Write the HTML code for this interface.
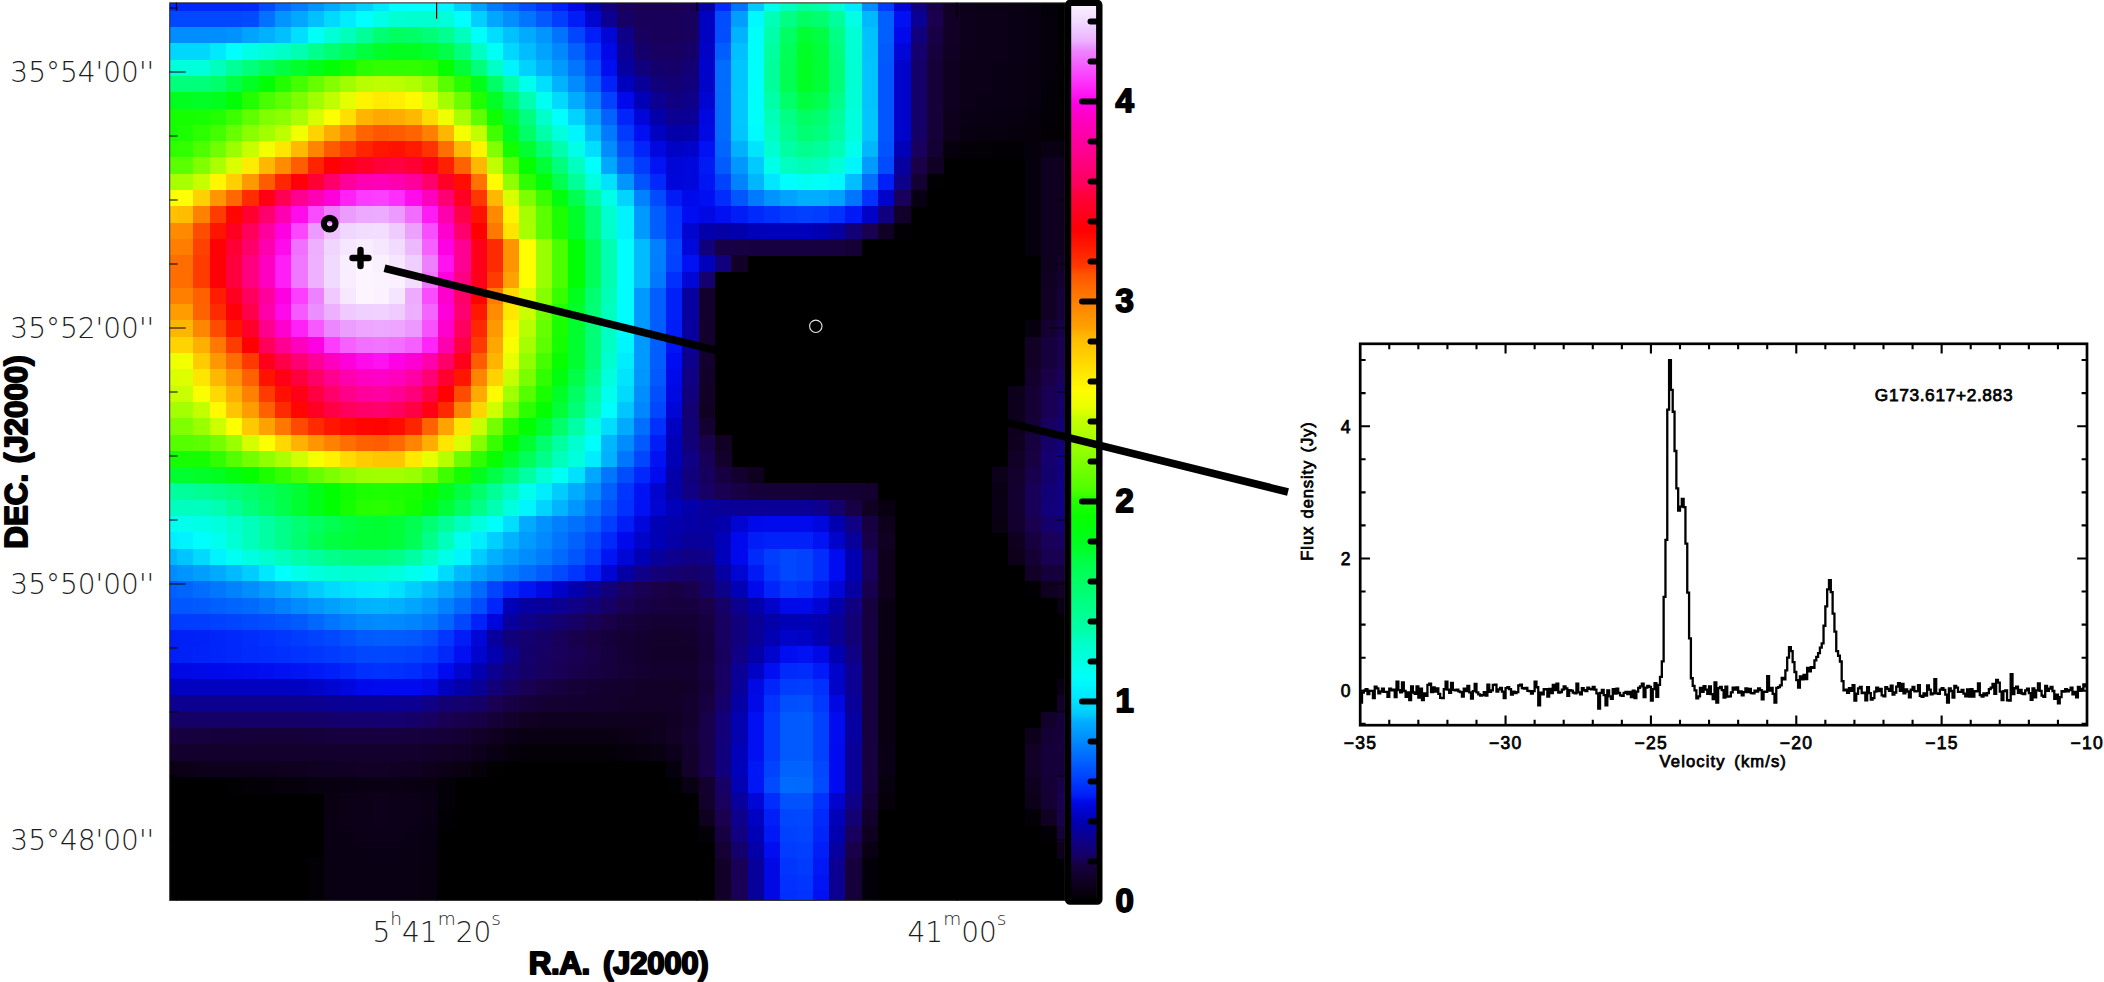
<!DOCTYPE html>
<html lang="en"><head><meta charset="utf-8"><title>G173.617+2.883</title>
<style>
html,body{margin:0;padding:0;background:#fff;}
svg{display:block}
.thin{font-family:"DejaVu Sans","Liberation Sans",sans-serif;font-weight:200;fill:#1c1c1c;}
.bold{font-family:"Liberation Sans","DejaVu Sans",sans-serif;font-weight:700;fill:#000;stroke:#000;stroke-linejoin:round;}
.pl{font-family:"Liberation Sans","DejaVu Sans",sans-serif;font-weight:400;fill:#000;stroke:#000;stroke-width:0.75;}
</style></head><body>
<svg width="2104" height="982" viewBox="0 0 2104 982">
<rect x="0" y="0" width="2104" height="982" fill="#fff"/>
<g shape-rendering="crispEdges">
<rect x="169.7" y="2.85" width="895.3" height="897.55" fill="#000"/>
<rect x="169.7" y="2.85" width="73" height="8.25" fill="#0027fb"/>
<rect x="242.3" y="2.85" width="16.7" height="8.25" fill="#0029fb"/>
<rect x="258.6" y="2.85" width="16.7" height="8.25" fill="#004bff"/>
<rect x="274.9" y="2.85" width="16.7" height="8.25" fill="#006aff"/>
<rect x="291.2" y="2.85" width="16.7" height="8.25" fill="#007eff"/>
<rect x="307.5" y="2.85" width="16.7" height="8.25" fill="#0094ff"/>
<rect x="323.8" y="2.85" width="16.7" height="8.25" fill="#00abff"/>
<rect x="340.1" y="2.85" width="16.7" height="8.25" fill="#00beff"/>
<rect x="356.4" y="2.85" width="16.7" height="8.25" fill="#00d1ff"/>
<rect x="372.7" y="2.85" width="16.7" height="8.25" fill="#00eaff"/>
<rect x="389" y="2.85" width="16.7" height="8.25" fill="#00fdff"/>
<rect x="405.3" y="2.85" width="33" height="8.25" fill="#00ffff"/>
<rect x="437.9" y="2.85" width="16.7" height="8.25" fill="#00f6ff"/>
<rect x="454.2" y="2.85" width="16.7" height="8.25" fill="#00d0ff"/>
<rect x="470.5" y="2.85" width="16.7" height="8.25" fill="#00a2ff"/>
<rect x="486.8" y="2.85" width="16.7" height="8.25" fill="#007cff"/>
<rect x="503.1" y="2.85" width="16.7" height="8.25" fill="#0064ff"/>
<rect x="519.4" y="2.85" width="16.7" height="8.25" fill="#004dff"/>
<rect x="535.7" y="2.85" width="16.7" height="8.25" fill="#0036ff"/>
<rect x="552" y="2.85" width="16.7" height="8.25" fill="#001ff8"/>
<rect x="568.3" y="2.85" width="16.7" height="8.25" fill="#0008e6"/>
<rect x="584.6" y="2.85" width="16.7" height="8.25" fill="#0100b1"/>
<rect x="600.9" y="2.85" width="16.7" height="8.25" fill="#11007d"/>
<rect x="617.2" y="2.85" width="16.7" height="8.25" fill="#18005b"/>
<rect x="633.5" y="2.85" width="49.3" height="8.25" fill="#1a0051"/>
<rect x="682.4" y="2.85" width="16.7" height="8.25" fill="#190054"/>
<rect x="698.7" y="2.85" width="16.7" height="8.25" fill="#0400a6"/>
<rect x="715" y="2.85" width="16.7" height="8.25" fill="#002bfc"/>
<rect x="731.3" y="2.85" width="16.7" height="8.25" fill="#0074ff"/>
<rect x="747.6" y="2.85" width="16.7" height="8.25" fill="#00c9ff"/>
<rect x="763.9" y="2.85" width="16.7" height="8.25" fill="#00ffea"/>
<rect x="780.2" y="2.85" width="16.7" height="8.25" fill="#00ffbc"/>
<rect x="796.5" y="2.85" width="16.7" height="8.25" fill="#00ff9f"/>
<rect x="812.8" y="2.85" width="16.7" height="8.25" fill="#00ffa9"/>
<rect x="829.1" y="2.85" width="16.7" height="8.25" fill="#00ffd1"/>
<rect x="845.4" y="2.85" width="16.7" height="8.25" fill="#00eaff"/>
<rect x="861.7" y="2.85" width="16.7" height="8.25" fill="#008dff"/>
<rect x="878" y="2.85" width="16.7" height="8.25" fill="#003aff"/>
<rect x="894.3" y="2.85" width="16.7" height="8.25" fill="#0005d4"/>
<rect x="910.6" y="2.85" width="16.7" height="8.25" fill="#100080"/>
<rect x="926.9" y="2.85" width="16.7" height="8.25" fill="#180044"/>
<rect x="943.2" y="2.85" width="16.7" height="8.25" fill="#100023"/>
<rect x="959.5" y="2.85" width="16.7" height="8.25" fill="#0c0019"/>
<rect x="975.8" y="2.85" width="16.7" height="8.25" fill="#0a0016"/>
<rect x="992.1" y="2.85" width="16.7" height="8.25" fill="#0a0014"/>
<rect x="1008.4" y="2.85" width="16.7" height="8.25" fill="#090012"/>
<rect x="1024.7" y="2.85" width="16.7" height="8.25" fill="#07000e"/>
<rect x="1041" y="2.85" width="16.7" height="8.25" fill="#040008"/>
<rect x="169.7" y="10.7" width="73" height="16.7" fill="#0048ff"/>
<rect x="242.3" y="10.7" width="16.7" height="16.7" fill="#004aff"/>
<rect x="258.6" y="10.7" width="16.7" height="16.7" fill="#0072ff"/>
<rect x="274.9" y="10.7" width="16.7" height="16.7" fill="#0095ff"/>
<rect x="291.2" y="10.7" width="16.7" height="16.7" fill="#00a9ff"/>
<rect x="307.5" y="10.7" width="16.7" height="16.7" fill="#00c0ff"/>
<rect x="323.8" y="10.7" width="16.7" height="16.7" fill="#00daff"/>
<rect x="340.1" y="10.7" width="16.7" height="16.7" fill="#00edff"/>
<rect x="356.4" y="10.7" width="16.7" height="16.7" fill="#00fffe"/>
<rect x="372.7" y="10.7" width="16.7" height="16.7" fill="#00ffe5"/>
<rect x="389" y="10.7" width="16.7" height="16.7" fill="#00ffd2"/>
<rect x="405.3" y="10.7" width="33" height="16.7" fill="#00ffd0"/>
<rect x="437.9" y="10.7" width="16.7" height="16.7" fill="#00ffd9"/>
<rect x="454.2" y="10.7" width="16.7" height="16.7" fill="#00ffff"/>
<rect x="470.5" y="10.7" width="16.7" height="16.7" fill="#00d0ff"/>
<rect x="486.8" y="10.7" width="16.7" height="16.7" fill="#00a7ff"/>
<rect x="503.1" y="10.7" width="16.7" height="16.7" fill="#008fff"/>
<rect x="519.4" y="10.7" width="16.7" height="16.7" fill="#0075ff"/>
<rect x="535.7" y="10.7" width="16.7" height="16.7" fill="#005aff"/>
<rect x="552" y="10.7" width="16.7" height="16.7" fill="#003eff"/>
<rect x="568.3" y="10.7" width="16.7" height="16.7" fill="#001df7"/>
<rect x="584.6" y="10.7" width="16.7" height="16.7" fill="#0005d1"/>
<rect x="600.9" y="10.7" width="16.7" height="16.7" fill="#0b0091"/>
<rect x="617.2" y="10.7" width="16.7" height="16.7" fill="#160066"/>
<rect x="633.5" y="10.7" width="49.3" height="16.7" fill="#18005a"/>
<rect x="682.4" y="10.7" width="16.7" height="16.7" fill="#17005e"/>
<rect x="698.7" y="10.7" width="16.7" height="16.7" fill="#0002c2"/>
<rect x="715" y="10.7" width="16.7" height="16.7" fill="#004dff"/>
<rect x="731.3" y="10.7" width="16.7" height="16.7" fill="#009fff"/>
<rect x="747.6" y="10.7" width="16.7" height="16.7" fill="#00f9ff"/>
<rect x="763.9" y="10.7" width="16.7" height="16.7" fill="#00ffb7"/>
<rect x="780.2" y="10.7" width="16.7" height="16.7" fill="#00ff83"/>
<rect x="796.5" y="10.7" width="16.7" height="16.7" fill="#00ff62"/>
<rect x="812.8" y="10.7" width="16.7" height="16.7" fill="#00ff6e"/>
<rect x="829.1" y="10.7" width="16.7" height="16.7" fill="#00ff9b"/>
<rect x="845.4" y="10.7" width="16.7" height="16.7" fill="#00ffe5"/>
<rect x="861.7" y="10.7" width="16.7" height="16.7" fill="#00b8ff"/>
<rect x="878" y="10.7" width="16.7" height="16.7" fill="#0060ff"/>
<rect x="894.3" y="10.7" width="16.7" height="16.7" fill="#0010f2"/>
<rect x="910.6" y="10.7" width="16.7" height="16.7" fill="#0a0094"/>
<rect x="926.9" y="10.7" width="16.7" height="16.7" fill="#1a004e"/>
<rect x="943.2" y="10.7" width="16.7" height="16.7" fill="#120027"/>
<rect x="959.5" y="10.7" width="16.7" height="16.7" fill="#0d001c"/>
<rect x="975.8" y="10.7" width="16.7" height="16.7" fill="#0c0019"/>
<rect x="992.1" y="10.7" width="16.7" height="16.7" fill="#0b0017"/>
<rect x="1008.4" y="10.7" width="16.7" height="16.7" fill="#0a0015"/>
<rect x="1024.7" y="10.7" width="16.7" height="16.7" fill="#080010"/>
<rect x="1041" y="10.7" width="16.7" height="16.7" fill="#040009"/>
<rect x="169.7" y="27" width="56.7" height="16.7" fill="#008dff"/>
<rect x="226" y="27" width="16.7" height="16.7" fill="#0093ff"/>
<rect x="242.3" y="27" width="16.7" height="16.7" fill="#00a4ff"/>
<rect x="258.6" y="27" width="16.7" height="16.7" fill="#00b1ff"/>
<rect x="274.9" y="27" width="16.7" height="16.7" fill="#00c0ff"/>
<rect x="291.2" y="27" width="16.7" height="16.7" fill="#00dfff"/>
<rect x="307.5" y="27" width="16.7" height="16.7" fill="#00fff6"/>
<rect x="323.8" y="27" width="16.7" height="16.7" fill="#00ffd7"/>
<rect x="340.1" y="27" width="16.7" height="16.7" fill="#00ffba"/>
<rect x="356.4" y="27" width="16.7" height="16.7" fill="#00ff99"/>
<rect x="372.7" y="27" width="16.7" height="16.7" fill="#00ff73"/>
<rect x="389" y="27" width="16.7" height="16.7" fill="#00ff5f"/>
<rect x="405.3" y="27" width="16.7" height="16.7" fill="#00ff66"/>
<rect x="421.6" y="27" width="16.7" height="16.7" fill="#00ff76"/>
<rect x="437.9" y="27" width="16.7" height="16.7" fill="#00ff90"/>
<rect x="454.2" y="27" width="16.7" height="16.7" fill="#00ffbe"/>
<rect x="470.5" y="27" width="16.7" height="16.7" fill="#00fffb"/>
<rect x="486.8" y="27" width="16.7" height="16.7" fill="#00deff"/>
<rect x="503.1" y="27" width="16.7" height="16.7" fill="#00c0ff"/>
<rect x="519.4" y="27" width="16.7" height="16.7" fill="#00aaff"/>
<rect x="535.7" y="27" width="16.7" height="16.7" fill="#0095ff"/>
<rect x="552" y="27" width="16.7" height="16.7" fill="#0073ff"/>
<rect x="568.3" y="27" width="16.7" height="16.7" fill="#0046ff"/>
<rect x="584.6" y="27" width="16.7" height="16.7" fill="#001ff8"/>
<rect x="600.9" y="27" width="16.7" height="16.7" fill="#0006d6"/>
<rect x="617.2" y="27" width="16.7" height="16.7" fill="#0e0088"/>
<rect x="633.5" y="27" width="16.7" height="16.7" fill="#170060"/>
<rect x="649.8" y="27" width="33" height="16.7" fill="#18005a"/>
<rect x="682.4" y="27" width="16.7" height="16.7" fill="#17005e"/>
<rect x="698.7" y="27" width="16.7" height="16.7" fill="#0002c2"/>
<rect x="715" y="27" width="16.7" height="16.7" fill="#004eff"/>
<rect x="731.3" y="27" width="16.7" height="16.7" fill="#00b3ff"/>
<rect x="747.6" y="27" width="16.7" height="16.7" fill="#00fffa"/>
<rect x="763.9" y="27" width="16.7" height="16.7" fill="#00ffa9"/>
<rect x="780.2" y="27" width="16.7" height="16.7" fill="#00ff63"/>
<rect x="796.5" y="27" width="16.7" height="16.7" fill="#00ff33"/>
<rect x="812.8" y="27" width="16.7" height="16.7" fill="#00ff44"/>
<rect x="829.1" y="27" width="16.7" height="16.7" fill="#00ff85"/>
<rect x="845.4" y="27" width="16.7" height="16.7" fill="#00ffd5"/>
<rect x="861.7" y="27" width="16.7" height="16.7" fill="#00c1ff"/>
<rect x="878" y="27" width="16.7" height="16.7" fill="#0060ff"/>
<rect x="894.3" y="27" width="16.7" height="16.7" fill="#0009ec"/>
<rect x="910.6" y="27" width="16.7" height="16.7" fill="#11007d"/>
<rect x="926.9" y="27" width="16.7" height="16.7" fill="#180046"/>
<rect x="943.2" y="27" width="16.7" height="16.7" fill="#120026"/>
<rect x="959.5" y="27" width="16.7" height="16.7" fill="#0d001c"/>
<rect x="975.8" y="27" width="16.7" height="16.7" fill="#0c0019"/>
<rect x="992.1" y="27" width="16.7" height="16.7" fill="#0b0017"/>
<rect x="1008.4" y="27" width="16.7" height="16.7" fill="#0a0015"/>
<rect x="1024.7" y="27" width="16.7" height="16.7" fill="#080010"/>
<rect x="1041" y="27" width="16.7" height="16.7" fill="#040009"/>
<rect x="169.7" y="43.3" width="40.4" height="16.7" fill="#00d7ff"/>
<rect x="209.7" y="43.3" width="16.7" height="16.7" fill="#00e9ff"/>
<rect x="226" y="43.3" width="16.7" height="16.7" fill="#00fffe"/>
<rect x="242.3" y="43.3" width="16.7" height="16.7" fill="#00ffe6"/>
<rect x="258.6" y="43.3" width="16.7" height="16.7" fill="#00ffd7"/>
<rect x="274.9" y="43.3" width="16.7" height="16.7" fill="#00ffc8"/>
<rect x="291.2" y="43.3" width="16.7" height="16.7" fill="#00ffae"/>
<rect x="307.5" y="43.3" width="16.7" height="16.7" fill="#00ff8c"/>
<rect x="323.8" y="43.3" width="16.7" height="16.7" fill="#00ff73"/>
<rect x="340.1" y="43.3" width="16.7" height="16.7" fill="#00ff5b"/>
<rect x="356.4" y="43.3" width="16.7" height="16.7" fill="#00ff3f"/>
<rect x="372.7" y="43.3" width="16.7" height="16.7" fill="#00ff28"/>
<rect x="389" y="43.3" width="16.7" height="16.7" fill="#00ff1e"/>
<rect x="405.3" y="43.3" width="16.7" height="16.7" fill="#00ff21"/>
<rect x="421.6" y="43.3" width="16.7" height="16.7" fill="#00ff2c"/>
<rect x="437.9" y="43.3" width="16.7" height="16.7" fill="#00ff46"/>
<rect x="454.2" y="43.3" width="16.7" height="16.7" fill="#00ff7d"/>
<rect x="470.5" y="43.3" width="16.7" height="16.7" fill="#00ffc2"/>
<rect x="486.8" y="43.3" width="16.7" height="16.7" fill="#00fff7"/>
<rect x="503.1" y="43.3" width="16.7" height="16.7" fill="#00d7ff"/>
<rect x="519.4" y="43.3" width="16.7" height="16.7" fill="#00bdff"/>
<rect x="535.7" y="43.3" width="16.7" height="16.7" fill="#00a4ff"/>
<rect x="552" y="43.3" width="16.7" height="16.7" fill="#0088ff"/>
<rect x="568.3" y="43.3" width="16.7" height="16.7" fill="#0061ff"/>
<rect x="584.6" y="43.3" width="16.7" height="16.7" fill="#0035ff"/>
<rect x="600.9" y="43.3" width="16.7" height="16.7" fill="#0008e7"/>
<rect x="617.2" y="43.3" width="16.7" height="16.7" fill="#0a0095"/>
<rect x="633.5" y="43.3" width="16.7" height="16.7" fill="#15006b"/>
<rect x="649.8" y="43.3" width="33" height="16.7" fill="#170060"/>
<rect x="682.4" y="43.3" width="16.7" height="16.7" fill="#150067"/>
<rect x="698.7" y="43.3" width="16.7" height="16.7" fill="#0003c6"/>
<rect x="715" y="43.3" width="16.7" height="16.7" fill="#005eff"/>
<rect x="731.3" y="43.3" width="16.7" height="16.7" fill="#00c0ff"/>
<rect x="747.6" y="43.3" width="16.7" height="16.7" fill="#00fffa"/>
<rect x="763.9" y="43.3" width="16.7" height="16.7" fill="#00ff9f"/>
<rect x="780.2" y="43.3" width="16.7" height="16.7" fill="#00ff57"/>
<rect x="796.5" y="43.3" width="16.7" height="16.7" fill="#00ff27"/>
<rect x="812.8" y="43.3" width="16.7" height="16.7" fill="#00ff39"/>
<rect x="829.1" y="43.3" width="16.7" height="16.7" fill="#00ff7c"/>
<rect x="845.4" y="43.3" width="16.7" height="16.7" fill="#00ffd4"/>
<rect x="861.7" y="43.3" width="16.7" height="16.7" fill="#00c2ff"/>
<rect x="878" y="43.3" width="16.7" height="16.7" fill="#005bff"/>
<rect x="894.3" y="43.3" width="16.7" height="16.7" fill="#0006d7"/>
<rect x="910.6" y="43.3" width="16.7" height="16.7" fill="#14006e"/>
<rect x="926.9" y="43.3" width="16.7" height="16.7" fill="#17003e"/>
<rect x="943.2" y="43.3" width="16.7" height="16.7" fill="#100023"/>
<rect x="959.5" y="43.3" width="16.7" height="16.7" fill="#0d001b"/>
<rect x="975.8" y="43.3" width="16.7" height="16.7" fill="#0b0018"/>
<rect x="992.1" y="43.3" width="16.7" height="16.7" fill="#0b0017"/>
<rect x="1008.4" y="43.3" width="16.7" height="16.7" fill="#0a0015"/>
<rect x="1024.7" y="43.3" width="16.7" height="16.7" fill="#080011"/>
<rect x="1041" y="43.3" width="16.7" height="16.7" fill="#040009"/>
<rect x="169.7" y="59.6" width="40.4" height="16.7" fill="#00ffdb"/>
<rect x="209.7" y="59.6" width="16.7" height="16.7" fill="#00ffbe"/>
<rect x="226" y="59.6" width="16.7" height="16.7" fill="#00ff99"/>
<rect x="242.3" y="59.6" width="16.7" height="16.7" fill="#00ff7a"/>
<rect x="258.6" y="59.6" width="16.7" height="16.7" fill="#00ff5e"/>
<rect x="274.9" y="59.6" width="16.7" height="16.7" fill="#00ff43"/>
<rect x="291.2" y="59.6" width="16.7" height="16.7" fill="#00ff2b"/>
<rect x="307.5" y="59.6" width="16.7" height="16.7" fill="#00ff16"/>
<rect x="323.8" y="59.6" width="16.7" height="16.7" fill="#00ff05"/>
<rect x="340.1" y="59.6" width="16.7" height="16.7" fill="#10ff00"/>
<rect x="356.4" y="59.6" width="16.7" height="16.7" fill="#29ff00"/>
<rect x="372.7" y="59.6" width="16.7" height="16.7" fill="#31ff00"/>
<rect x="389" y="59.6" width="33" height="16.7" fill="#30ff00"/>
<rect x="421.6" y="59.6" width="16.7" height="16.7" fill="#27ff00"/>
<rect x="437.9" y="59.6" width="16.7" height="16.7" fill="#03ff00"/>
<rect x="454.2" y="59.6" width="16.7" height="16.7" fill="#00ff36"/>
<rect x="470.5" y="59.6" width="16.7" height="16.7" fill="#00ff7b"/>
<rect x="486.8" y="59.6" width="16.7" height="16.7" fill="#00ffc6"/>
<rect x="503.1" y="59.6" width="16.7" height="16.7" fill="#00f3ff"/>
<rect x="519.4" y="59.6" width="16.7" height="16.7" fill="#00d2ff"/>
<rect x="535.7" y="59.6" width="16.7" height="16.7" fill="#00b4ff"/>
<rect x="552" y="59.6" width="16.7" height="16.7" fill="#0099ff"/>
<rect x="568.3" y="59.6" width="16.7" height="16.7" fill="#0076ff"/>
<rect x="584.6" y="59.6" width="16.7" height="16.7" fill="#0049ff"/>
<rect x="600.9" y="59.6" width="16.7" height="16.7" fill="#000df1"/>
<rect x="617.2" y="59.6" width="16.7" height="16.7" fill="#0600a1"/>
<rect x="633.5" y="59.6" width="16.7" height="16.7" fill="#11007d"/>
<rect x="649.8" y="59.6" width="16.7" height="16.7" fill="#14006c"/>
<rect x="666.1" y="59.6" width="16.7" height="16.7" fill="#150069"/>
<rect x="682.4" y="59.6" width="16.7" height="16.7" fill="#130075"/>
<rect x="698.7" y="59.6" width="16.7" height="16.7" fill="#0004ca"/>
<rect x="715" y="59.6" width="16.7" height="16.7" fill="#006dff"/>
<rect x="731.3" y="59.6" width="16.7" height="16.7" fill="#00c6ff"/>
<rect x="747.6" y="59.6" width="16.7" height="16.7" fill="#00fffa"/>
<rect x="763.9" y="59.6" width="16.7" height="16.7" fill="#00ff9a"/>
<rect x="780.2" y="59.6" width="16.7" height="16.7" fill="#00ff52"/>
<rect x="796.5" y="59.6" width="16.7" height="16.7" fill="#00ff23"/>
<rect x="812.8" y="59.6" width="16.7" height="16.7" fill="#00ff36"/>
<rect x="829.1" y="59.6" width="16.7" height="16.7" fill="#00ff78"/>
<rect x="845.4" y="59.6" width="16.7" height="16.7" fill="#00ffd3"/>
<rect x="861.7" y="59.6" width="16.7" height="16.7" fill="#00c3ff"/>
<rect x="878" y="59.6" width="16.7" height="16.7" fill="#0056ff"/>
<rect x="894.3" y="59.6" width="16.7" height="16.7" fill="#0004cb"/>
<rect x="910.6" y="59.6" width="16.7" height="16.7" fill="#150067"/>
<rect x="926.9" y="59.6" width="16.7" height="16.7" fill="#160039"/>
<rect x="943.2" y="59.6" width="16.7" height="16.7" fill="#0f0020"/>
<rect x="959.5" y="59.6" width="16.7" height="16.7" fill="#0c0019"/>
<rect x="975.8" y="59.6" width="16.7" height="16.7" fill="#0b0017"/>
<rect x="992.1" y="59.6" width="16.7" height="16.7" fill="#0a0016"/>
<rect x="1008.4" y="59.6" width="16.7" height="16.7" fill="#0a0014"/>
<rect x="1024.7" y="59.6" width="16.7" height="16.7" fill="#080011"/>
<rect x="1041" y="59.6" width="16.7" height="16.7" fill="#040009"/>
<rect x="169.7" y="75.9" width="40.4" height="16.7" fill="#00ff7b"/>
<rect x="209.7" y="75.9" width="16.7" height="16.7" fill="#00ff6c"/>
<rect x="226" y="75.9" width="16.7" height="16.7" fill="#00ff47"/>
<rect x="242.3" y="75.9" width="16.7" height="16.7" fill="#00ff24"/>
<rect x="258.6" y="75.9" width="16.7" height="16.7" fill="#00ff05"/>
<rect x="274.9" y="75.9" width="16.7" height="16.7" fill="#21ff00"/>
<rect x="291.2" y="75.9" width="16.7" height="16.7" fill="#44ff00"/>
<rect x="307.5" y="75.9" width="16.7" height="16.7" fill="#66ff00"/>
<rect x="323.8" y="75.9" width="16.7" height="16.7" fill="#84ff00"/>
<rect x="340.1" y="75.9" width="16.7" height="16.7" fill="#9fff00"/>
<rect x="356.4" y="75.9" width="16.7" height="16.7" fill="#b7ff00"/>
<rect x="372.7" y="75.9" width="16.7" height="16.7" fill="#bdff00"/>
<rect x="389" y="75.9" width="16.7" height="16.7" fill="#b9ff00"/>
<rect x="405.3" y="75.9" width="16.7" height="16.7" fill="#afff00"/>
<rect x="421.6" y="75.9" width="16.7" height="16.7" fill="#95ff00"/>
<rect x="437.9" y="75.9" width="16.7" height="16.7" fill="#59ff00"/>
<rect x="454.2" y="75.9" width="16.7" height="16.7" fill="#27ff00"/>
<rect x="470.5" y="75.9" width="16.7" height="16.7" fill="#00ff18"/>
<rect x="486.8" y="75.9" width="16.7" height="16.7" fill="#00ff64"/>
<rect x="503.1" y="75.9" width="16.7" height="16.7" fill="#00ffad"/>
<rect x="519.4" y="75.9" width="16.7" height="16.7" fill="#00ffed"/>
<rect x="535.7" y="75.9" width="16.7" height="16.7" fill="#00dfff"/>
<rect x="552" y="75.9" width="16.7" height="16.7" fill="#00b2ff"/>
<rect x="568.3" y="75.9" width="16.7" height="16.7" fill="#008bff"/>
<rect x="584.6" y="75.9" width="16.7" height="16.7" fill="#0060ff"/>
<rect x="600.9" y="75.9" width="16.7" height="16.7" fill="#0022f9"/>
<rect x="617.2" y="75.9" width="16.7" height="16.7" fill="#0001bd"/>
<rect x="633.5" y="75.9" width="16.7" height="16.7" fill="#090099"/>
<rect x="649.8" y="75.9" width="16.7" height="16.7" fill="#11007c"/>
<rect x="666.1" y="75.9" width="16.7" height="16.7" fill="#130074"/>
<rect x="682.4" y="75.9" width="16.7" height="16.7" fill="#11007c"/>
<rect x="698.7" y="75.9" width="16.7" height="16.7" fill="#0003c8"/>
<rect x="715" y="75.9" width="16.7" height="16.7" fill="#006dff"/>
<rect x="731.3" y="75.9" width="16.7" height="16.7" fill="#00c6ff"/>
<rect x="747.6" y="75.9" width="16.7" height="16.7" fill="#00fffa"/>
<rect x="763.9" y="75.9" width="16.7" height="16.7" fill="#00ff9a"/>
<rect x="780.2" y="75.9" width="16.7" height="16.7" fill="#00ff52"/>
<rect x="796.5" y="75.9" width="16.7" height="16.7" fill="#00ff23"/>
<rect x="812.8" y="75.9" width="16.7" height="16.7" fill="#00ff36"/>
<rect x="829.1" y="75.9" width="16.7" height="16.7" fill="#00ff78"/>
<rect x="845.4" y="75.9" width="16.7" height="16.7" fill="#00ffd3"/>
<rect x="861.7" y="75.9" width="16.7" height="16.7" fill="#00c3ff"/>
<rect x="878" y="75.9" width="16.7" height="16.7" fill="#0056ff"/>
<rect x="894.3" y="75.9" width="16.7" height="16.7" fill="#0004cb"/>
<rect x="910.6" y="75.9" width="16.7" height="16.7" fill="#150067"/>
<rect x="926.9" y="75.9" width="16.7" height="16.7" fill="#160039"/>
<rect x="943.2" y="75.9" width="16.7" height="16.7" fill="#0f0020"/>
<rect x="959.5" y="75.9" width="16.7" height="16.7" fill="#0c0019"/>
<rect x="975.8" y="75.9" width="16.7" height="16.7" fill="#0b0017"/>
<rect x="992.1" y="75.9" width="16.7" height="16.7" fill="#0a0016"/>
<rect x="1008.4" y="75.9" width="16.7" height="16.7" fill="#0a0014"/>
<rect x="1024.7" y="75.9" width="16.7" height="16.7" fill="#080011"/>
<rect x="1041" y="75.9" width="16.7" height="16.7" fill="#040009"/>
<rect x="169.7" y="92.2" width="7.8" height="16.7" fill="#00ff1e"/>
<rect x="177.1" y="92.2" width="16.7" height="16.7" fill="#00ff20"/>
<rect x="193.4" y="92.2" width="16.7" height="16.7" fill="#00ff25"/>
<rect x="209.7" y="92.2" width="16.7" height="16.7" fill="#00ff1d"/>
<rect x="226" y="92.2" width="16.7" height="16.7" fill="#00ff05"/>
<rect x="242.3" y="92.2" width="16.7" height="16.7" fill="#22ff00"/>
<rect x="258.6" y="92.2" width="16.7" height="16.7" fill="#47ff00"/>
<rect x="274.9" y="92.2" width="16.7" height="16.7" fill="#5eff00"/>
<rect x="291.2" y="92.2" width="16.7" height="16.7" fill="#7cff00"/>
<rect x="307.5" y="92.2" width="16.7" height="16.7" fill="#a0ff00"/>
<rect x="323.8" y="92.2" width="16.7" height="16.7" fill="#bfff00"/>
<rect x="340.1" y="92.2" width="16.7" height="16.7" fill="#e3ff00"/>
<rect x="356.4" y="92.2" width="16.7" height="16.7" fill="#fff400"/>
<rect x="372.7" y="92.2" width="16.7" height="16.7" fill="#ffea00"/>
<rect x="389" y="92.2" width="16.7" height="16.7" fill="#ffef00"/>
<rect x="405.3" y="92.2" width="16.7" height="16.7" fill="#fffa00"/>
<rect x="421.6" y="92.2" width="16.7" height="16.7" fill="#deff00"/>
<rect x="437.9" y="92.2" width="16.7" height="16.7" fill="#a3ff00"/>
<rect x="454.2" y="92.2" width="16.7" height="16.7" fill="#6dff00"/>
<rect x="470.5" y="92.2" width="16.7" height="16.7" fill="#20ff00"/>
<rect x="486.8" y="92.2" width="16.7" height="16.7" fill="#00ff25"/>
<rect x="503.1" y="92.2" width="16.7" height="16.7" fill="#00ff66"/>
<rect x="519.4" y="92.2" width="16.7" height="16.7" fill="#00ffaf"/>
<rect x="535.7" y="92.2" width="16.7" height="16.7" fill="#00fff2"/>
<rect x="552" y="92.2" width="16.7" height="16.7" fill="#00daff"/>
<rect x="568.3" y="92.2" width="16.7" height="16.7" fill="#00acff"/>
<rect x="584.6" y="92.2" width="16.7" height="16.7" fill="#0080ff"/>
<rect x="600.9" y="92.2" width="16.7" height="16.7" fill="#0042ff"/>
<rect x="617.2" y="92.2" width="16.7" height="16.7" fill="#0009eb"/>
<rect x="633.5" y="92.2" width="16.7" height="16.7" fill="#0000b6"/>
<rect x="649.8" y="92.2" width="16.7" height="16.7" fill="#0b0092"/>
<rect x="666.1" y="92.2" width="16.7" height="16.7" fill="#100081"/>
<rect x="682.4" y="92.2" width="16.7" height="16.7" fill="#0e0087"/>
<rect x="698.7" y="92.2" width="16.7" height="16.7" fill="#0005d2"/>
<rect x="715" y="92.2" width="16.7" height="16.7" fill="#006cff"/>
<rect x="731.3" y="92.2" width="16.7" height="16.7" fill="#00c7ff"/>
<rect x="747.6" y="92.2" width="16.7" height="16.7" fill="#00fffb"/>
<rect x="763.9" y="92.2" width="16.7" height="16.7" fill="#00ffa6"/>
<rect x="780.2" y="92.2" width="16.7" height="16.7" fill="#00ff68"/>
<rect x="796.5" y="92.2" width="16.7" height="16.7" fill="#00ff3f"/>
<rect x="812.8" y="92.2" width="16.7" height="16.7" fill="#00ff4f"/>
<rect x="829.1" y="92.2" width="16.7" height="16.7" fill="#00ff88"/>
<rect x="845.4" y="92.2" width="16.7" height="16.7" fill="#00ffd7"/>
<rect x="861.7" y="92.2" width="16.7" height="16.7" fill="#00c3ff"/>
<rect x="878" y="92.2" width="16.7" height="16.7" fill="#0056ff"/>
<rect x="894.3" y="92.2" width="16.7" height="16.7" fill="#0004cb"/>
<rect x="910.6" y="92.2" width="16.7" height="16.7" fill="#150067"/>
<rect x="926.9" y="92.2" width="16.7" height="16.7" fill="#160039"/>
<rect x="943.2" y="92.2" width="16.7" height="16.7" fill="#0f001f"/>
<rect x="959.5" y="92.2" width="16.7" height="16.7" fill="#0b0018"/>
<rect x="975.8" y="92.2" width="16.7" height="16.7" fill="#0a0016"/>
<rect x="992.1" y="92.2" width="16.7" height="16.7" fill="#0a0015"/>
<rect x="1008.4" y="92.2" width="16.7" height="16.7" fill="#090013"/>
<rect x="1024.7" y="92.2" width="16.7" height="16.7" fill="#070010"/>
<rect x="1041" y="92.2" width="16.7" height="16.7" fill="#040008"/>
<rect x="169.7" y="108.5" width="7.8" height="16.7" fill="#15ff00"/>
<rect x="177.1" y="108.5" width="16.7" height="16.7" fill="#16ff00"/>
<rect x="193.4" y="108.5" width="16.7" height="16.7" fill="#17ff00"/>
<rect x="209.7" y="108.5" width="16.7" height="16.7" fill="#23ff00"/>
<rect x="226" y="108.5" width="16.7" height="16.7" fill="#3cff00"/>
<rect x="242.3" y="108.5" width="16.7" height="16.7" fill="#60ff00"/>
<rect x="258.6" y="108.5" width="16.7" height="16.7" fill="#80ff00"/>
<rect x="274.9" y="108.5" width="16.7" height="16.7" fill="#8dff00"/>
<rect x="291.2" y="108.5" width="16.7" height="16.7" fill="#a9ff00"/>
<rect x="307.5" y="108.5" width="16.7" height="16.7" fill="#d6ff00"/>
<rect x="323.8" y="108.5" width="16.7" height="16.7" fill="#fdff00"/>
<rect x="340.1" y="108.5" width="16.7" height="16.7" fill="#ffdf00"/>
<rect x="356.4" y="108.5" width="16.7" height="16.7" fill="#ffb500"/>
<rect x="372.7" y="108.5" width="16.7" height="16.7" fill="#ffa800"/>
<rect x="389" y="108.5" width="16.7" height="16.7" fill="#ffad00"/>
<rect x="405.3" y="108.5" width="16.7" height="16.7" fill="#ffb800"/>
<rect x="421.6" y="108.5" width="16.7" height="16.7" fill="#ffdb00"/>
<rect x="437.9" y="108.5" width="16.7" height="16.7" fill="#f0ff00"/>
<rect x="454.2" y="108.5" width="16.7" height="16.7" fill="#a9ff00"/>
<rect x="470.5" y="108.5" width="16.7" height="16.7" fill="#60ff00"/>
<rect x="486.8" y="108.5" width="16.7" height="16.7" fill="#0fff00"/>
<rect x="503.1" y="108.5" width="16.7" height="16.7" fill="#00ff35"/>
<rect x="519.4" y="108.5" width="16.7" height="16.7" fill="#00ff7e"/>
<rect x="535.7" y="108.5" width="16.7" height="16.7" fill="#00ffc9"/>
<rect x="552" y="108.5" width="16.7" height="16.7" fill="#00fffd"/>
<rect x="568.3" y="108.5" width="16.7" height="16.7" fill="#00d3ff"/>
<rect x="584.6" y="108.5" width="16.7" height="16.7" fill="#00a0ff"/>
<rect x="600.9" y="108.5" width="16.7" height="16.7" fill="#0063ff"/>
<rect x="617.2" y="108.5" width="16.7" height="16.7" fill="#0024fa"/>
<rect x="633.5" y="108.5" width="16.7" height="16.7" fill="#0006d8"/>
<rect x="649.8" y="108.5" width="16.7" height="16.7" fill="#0300aa"/>
<rect x="666.1" y="108.5" width="16.7" height="16.7" fill="#0b0092"/>
<rect x="682.4" y="108.5" width="16.7" height="16.7" fill="#0a0096"/>
<rect x="698.7" y="108.5" width="16.7" height="16.7" fill="#0007df"/>
<rect x="715" y="108.5" width="16.7" height="16.7" fill="#006bff"/>
<rect x="731.3" y="108.5" width="16.7" height="16.7" fill="#00c7ff"/>
<rect x="747.6" y="108.5" width="16.7" height="16.7" fill="#00fffb"/>
<rect x="763.9" y="108.5" width="16.7" height="16.7" fill="#00ffb7"/>
<rect x="780.2" y="108.5" width="16.7" height="16.7" fill="#00ff84"/>
<rect x="796.5" y="108.5" width="16.7" height="16.7" fill="#00ff63"/>
<rect x="812.8" y="108.5" width="16.7" height="16.7" fill="#00ff6f"/>
<rect x="829.1" y="108.5" width="16.7" height="16.7" fill="#00ff9b"/>
<rect x="845.4" y="108.5" width="16.7" height="16.7" fill="#00ffdc"/>
<rect x="861.7" y="108.5" width="16.7" height="16.7" fill="#00c5ff"/>
<rect x="878" y="108.5" width="16.7" height="16.7" fill="#0056ff"/>
<rect x="894.3" y="108.5" width="16.7" height="16.7" fill="#0004cb"/>
<rect x="910.6" y="108.5" width="16.7" height="16.7" fill="#150067"/>
<rect x="926.9" y="108.5" width="16.7" height="16.7" fill="#160039"/>
<rect x="943.2" y="108.5" width="16.7" height="16.7" fill="#0e001d"/>
<rect x="959.5" y="108.5" width="16.7" height="16.7" fill="#0a0015"/>
<rect x="975.8" y="108.5" width="16.7" height="16.7" fill="#090013"/>
<rect x="992.1" y="108.5" width="16.7" height="16.7" fill="#080012"/>
<rect x="1008.4" y="108.5" width="16.7" height="16.7" fill="#080010"/>
<rect x="1024.7" y="108.5" width="16.7" height="16.7" fill="#06000d"/>
<rect x="1041" y="108.5" width="16.7" height="16.7" fill="#030007"/>
<rect x="169.7" y="124.8" width="7.8" height="16.7" fill="#15ff00"/>
<rect x="177.1" y="124.8" width="16.7" height="16.7" fill="#1cff00"/>
<rect x="193.4" y="124.8" width="16.7" height="16.7" fill="#2bff00"/>
<rect x="209.7" y="124.8" width="16.7" height="16.7" fill="#43ff00"/>
<rect x="226" y="124.8" width="16.7" height="16.7" fill="#68ff00"/>
<rect x="242.3" y="124.8" width="16.7" height="16.7" fill="#89ff00"/>
<rect x="258.6" y="124.8" width="16.7" height="16.7" fill="#a1ff00"/>
<rect x="274.9" y="124.8" width="16.7" height="16.7" fill="#bdff00"/>
<rect x="291.2" y="124.8" width="16.7" height="16.7" fill="#f2ff00"/>
<rect x="307.5" y="124.8" width="16.7" height="16.7" fill="#ffd300"/>
<rect x="323.8" y="124.8" width="16.7" height="16.7" fill="#ffac00"/>
<rect x="340.1" y="124.8" width="16.7" height="16.7" fill="#ff8a00"/>
<rect x="356.4" y="124.8" width="16.7" height="16.7" fill="#ff6400"/>
<rect x="372.7" y="124.8" width="16.7" height="16.7" fill="#ff5700"/>
<rect x="389" y="124.8" width="16.7" height="16.7" fill="#ff5b00"/>
<rect x="405.3" y="124.8" width="16.7" height="16.7" fill="#ff6400"/>
<rect x="421.6" y="124.8" width="16.7" height="16.7" fill="#ff7f00"/>
<rect x="437.9" y="124.8" width="16.7" height="16.7" fill="#ffb600"/>
<rect x="454.2" y="124.8" width="16.7" height="16.7" fill="#f4ff00"/>
<rect x="470.5" y="124.8" width="16.7" height="16.7" fill="#c1ff00"/>
<rect x="486.8" y="124.8" width="16.7" height="16.7" fill="#41ff00"/>
<rect x="503.1" y="124.8" width="16.7" height="16.7" fill="#00ff1d"/>
<rect x="519.4" y="124.8" width="16.7" height="16.7" fill="#00ff66"/>
<rect x="535.7" y="124.8" width="16.7" height="16.7" fill="#00ffa9"/>
<rect x="552" y="124.8" width="16.7" height="16.7" fill="#00ffda"/>
<rect x="568.3" y="124.8" width="16.7" height="16.7" fill="#00f5ff"/>
<rect x="584.6" y="124.8" width="16.7" height="16.7" fill="#00bcff"/>
<rect x="600.9" y="124.8" width="16.7" height="16.7" fill="#007aff"/>
<rect x="617.2" y="124.8" width="16.7" height="16.7" fill="#0039ff"/>
<rect x="633.5" y="124.8" width="16.7" height="16.7" fill="#000ff2"/>
<rect x="649.8" y="124.8" width="16.7" height="16.7" fill="#0002c2"/>
<rect x="666.1" y="124.8" width="16.7" height="16.7" fill="#0300aa"/>
<rect x="682.4" y="124.8" width="16.7" height="16.7" fill="#0300ac"/>
<rect x="698.7" y="124.8" width="16.7" height="16.7" fill="#0008e4"/>
<rect x="715" y="124.8" width="16.7" height="16.7" fill="#006bff"/>
<rect x="731.3" y="124.8" width="16.7" height="16.7" fill="#00c5ff"/>
<rect x="747.6" y="124.8" width="16.7" height="16.7" fill="#00fbff"/>
<rect x="763.9" y="124.8" width="16.7" height="16.7" fill="#00ffc0"/>
<rect x="780.2" y="124.8" width="16.7" height="16.7" fill="#00ff91"/>
<rect x="796.5" y="124.8" width="16.7" height="16.7" fill="#00ff73"/>
<rect x="812.8" y="124.8" width="16.7" height="16.7" fill="#00ff7d"/>
<rect x="829.1" y="124.8" width="16.7" height="16.7" fill="#00ffa2"/>
<rect x="845.4" y="124.8" width="16.7" height="16.7" fill="#00ffdd"/>
<rect x="861.7" y="124.8" width="16.7" height="16.7" fill="#00c5ff"/>
<rect x="878" y="124.8" width="16.7" height="16.7" fill="#0056ff"/>
<rect x="894.3" y="124.8" width="16.7" height="16.7" fill="#0004cb"/>
<rect x="910.6" y="124.8" width="16.7" height="16.7" fill="#150067"/>
<rect x="926.9" y="124.8" width="16.7" height="16.7" fill="#160039"/>
<rect x="943.2" y="124.8" width="16.7" height="16.7" fill="#0c001a"/>
<rect x="959.5" y="124.8" width="16.7" height="16.7" fill="#080011"/>
<rect x="975.8" y="124.8" width="16.7" height="16.7" fill="#07000f"/>
<rect x="992.1" y="124.8" width="16.7" height="16.7" fill="#07000e"/>
<rect x="1008.4" y="124.8" width="16.7" height="16.7" fill="#06000c"/>
<rect x="1024.7" y="124.8" width="16.7" height="16.7" fill="#05000a"/>
<rect x="1041" y="124.8" width="16.7" height="16.7" fill="#020005"/>
<rect x="169.7" y="141.1" width="7.8" height="16.7" fill="#2cff00"/>
<rect x="177.1" y="141.1" width="16.7" height="16.7" fill="#32ff00"/>
<rect x="193.4" y="141.1" width="16.7" height="16.7" fill="#4eff00"/>
<rect x="209.7" y="141.1" width="16.7" height="16.7" fill="#70ff00"/>
<rect x="226" y="141.1" width="16.7" height="16.7" fill="#9bff00"/>
<rect x="242.3" y="141.1" width="16.7" height="16.7" fill="#c6ff00"/>
<rect x="258.6" y="141.1" width="16.7" height="16.7" fill="#f3ff00"/>
<rect x="274.9" y="141.1" width="16.7" height="16.7" fill="#ffe600"/>
<rect x="291.2" y="141.1" width="16.7" height="16.7" fill="#ffb900"/>
<rect x="307.5" y="141.1" width="16.7" height="16.7" fill="#ff8400"/>
<rect x="323.8" y="141.1" width="16.7" height="16.7" fill="#ff5a00"/>
<rect x="340.1" y="141.1" width="16.7" height="16.7" fill="#ff4000"/>
<rect x="356.4" y="141.1" width="16.7" height="16.7" fill="#ff2400"/>
<rect x="372.7" y="141.1" width="16.7" height="16.7" fill="#ff1500"/>
<rect x="389" y="141.1" width="16.7" height="16.7" fill="#ff1100"/>
<rect x="405.3" y="141.1" width="16.7" height="16.7" fill="#ff1a00"/>
<rect x="421.6" y="141.1" width="16.7" height="16.7" fill="#ff3200"/>
<rect x="437.9" y="141.1" width="16.7" height="16.7" fill="#ff6e00"/>
<rect x="454.2" y="141.1" width="16.7" height="16.7" fill="#ffb900"/>
<rect x="470.5" y="141.1" width="16.7" height="16.7" fill="#fff400"/>
<rect x="486.8" y="141.1" width="16.7" height="16.7" fill="#82ff00"/>
<rect x="503.1" y="141.1" width="16.7" height="16.7" fill="#13ff00"/>
<rect x="519.4" y="141.1" width="16.7" height="16.7" fill="#00ff30"/>
<rect x="535.7" y="141.1" width="16.7" height="16.7" fill="#00ff71"/>
<rect x="552" y="141.1" width="16.7" height="16.7" fill="#00ffac"/>
<rect x="568.3" y="141.1" width="16.7" height="16.7" fill="#00ffe6"/>
<rect x="584.6" y="141.1" width="16.7" height="16.7" fill="#00dfff"/>
<rect x="600.9" y="141.1" width="16.7" height="16.7" fill="#008eff"/>
<rect x="617.2" y="141.1" width="16.7" height="16.7" fill="#004eff"/>
<rect x="633.5" y="141.1" width="16.7" height="16.7" fill="#0024fa"/>
<rect x="649.8" y="141.1" width="16.7" height="16.7" fill="#0007df"/>
<rect x="666.1" y="141.1" width="16.7" height="16.7" fill="#0003c5"/>
<rect x="682.4" y="141.1" width="16.7" height="16.7" fill="#0004cb"/>
<rect x="698.7" y="141.1" width="16.7" height="16.7" fill="#0011f3"/>
<rect x="715" y="141.1" width="16.7" height="16.7" fill="#0066ff"/>
<rect x="731.3" y="141.1" width="16.7" height="16.7" fill="#00b1ff"/>
<rect x="747.6" y="141.1" width="16.7" height="16.7" fill="#00e5ff"/>
<rect x="763.9" y="141.1" width="16.7" height="16.7" fill="#00ffd0"/>
<rect x="780.2" y="141.1" width="16.7" height="16.7" fill="#00ffa4"/>
<rect x="796.5" y="141.1" width="16.7" height="16.7" fill="#00ff8e"/>
<rect x="812.8" y="141.1" width="16.7" height="16.7" fill="#00ff98"/>
<rect x="829.1" y="141.1" width="16.7" height="16.7" fill="#00ffb7"/>
<rect x="845.4" y="141.1" width="16.7" height="16.7" fill="#00ffec"/>
<rect x="861.7" y="141.1" width="16.7" height="16.7" fill="#00b6ff"/>
<rect x="878" y="141.1" width="16.7" height="16.7" fill="#0053ff"/>
<rect x="894.3" y="141.1" width="16.7" height="16.7" fill="#0000b7"/>
<rect x="910.6" y="141.1" width="16.7" height="16.7" fill="#18005c"/>
<rect x="926.9" y="141.1" width="16.7" height="16.7" fill="#140032"/>
<rect x="943.2" y="141.1" width="16.7" height="16.7" fill="#05000b"/>
<rect x="959.5" y="141.1" width="16.7" height="16.7" fill="#030007"/>
<rect x="975.8" y="141.1" width="16.7" height="16.7" fill="#030006"/>
<rect x="992.1" y="141.1" width="33" height="16.7" fill="#020005"/>
<rect x="1024.7" y="141.1" width="16.7" height="16.7" fill="#06000c"/>
<rect x="1041" y="141.1" width="16.7" height="16.7" fill="#090013"/>
<rect x="1057.3" y="141.1" width="7.7" height="16.7" fill="#080011"/>
<rect x="169.7" y="157.4" width="24.1" height="16.7" fill="#5aff00"/>
<rect x="193.4" y="157.4" width="16.7" height="16.7" fill="#81ff00"/>
<rect x="209.7" y="157.4" width="16.7" height="16.7" fill="#aaff00"/>
<rect x="226" y="157.4" width="16.7" height="16.7" fill="#daff00"/>
<rect x="242.3" y="157.4" width="16.7" height="16.7" fill="#ffec00"/>
<rect x="258.6" y="157.4" width="16.7" height="16.7" fill="#ffb700"/>
<rect x="274.9" y="157.4" width="16.7" height="16.7" fill="#ff8c00"/>
<rect x="291.2" y="157.4" width="16.7" height="16.7" fill="#ff5d00"/>
<rect x="307.5" y="157.4" width="16.7" height="16.7" fill="#ff2300"/>
<rect x="323.8" y="157.4" width="16.7" height="16.7" fill="#ff0003"/>
<rect x="340.1" y="157.4" width="16.7" height="16.7" fill="#ff0016"/>
<rect x="356.4" y="157.4" width="16.7" height="16.7" fill="#ff0027"/>
<rect x="372.7" y="157.4" width="16.7" height="16.7" fill="#ff0038"/>
<rect x="389" y="157.4" width="16.7" height="16.7" fill="#ff0040"/>
<rect x="405.3" y="157.4" width="16.7" height="16.7" fill="#ff0034"/>
<rect x="421.6" y="157.4" width="16.7" height="16.7" fill="#ff0017"/>
<rect x="437.9" y="157.4" width="16.7" height="16.7" fill="#ff2000"/>
<rect x="454.2" y="157.4" width="16.7" height="16.7" fill="#ff6300"/>
<rect x="470.5" y="157.4" width="16.7" height="16.7" fill="#ffb800"/>
<rect x="486.8" y="157.4" width="16.7" height="16.7" fill="#c0ff00"/>
<rect x="503.1" y="157.4" width="16.7" height="16.7" fill="#56ff00"/>
<rect x="519.4" y="157.4" width="16.7" height="16.7" fill="#05ff00"/>
<rect x="535.7" y="157.4" width="16.7" height="16.7" fill="#00ff36"/>
<rect x="552" y="157.4" width="16.7" height="16.7" fill="#00ff7c"/>
<rect x="568.3" y="157.4" width="16.7" height="16.7" fill="#00ffc1"/>
<rect x="584.6" y="157.4" width="16.7" height="16.7" fill="#00fffd"/>
<rect x="600.9" y="157.4" width="16.7" height="16.7" fill="#00a7ff"/>
<rect x="617.2" y="157.4" width="16.7" height="16.7" fill="#0068ff"/>
<rect x="633.5" y="157.4" width="16.7" height="16.7" fill="#003bff"/>
<rect x="649.8" y="157.4" width="16.7" height="16.7" fill="#0013f3"/>
<rect x="666.1" y="157.4" width="16.7" height="16.7" fill="#0006d6"/>
<rect x="682.4" y="157.4" width="16.7" height="16.7" fill="#0007dc"/>
<rect x="698.7" y="157.4" width="16.7" height="16.7" fill="#001af6"/>
<rect x="715" y="157.4" width="16.7" height="16.7" fill="#005cff"/>
<rect x="731.3" y="157.4" width="16.7" height="16.7" fill="#0097ff"/>
<rect x="747.6" y="157.4" width="16.7" height="16.7" fill="#00caff"/>
<rect x="763.9" y="157.4" width="16.7" height="16.7" fill="#00ffe8"/>
<rect x="780.2" y="157.4" width="16.7" height="16.7" fill="#00ffc0"/>
<rect x="796.5" y="157.4" width="16.7" height="16.7" fill="#00ffb5"/>
<rect x="812.8" y="157.4" width="16.7" height="16.7" fill="#00ffbf"/>
<rect x="829.1" y="157.4" width="16.7" height="16.7" fill="#00ffd7"/>
<rect x="845.4" y="157.4" width="16.7" height="16.7" fill="#00f6ff"/>
<rect x="861.7" y="157.4" width="16.7" height="16.7" fill="#009bff"/>
<rect x="878" y="157.4" width="16.7" height="16.7" fill="#004aff"/>
<rect x="894.3" y="157.4" width="16.7" height="16.7" fill="#07009e"/>
<rect x="910.6" y="157.4" width="16.7" height="16.7" fill="#190049"/>
<rect x="926.9" y="157.4" width="16.7" height="16.7" fill="#100022"/>
<rect x="1024.7" y="157.4" width="16.7" height="16.7" fill="#06000e"/>
<rect x="1041" y="157.4" width="24" height="16.7" fill="#0e001e"/>
<rect x="169.7" y="173.7" width="24.1" height="16.7" fill="#a8ff00"/>
<rect x="193.4" y="173.7" width="16.7" height="16.7" fill="#c8ff00"/>
<rect x="209.7" y="173.7" width="16.7" height="16.7" fill="#fff600"/>
<rect x="226" y="173.7" width="16.7" height="16.7" fill="#ffcf00"/>
<rect x="242.3" y="173.7" width="16.7" height="16.7" fill="#ff9900"/>
<rect x="258.6" y="173.7" width="16.7" height="16.7" fill="#ff5b00"/>
<rect x="274.9" y="173.7" width="16.7" height="16.7" fill="#ff2600"/>
<rect x="291.2" y="173.7" width="16.7" height="16.7" fill="#ff0008"/>
<rect x="307.5" y="173.7" width="16.7" height="16.7" fill="#ff0035"/>
<rect x="323.8" y="173.7" width="16.7" height="16.7" fill="#ff006a"/>
<rect x="340.1" y="173.7" width="16.7" height="16.7" fill="#ff009a"/>
<rect x="356.4" y="173.7" width="16.7" height="16.7" fill="#ff00b2"/>
<rect x="372.7" y="173.7" width="16.7" height="16.7" fill="#ff00b8"/>
<rect x="389" y="173.7" width="16.7" height="16.7" fill="#ff00af"/>
<rect x="405.3" y="173.7" width="16.7" height="16.7" fill="#ff009c"/>
<rect x="421.6" y="173.7" width="16.7" height="16.7" fill="#ff006d"/>
<rect x="437.9" y="173.7" width="16.7" height="16.7" fill="#ff0026"/>
<rect x="454.2" y="173.7" width="16.7" height="16.7" fill="#ff0d00"/>
<rect x="470.5" y="173.7" width="16.7" height="16.7" fill="#ff7100"/>
<rect x="486.8" y="173.7" width="16.7" height="16.7" fill="#fffb00"/>
<rect x="503.1" y="173.7" width="16.7" height="16.7" fill="#90ff00"/>
<rect x="519.4" y="173.7" width="16.7" height="16.7" fill="#2eff00"/>
<rect x="535.7" y="173.7" width="16.7" height="16.7" fill="#00ff08"/>
<rect x="552" y="173.7" width="16.7" height="16.7" fill="#00ff50"/>
<rect x="568.3" y="173.7" width="16.7" height="16.7" fill="#00ff99"/>
<rect x="584.6" y="173.7" width="16.7" height="16.7" fill="#00ffde"/>
<rect x="600.9" y="173.7" width="16.7" height="16.7" fill="#00e2ff"/>
<rect x="617.2" y="173.7" width="16.7" height="16.7" fill="#0096ff"/>
<rect x="633.5" y="173.7" width="16.7" height="16.7" fill="#0053ff"/>
<rect x="649.8" y="173.7" width="16.7" height="16.7" fill="#0028fb"/>
<rect x="666.1" y="173.7" width="16.7" height="16.7" fill="#0006da"/>
<rect x="682.4" y="173.7" width="16.7" height="16.7" fill="#0007dd"/>
<rect x="698.7" y="173.7" width="16.7" height="16.7" fill="#0015f4"/>
<rect x="715" y="173.7" width="16.7" height="16.7" fill="#0043ff"/>
<rect x="731.3" y="173.7" width="16.7" height="16.7" fill="#0083ff"/>
<rect x="747.6" y="173.7" width="16.7" height="16.7" fill="#00b6ff"/>
<rect x="763.9" y="173.7" width="16.7" height="16.7" fill="#00e7ff"/>
<rect x="780.2" y="173.7" width="16.7" height="16.7" fill="#00feff"/>
<rect x="796.5" y="173.7" width="16.7" height="16.7" fill="#00fff3"/>
<rect x="812.8" y="173.7" width="16.7" height="16.7" fill="#00fff6"/>
<rect x="829.1" y="173.7" width="16.7" height="16.7" fill="#00f8ff"/>
<rect x="845.4" y="173.7" width="16.7" height="16.7" fill="#00beff"/>
<rect x="861.7" y="173.7" width="16.7" height="16.7" fill="#0070ff"/>
<rect x="878" y="173.7" width="16.7" height="16.7" fill="#001ef8"/>
<rect x="894.3" y="173.7" width="16.7" height="16.7" fill="#0d008a"/>
<rect x="910.6" y="173.7" width="16.7" height="16.7" fill="#140033"/>
<rect x="926.9" y="173.7" width="16.7" height="16.7" fill="#010002"/>
<rect x="1024.7" y="173.7" width="16.7" height="16.7" fill="#06000e"/>
<rect x="1041" y="173.7" width="24" height="16.7" fill="#0e001e"/>
<rect x="169.7" y="190" width="7.8" height="16.7" fill="#fbff00"/>
<rect x="177.1" y="190" width="16.7" height="16.7" fill="#feff00"/>
<rect x="193.4" y="190" width="16.7" height="16.7" fill="#ffd100"/>
<rect x="209.7" y="190" width="16.7" height="16.7" fill="#ff9600"/>
<rect x="226" y="190" width="16.7" height="16.7" fill="#ff6800"/>
<rect x="242.3" y="190" width="16.7" height="16.7" fill="#ff2c00"/>
<rect x="258.6" y="190" width="16.7" height="16.7" fill="#ff0013"/>
<rect x="274.9" y="190" width="16.7" height="16.7" fill="#ff0052"/>
<rect x="291.2" y="190" width="16.7" height="16.7" fill="#ff008f"/>
<rect x="307.5" y="190" width="16.7" height="16.7" fill="#ff00b2"/>
<rect x="323.8" y="190" width="16.7" height="16.7" fill="#ff00db"/>
<rect x="340.1" y="190" width="16.7" height="16.7" fill="#ff21f6"/>
<rect x="356.4" y="190" width="16.7" height="16.7" fill="#fd3aff"/>
<rect x="372.7" y="190" width="16.7" height="16.7" fill="#fc3fff"/>
<rect x="389" y="190" width="16.7" height="16.7" fill="#ff2efd"/>
<rect x="405.3" y="190" width="16.7" height="16.7" fill="#ff0bec"/>
<rect x="421.6" y="190" width="16.7" height="16.7" fill="#ff00bc"/>
<rect x="437.9" y="190" width="16.7" height="16.7" fill="#ff0072"/>
<rect x="454.2" y="190" width="16.7" height="16.7" fill="#ff0023"/>
<rect x="470.5" y="190" width="16.7" height="16.7" fill="#ff3600"/>
<rect x="486.8" y="190" width="16.7" height="16.7" fill="#ffb800"/>
<rect x="503.1" y="190" width="16.7" height="16.7" fill="#d8ff00"/>
<rect x="519.4" y="190" width="16.7" height="16.7" fill="#7dff00"/>
<rect x="535.7" y="190" width="16.7" height="16.7" fill="#39ff00"/>
<rect x="552" y="190" width="16.7" height="16.7" fill="#00ff0f"/>
<rect x="568.3" y="190" width="16.7" height="16.7" fill="#00ff51"/>
<rect x="584.6" y="190" width="16.7" height="16.7" fill="#00ff9e"/>
<rect x="600.9" y="190" width="16.7" height="16.7" fill="#00ffe7"/>
<rect x="617.2" y="190" width="16.7" height="16.7" fill="#00d4ff"/>
<rect x="633.5" y="190" width="16.7" height="16.7" fill="#0081ff"/>
<rect x="649.8" y="190" width="16.7" height="16.7" fill="#004aff"/>
<rect x="666.1" y="190" width="16.7" height="16.7" fill="#001bf6"/>
<rect x="682.4" y="190" width="16.7" height="16.7" fill="#0009ea"/>
<rect x="698.7" y="190" width="16.7" height="16.7" fill="#000ef2"/>
<rect x="715" y="190" width="16.7" height="16.7" fill="#002cfd"/>
<rect x="731.3" y="190" width="16.7" height="16.7" fill="#0056ff"/>
<rect x="747.6" y="190" width="16.7" height="16.7" fill="#007aff"/>
<rect x="763.9" y="190" width="16.7" height="16.7" fill="#0094ff"/>
<rect x="780.2" y="190" width="16.7" height="16.7" fill="#00a3ff"/>
<rect x="796.5" y="190" width="16.7" height="16.7" fill="#00aeff"/>
<rect x="812.8" y="190" width="16.7" height="16.7" fill="#00adff"/>
<rect x="829.1" y="190" width="16.7" height="16.7" fill="#00a1ff"/>
<rect x="845.4" y="190" width="16.7" height="16.7" fill="#0076ff"/>
<rect x="861.7" y="190" width="16.7" height="16.7" fill="#0033ff"/>
<rect x="878" y="190" width="16.7" height="16.7" fill="#0004cb"/>
<rect x="894.3" y="190" width="16.7" height="16.7" fill="#18005c"/>
<rect x="910.6" y="190" width="16.7" height="16.7" fill="#080012"/>
<rect x="1024.7" y="190" width="16.7" height="16.7" fill="#06000e"/>
<rect x="1041" y="190" width="24" height="16.7" fill="#0e001e"/>
<rect x="169.7" y="206.3" width="7.8" height="16.7" fill="#ffc100"/>
<rect x="177.1" y="206.3" width="16.7" height="16.7" fill="#ffbd00"/>
<rect x="193.4" y="206.3" width="16.7" height="16.7" fill="#ff8100"/>
<rect x="209.7" y="206.3" width="16.7" height="16.7" fill="#ff3c00"/>
<rect x="226" y="206.3" width="16.7" height="16.7" fill="#ff0700"/>
<rect x="242.3" y="206.3" width="16.7" height="16.7" fill="#ff002f"/>
<rect x="258.6" y="206.3" width="16.7" height="16.7" fill="#ff006d"/>
<rect x="274.9" y="206.3" width="16.7" height="16.7" fill="#ff00b0"/>
<rect x="291.2" y="206.3" width="16.7" height="16.7" fill="#ff0bec"/>
<rect x="307.5" y="206.3" width="16.7" height="16.7" fill="#f94bff"/>
<rect x="323.8" y="206.3" width="16.7" height="16.7" fill="#ee80ff"/>
<rect x="340.1" y="206.3" width="16.7" height="16.7" fill="#ec9bff"/>
<rect x="356.4" y="206.3" width="16.7" height="16.7" fill="#eda8ff"/>
<rect x="372.7" y="206.3" width="16.7" height="16.7" fill="#edabff"/>
<rect x="389" y="206.3" width="16.7" height="16.7" fill="#ec9aff"/>
<rect x="405.3" y="206.3" width="16.7" height="16.7" fill="#f26dff"/>
<rect x="421.6" y="206.3" width="16.7" height="16.7" fill="#ff1bf3"/>
<rect x="437.9" y="206.3" width="16.7" height="16.7" fill="#ff00ad"/>
<rect x="454.2" y="206.3" width="16.7" height="16.7" fill="#ff004a"/>
<rect x="470.5" y="206.3" width="16.7" height="16.7" fill="#ff1100"/>
<rect x="486.8" y="206.3" width="16.7" height="16.7" fill="#ff8a00"/>
<rect x="503.1" y="206.3" width="16.7" height="16.7" fill="#fff400"/>
<rect x="519.4" y="206.3" width="16.7" height="16.7" fill="#a5ff00"/>
<rect x="535.7" y="206.3" width="16.7" height="16.7" fill="#5aff00"/>
<rect x="552" y="206.3" width="16.7" height="16.7" fill="#1bff00"/>
<rect x="568.3" y="206.3" width="16.7" height="16.7" fill="#00ff28"/>
<rect x="584.6" y="206.3" width="16.7" height="16.7" fill="#00ff79"/>
<rect x="600.9" y="206.3" width="16.7" height="16.7" fill="#00ffce"/>
<rect x="617.2" y="206.3" width="16.7" height="16.7" fill="#00f3ff"/>
<rect x="633.5" y="206.3" width="16.7" height="16.7" fill="#0099ff"/>
<rect x="649.8" y="206.3" width="16.7" height="16.7" fill="#005dff"/>
<rect x="666.1" y="206.3" width="16.7" height="16.7" fill="#0033ff"/>
<rect x="682.4" y="206.3" width="16.7" height="16.7" fill="#000cf1"/>
<rect x="698.7" y="206.3" width="16.7" height="16.7" fill="#0008e4"/>
<rect x="715" y="206.3" width="16.7" height="16.7" fill="#0010f2"/>
<rect x="731.3" y="206.3" width="16.7" height="16.7" fill="#001df7"/>
<rect x="747.6" y="206.3" width="16.7" height="16.7" fill="#002afc"/>
<rect x="763.9" y="206.3" width="16.7" height="16.7" fill="#0032ff"/>
<rect x="780.2" y="206.3" width="16.7" height="16.7" fill="#003bff"/>
<rect x="796.5" y="206.3" width="16.7" height="16.7" fill="#0040ff"/>
<rect x="812.8" y="206.3" width="16.7" height="16.7" fill="#003dff"/>
<rect x="829.1" y="206.3" width="16.7" height="16.7" fill="#0032ff"/>
<rect x="845.4" y="206.3" width="16.7" height="16.7" fill="#001af6"/>
<rect x="861.7" y="206.3" width="16.7" height="16.7" fill="#0003c5"/>
<rect x="878" y="206.3" width="16.7" height="16.7" fill="#100080"/>
<rect x="894.3" y="206.3" width="16.7" height="16.7" fill="#13002a"/>
<rect x="1024.7" y="206.3" width="16.7" height="16.7" fill="#06000e"/>
<rect x="1041" y="206.3" width="24" height="16.7" fill="#0e001e"/>
<rect x="169.7" y="222.6" width="7.8" height="16.7" fill="#ff8c00"/>
<rect x="177.1" y="222.6" width="16.7" height="16.7" fill="#ff8900"/>
<rect x="193.4" y="222.6" width="16.7" height="16.7" fill="#ff4d00"/>
<rect x="209.7" y="222.6" width="16.7" height="16.7" fill="#ff1400"/>
<rect x="226" y="222.6" width="16.7" height="16.7" fill="#ff0021"/>
<rect x="242.3" y="222.6" width="16.7" height="16.7" fill="#ff005b"/>
<rect x="258.6" y="222.6" width="16.7" height="16.7" fill="#ff009f"/>
<rect x="274.9" y="222.6" width="16.7" height="16.7" fill="#ff00e0"/>
<rect x="291.2" y="222.6" width="16.7" height="16.7" fill="#fb45ff"/>
<rect x="307.5" y="222.6" width="16.7" height="16.7" fill="#ec9aff"/>
<rect x="323.8" y="222.6" width="16.7" height="16.7" fill="#efc3ff"/>
<rect x="340.1" y="222.6" width="16.7" height="16.7" fill="#f0d7ff"/>
<rect x="356.4" y="222.6" width="16.7" height="16.7" fill="#f3ddff"/>
<rect x="372.7" y="222.6" width="16.7" height="16.7" fill="#f3deff"/>
<rect x="389" y="222.6" width="16.7" height="16.7" fill="#efcbff"/>
<rect x="405.3" y="222.6" width="16.7" height="16.7" fill="#eca1ff"/>
<rect x="421.6" y="222.6" width="16.7" height="16.7" fill="#f94eff"/>
<rect x="437.9" y="222.6" width="16.7" height="16.7" fill="#ff00cf"/>
<rect x="454.2" y="222.6" width="16.7" height="16.7" fill="#ff006c"/>
<rect x="470.5" y="222.6" width="16.7" height="16.7" fill="#ff0001"/>
<rect x="486.8" y="222.6" width="16.7" height="16.7" fill="#ff7800"/>
<rect x="503.1" y="222.6" width="16.7" height="16.7" fill="#ffe400"/>
<rect x="519.4" y="222.6" width="16.7" height="16.7" fill="#a7ff00"/>
<rect x="535.7" y="222.6" width="16.7" height="16.7" fill="#5cff00"/>
<rect x="552" y="222.6" width="16.7" height="16.7" fill="#1cff00"/>
<rect x="568.3" y="222.6" width="16.7" height="16.7" fill="#00ff27"/>
<rect x="584.6" y="222.6" width="16.7" height="16.7" fill="#00ff78"/>
<rect x="600.9" y="222.6" width="16.7" height="16.7" fill="#00ffcd"/>
<rect x="617.2" y="222.6" width="16.7" height="16.7" fill="#00f3ff"/>
<rect x="633.5" y="222.6" width="16.7" height="16.7" fill="#009aff"/>
<rect x="649.8" y="222.6" width="16.7" height="16.7" fill="#005eff"/>
<rect x="666.1" y="222.6" width="16.7" height="16.7" fill="#0034ff"/>
<rect x="682.4" y="222.6" width="16.7" height="16.7" fill="#0005d0"/>
<rect x="698.7" y="222.6" width="16.7" height="16.7" fill="#0300aa"/>
<rect x="715" y="222.6" width="16.7" height="16.7" fill="#0400a6"/>
<rect x="731.3" y="222.6" width="16.7" height="16.7" fill="#0200ad"/>
<rect x="747.6" y="222.6" width="16.7" height="16.7" fill="#0001b9"/>
<rect x="763.9" y="222.6" width="33" height="16.7" fill="#0001bb"/>
<rect x="796.5" y="222.6" width="16.7" height="16.7" fill="#0001ba"/>
<rect x="812.8" y="222.6" width="16.7" height="16.7" fill="#0000b3"/>
<rect x="829.1" y="222.6" width="16.7" height="16.7" fill="#0600a0"/>
<rect x="845.4" y="222.6" width="16.7" height="16.7" fill="#120077"/>
<rect x="861.7" y="222.6" width="16.7" height="16.7" fill="#1a004f"/>
<rect x="878" y="222.6" width="16.7" height="16.7" fill="#110025"/>
<rect x="894.3" y="222.6" width="16.7" height="16.7" fill="#020005"/>
<rect x="1024.7" y="222.6" width="16.7" height="16.7" fill="#06000e"/>
<rect x="1041" y="222.6" width="24" height="16.7" fill="#0e001e"/>
<rect x="169.7" y="238.9" width="7.8" height="16.7" fill="#ff8000"/>
<rect x="177.1" y="238.9" width="16.7" height="16.7" fill="#ff7d00"/>
<rect x="193.4" y="238.9" width="16.7" height="16.7" fill="#ff4200"/>
<rect x="209.7" y="238.9" width="16.7" height="16.7" fill="#ff0005"/>
<rect x="226" y="238.9" width="16.7" height="16.7" fill="#ff0035"/>
<rect x="242.3" y="238.9" width="16.7" height="16.7" fill="#ff006a"/>
<rect x="258.6" y="238.9" width="16.7" height="16.7" fill="#ff00ad"/>
<rect x="274.9" y="238.9" width="16.7" height="16.7" fill="#ff0beb"/>
<rect x="291.2" y="238.9" width="16.7" height="16.7" fill="#f171ff"/>
<rect x="307.5" y="238.9" width="16.7" height="16.7" fill="#edb0ff"/>
<rect x="323.8" y="238.9" width="16.7" height="16.7" fill="#f0d6ff"/>
<rect x="340.1" y="238.9" width="16.7" height="16.7" fill="#f6e6ff"/>
<rect x="356.4" y="238.9" width="16.7" height="16.7" fill="#f8ecff"/>
<rect x="372.7" y="238.9" width="16.7" height="16.7" fill="#f6e7ff"/>
<rect x="389" y="238.9" width="16.7" height="16.7" fill="#f2dbff"/>
<rect x="405.3" y="238.9" width="16.7" height="16.7" fill="#eeb8ff"/>
<rect x="421.6" y="238.9" width="16.7" height="16.7" fill="#f461ff"/>
<rect x="437.9" y="238.9" width="16.7" height="16.7" fill="#ff00e3"/>
<rect x="454.2" y="238.9" width="16.7" height="16.7" fill="#ff0093"/>
<rect x="470.5" y="238.9" width="16.7" height="16.7" fill="#ff001b"/>
<rect x="486.8" y="238.9" width="16.7" height="16.7" fill="#ff2b00"/>
<rect x="503.1" y="238.9" width="16.7" height="16.7" fill="#ff9400"/>
<rect x="519.4" y="238.9" width="16.7" height="16.7" fill="#fffe00"/>
<rect x="535.7" y="238.9" width="16.7" height="16.7" fill="#98ff00"/>
<rect x="552" y="238.9" width="16.7" height="16.7" fill="#4aff00"/>
<rect x="568.3" y="238.9" width="16.7" height="16.7" fill="#00ff05"/>
<rect x="584.6" y="238.9" width="16.7" height="16.7" fill="#00ff5a"/>
<rect x="600.9" y="238.9" width="16.7" height="16.7" fill="#00ffb1"/>
<rect x="617.2" y="238.9" width="16.7" height="16.7" fill="#00fdff"/>
<rect x="633.5" y="238.9" width="16.7" height="16.7" fill="#00bbff"/>
<rect x="649.8" y="238.9" width="16.7" height="16.7" fill="#0080ff"/>
<rect x="666.1" y="238.9" width="16.7" height="16.7" fill="#0046ff"/>
<rect x="682.4" y="238.9" width="16.7" height="16.7" fill="#0007db"/>
<rect x="698.7" y="238.9" width="16.7" height="16.7" fill="#11007c"/>
<rect x="715" y="238.9" width="16.7" height="16.7" fill="#180047"/>
<rect x="731.3" y="238.9" width="16.7" height="16.7" fill="#180044"/>
<rect x="747.6" y="238.9" width="33" height="16.7" fill="#170042"/>
<rect x="780.2" y="238.9" width="33" height="16.7" fill="#170041"/>
<rect x="812.8" y="238.9" width="16.7" height="16.7" fill="#170040"/>
<rect x="829.1" y="238.9" width="16.7" height="16.7" fill="#17003e"/>
<rect x="845.4" y="238.9" width="16.7" height="16.7" fill="#150035"/>
<rect x="1024.7" y="238.9" width="16.7" height="16.7" fill="#06000e"/>
<rect x="1041" y="238.9" width="24" height="16.7" fill="#0e001e"/>
<rect x="169.7" y="255.2" width="7.8" height="16.7" fill="#ff6e00"/>
<rect x="177.1" y="255.2" width="16.7" height="16.7" fill="#ff6c00"/>
<rect x="193.4" y="255.2" width="16.7" height="16.7" fill="#ff3b00"/>
<rect x="209.7" y="255.2" width="16.7" height="16.7" fill="#ff0006"/>
<rect x="226" y="255.2" width="16.7" height="16.7" fill="#ff003f"/>
<rect x="242.3" y="255.2" width="16.7" height="16.7" fill="#ff007e"/>
<rect x="258.6" y="255.2" width="16.7" height="16.7" fill="#ff00c0"/>
<rect x="274.9" y="255.2" width="16.7" height="16.7" fill="#ff1ff6"/>
<rect x="291.2" y="255.2" width="16.7" height="16.7" fill="#f077ff"/>
<rect x="307.5" y="255.2" width="16.7" height="16.7" fill="#edb1ff"/>
<rect x="323.8" y="255.2" width="16.7" height="16.7" fill="#f1daff"/>
<rect x="340.1" y="255.2" width="16.7" height="16.7" fill="#f9eeff"/>
<rect x="356.4" y="255.2" width="16.7" height="16.7" fill="#fcf5ff"/>
<rect x="372.7" y="255.2" width="16.7" height="16.7" fill="#faf1ff"/>
<rect x="389" y="255.2" width="16.7" height="16.7" fill="#f6e7ff"/>
<rect x="405.3" y="255.2" width="16.7" height="16.7" fill="#efcfff"/>
<rect x="421.6" y="255.2" width="16.7" height="16.7" fill="#ee80ff"/>
<rect x="437.9" y="255.2" width="16.7" height="16.7" fill="#ff12ef"/>
<rect x="454.2" y="255.2" width="16.7" height="16.7" fill="#ff0094"/>
<rect x="470.5" y="255.2" width="16.7" height="16.7" fill="#ff001a"/>
<rect x="486.8" y="255.2" width="16.7" height="16.7" fill="#ff2b00"/>
<rect x="503.1" y="255.2" width="16.7" height="16.7" fill="#ff9400"/>
<rect x="519.4" y="255.2" width="16.7" height="16.7" fill="#fffe00"/>
<rect x="535.7" y="255.2" width="16.7" height="16.7" fill="#98ff00"/>
<rect x="552" y="255.2" width="16.7" height="16.7" fill="#4aff00"/>
<rect x="568.3" y="255.2" width="16.7" height="16.7" fill="#00ff05"/>
<rect x="584.6" y="255.2" width="16.7" height="16.7" fill="#00ff5a"/>
<rect x="600.9" y="255.2" width="16.7" height="16.7" fill="#00ffb1"/>
<rect x="617.2" y="255.2" width="16.7" height="16.7" fill="#00fdff"/>
<rect x="633.5" y="255.2" width="16.7" height="16.7" fill="#00bbff"/>
<rect x="649.8" y="255.2" width="16.7" height="16.7" fill="#007eff"/>
<rect x="666.1" y="255.2" width="16.7" height="16.7" fill="#0042ff"/>
<rect x="682.4" y="255.2" width="16.7" height="16.7" fill="#0011f3"/>
<rect x="698.7" y="255.2" width="16.7" height="16.7" fill="#0001ba"/>
<rect x="715" y="255.2" width="16.7" height="16.7" fill="#11007e"/>
<rect x="731.3" y="255.2" width="16.7" height="16.7" fill="#120026"/>
<rect x="1041" y="255.2" width="16.7" height="16.7" fill="#0f0020"/>
<rect x="1057.3" y="255.2" width="7.7" height="16.7" fill="#120026"/>
<rect x="169.7" y="271.5" width="7.8" height="16.7" fill="#ff6e00"/>
<rect x="177.1" y="271.5" width="16.7" height="16.7" fill="#ff6c00"/>
<rect x="193.4" y="271.5" width="16.7" height="16.7" fill="#ff3b00"/>
<rect x="209.7" y="271.5" width="16.7" height="16.7" fill="#ff0006"/>
<rect x="226" y="271.5" width="16.7" height="16.7" fill="#ff003f"/>
<rect x="242.3" y="271.5" width="16.7" height="16.7" fill="#ff007e"/>
<rect x="258.6" y="271.5" width="16.7" height="16.7" fill="#ff00c0"/>
<rect x="274.9" y="271.5" width="16.7" height="16.7" fill="#ff1ff6"/>
<rect x="291.2" y="271.5" width="16.7" height="16.7" fill="#f077ff"/>
<rect x="307.5" y="271.5" width="16.7" height="16.7" fill="#edb1ff"/>
<rect x="323.8" y="271.5" width="16.7" height="16.7" fill="#f1daff"/>
<rect x="340.1" y="271.5" width="16.7" height="16.7" fill="#f9eeff"/>
<rect x="356.4" y="271.5" width="16.7" height="16.7" fill="#fcf5ff"/>
<rect x="372.7" y="271.5" width="16.7" height="16.7" fill="#fbf4ff"/>
<rect x="389" y="271.5" width="16.7" height="16.7" fill="#faf0ff"/>
<rect x="405.3" y="271.5" width="16.7" height="16.7" fill="#f2ddff"/>
<rect x="421.6" y="271.5" width="16.7" height="16.7" fill="#f076ff"/>
<rect x="437.9" y="271.5" width="16.7" height="16.7" fill="#ff00df"/>
<rect x="454.2" y="271.5" width="16.7" height="16.7" fill="#ff0083"/>
<rect x="470.5" y="271.5" width="16.7" height="16.7" fill="#ff001b"/>
<rect x="486.8" y="271.5" width="16.7" height="16.7" fill="#ff3b00"/>
<rect x="503.1" y="271.5" width="16.7" height="16.7" fill="#ffa100"/>
<rect x="519.4" y="271.5" width="16.7" height="16.7" fill="#fffe00"/>
<rect x="535.7" y="271.5" width="16.7" height="16.7" fill="#98ff00"/>
<rect x="552" y="271.5" width="16.7" height="16.7" fill="#4aff00"/>
<rect x="568.3" y="271.5" width="16.7" height="16.7" fill="#00ff05"/>
<rect x="584.6" y="271.5" width="16.7" height="16.7" fill="#00ff5a"/>
<rect x="600.9" y="271.5" width="16.7" height="16.7" fill="#00ffb1"/>
<rect x="617.2" y="271.5" width="16.7" height="16.7" fill="#00fdff"/>
<rect x="633.5" y="271.5" width="16.7" height="16.7" fill="#00bcff"/>
<rect x="649.8" y="271.5" width="16.7" height="16.7" fill="#0078ff"/>
<rect x="666.1" y="271.5" width="16.7" height="16.7" fill="#0030fe"/>
<rect x="682.4" y="271.5" width="16.7" height="16.7" fill="#0006d6"/>
<rect x="698.7" y="271.5" width="16.7" height="16.7" fill="#14006f"/>
<rect x="1041" y="271.5" width="16.7" height="16.7" fill="#100021"/>
<rect x="1057.3" y="271.5" width="7.7" height="16.7" fill="#14002e"/>
<rect x="169.7" y="287.8" width="24.1" height="16.7" fill="#ff8000"/>
<rect x="193.4" y="287.8" width="16.7" height="16.7" fill="#ff6000"/>
<rect x="209.7" y="287.8" width="16.7" height="16.7" fill="#ff1c00"/>
<rect x="226" y="287.8" width="16.7" height="16.7" fill="#ff0021"/>
<rect x="242.3" y="287.8" width="16.7" height="16.7" fill="#ff005f"/>
<rect x="258.6" y="287.8" width="16.7" height="16.7" fill="#ff009d"/>
<rect x="274.9" y="287.8" width="16.7" height="16.7" fill="#ff00e0"/>
<rect x="291.2" y="287.8" width="16.7" height="16.7" fill="#fc3fff"/>
<rect x="307.5" y="287.8" width="16.7" height="16.7" fill="#ed82ff"/>
<rect x="323.8" y="287.8" width="16.7" height="16.7" fill="#efc9ff"/>
<rect x="340.1" y="287.8" width="16.7" height="16.7" fill="#f7e8ff"/>
<rect x="356.4" y="287.8" width="16.7" height="16.7" fill="#fcf5ff"/>
<rect x="372.7" y="287.8" width="16.7" height="16.7" fill="#fbf1ff"/>
<rect x="389" y="287.8" width="16.7" height="16.7" fill="#f6e5ff"/>
<rect x="405.3" y="287.8" width="16.7" height="16.7" fill="#edaaff"/>
<rect x="421.6" y="287.8" width="16.7" height="16.7" fill="#f94cff"/>
<rect x="437.9" y="287.8" width="16.7" height="16.7" fill="#ff00cc"/>
<rect x="454.2" y="287.8" width="16.7" height="16.7" fill="#ff0068"/>
<rect x="470.5" y="287.8" width="16.7" height="16.7" fill="#ff0200"/>
<rect x="486.8" y="287.8" width="16.7" height="16.7" fill="#ff7c00"/>
<rect x="503.1" y="287.8" width="16.7" height="16.7" fill="#ffd900"/>
<rect x="519.4" y="287.8" width="16.7" height="16.7" fill="#dbff00"/>
<rect x="535.7" y="287.8" width="16.7" height="16.7" fill="#85ff00"/>
<rect x="552" y="287.8" width="16.7" height="16.7" fill="#37ff00"/>
<rect x="568.3" y="287.8" width="16.7" height="16.7" fill="#00ff1b"/>
<rect x="584.6" y="287.8" width="16.7" height="16.7" fill="#00ff71"/>
<rect x="600.9" y="287.8" width="16.7" height="16.7" fill="#00ffb9"/>
<rect x="617.2" y="287.8" width="16.7" height="16.7" fill="#00fdff"/>
<rect x="633.5" y="287.8" width="16.7" height="16.7" fill="#0099ff"/>
<rect x="649.8" y="287.8" width="16.7" height="16.7" fill="#005dff"/>
<rect x="666.1" y="287.8" width="16.7" height="16.7" fill="#0020f8"/>
<rect x="682.4" y="287.8" width="16.7" height="16.7" fill="#0600a1"/>
<rect x="698.7" y="287.8" width="16.7" height="16.7" fill="#13002c"/>
<rect x="1041" y="287.8" width="16.7" height="16.7" fill="#110023"/>
<rect x="1057.3" y="287.8" width="7.7" height="16.7" fill="#16003b"/>
<rect x="169.7" y="304.1" width="24.1" height="16.7" fill="#ff9d00"/>
<rect x="193.4" y="304.1" width="16.7" height="16.7" fill="#ff6300"/>
<rect x="209.7" y="304.1" width="16.7" height="16.7" fill="#ff2a00"/>
<rect x="226" y="304.1" width="16.7" height="16.7" fill="#ff000b"/>
<rect x="242.3" y="304.1" width="16.7" height="16.7" fill="#ff004a"/>
<rect x="258.6" y="304.1" width="16.7" height="16.7" fill="#ff00a9"/>
<rect x="274.9" y="304.1" width="16.7" height="16.7" fill="#ff08ea"/>
<rect x="291.2" y="304.1" width="16.7" height="16.7" fill="#f65aff"/>
<rect x="307.5" y="304.1" width="16.7" height="16.7" fill="#eb8eff"/>
<rect x="323.8" y="304.1" width="16.7" height="16.7" fill="#edb0ff"/>
<rect x="340.1" y="304.1" width="16.7" height="16.7" fill="#efc9ff"/>
<rect x="356.4" y="304.1" width="16.7" height="16.7" fill="#f0d0ff"/>
<rect x="372.7" y="304.1" width="16.7" height="16.7" fill="#f0d1ff"/>
<rect x="389" y="304.1" width="16.7" height="16.7" fill="#efcbff"/>
<rect x="405.3" y="304.1" width="16.7" height="16.7" fill="#edafff"/>
<rect x="421.6" y="304.1" width="16.7" height="16.7" fill="#f464ff"/>
<rect x="437.9" y="304.1" width="16.7" height="16.7" fill="#ff00da"/>
<rect x="454.2" y="304.1" width="16.7" height="16.7" fill="#ff0071"/>
<rect x="470.5" y="304.1" width="16.7" height="16.7" fill="#ff1700"/>
<rect x="486.8" y="304.1" width="16.7" height="16.7" fill="#ff8b00"/>
<rect x="503.1" y="304.1" width="16.7" height="16.7" fill="#ffe700"/>
<rect x="519.4" y="304.1" width="16.7" height="16.7" fill="#c9ff00"/>
<rect x="535.7" y="304.1" width="16.7" height="16.7" fill="#71ff00"/>
<rect x="552" y="304.1" width="16.7" height="16.7" fill="#20ff00"/>
<rect x="568.3" y="304.1" width="16.7" height="16.7" fill="#00ff2a"/>
<rect x="584.6" y="304.1" width="16.7" height="16.7" fill="#00ff75"/>
<rect x="600.9" y="304.1" width="16.7" height="16.7" fill="#00ffbe"/>
<rect x="617.2" y="304.1" width="16.7" height="16.7" fill="#00fdff"/>
<rect x="633.5" y="304.1" width="16.7" height="16.7" fill="#0099ff"/>
<rect x="649.8" y="304.1" width="16.7" height="16.7" fill="#005dff"/>
<rect x="666.1" y="304.1" width="16.7" height="16.7" fill="#0020f8"/>
<rect x="682.4" y="304.1" width="16.7" height="16.7" fill="#0600a1"/>
<rect x="698.7" y="304.1" width="16.7" height="16.7" fill="#13002c"/>
<rect x="1041" y="304.1" width="16.7" height="16.7" fill="#110023"/>
<rect x="1057.3" y="304.1" width="7.7" height="16.7" fill="#16003b"/>
<rect x="169.7" y="320.4" width="24.1" height="16.7" fill="#ffb600"/>
<rect x="193.4" y="320.4" width="16.7" height="16.7" fill="#ff8600"/>
<rect x="209.7" y="320.4" width="16.7" height="16.7" fill="#ff4c00"/>
<rect x="226" y="320.4" width="16.7" height="16.7" fill="#ff1500"/>
<rect x="242.3" y="320.4" width="16.7" height="16.7" fill="#ff002a"/>
<rect x="258.6" y="320.4" width="16.7" height="16.7" fill="#ff008e"/>
<rect x="274.9" y="320.4" width="16.7" height="16.7" fill="#ff00cd"/>
<rect x="291.2" y="320.4" width="16.7" height="16.7" fill="#ff22f7"/>
<rect x="307.5" y="320.4" width="16.7" height="16.7" fill="#f659ff"/>
<rect x="323.8" y="320.4" width="16.7" height="16.7" fill="#ec87ff"/>
<rect x="340.1" y="320.4" width="16.7" height="16.7" fill="#ec9eff"/>
<rect x="356.4" y="320.4" width="16.7" height="16.7" fill="#eda5ff"/>
<rect x="372.7" y="320.4" width="16.7" height="16.7" fill="#eda8ff"/>
<rect x="389" y="320.4" width="16.7" height="16.7" fill="#eda5ff"/>
<rect x="405.3" y="320.4" width="16.7" height="16.7" fill="#ec99ff"/>
<rect x="421.6" y="320.4" width="16.7" height="16.7" fill="#f852ff"/>
<rect x="437.9" y="320.4" width="16.7" height="16.7" fill="#ff00cd"/>
<rect x="454.2" y="320.4" width="16.7" height="16.7" fill="#ff0061"/>
<rect x="470.5" y="320.4" width="16.7" height="16.7" fill="#ff2700"/>
<rect x="486.8" y="320.4" width="16.7" height="16.7" fill="#ff9900"/>
<rect x="503.1" y="320.4" width="16.7" height="16.7" fill="#fff500"/>
<rect x="519.4" y="320.4" width="16.7" height="16.7" fill="#b7ff00"/>
<rect x="535.7" y="320.4" width="16.7" height="16.7" fill="#66ff00"/>
<rect x="552" y="320.4" width="16.7" height="16.7" fill="#19ff00"/>
<rect x="568.3" y="320.4" width="16.7" height="16.7" fill="#00ff2d"/>
<rect x="584.6" y="320.4" width="16.7" height="16.7" fill="#00ff76"/>
<rect x="600.9" y="320.4" width="16.7" height="16.7" fill="#00ffc2"/>
<rect x="617.2" y="320.4" width="16.7" height="16.7" fill="#00fbff"/>
<rect x="633.5" y="320.4" width="16.7" height="16.7" fill="#0099ff"/>
<rect x="649.8" y="320.4" width="16.7" height="16.7" fill="#005dff"/>
<rect x="666.1" y="320.4" width="16.7" height="16.7" fill="#001cf7"/>
<rect x="682.4" y="320.4" width="16.7" height="16.7" fill="#07009f"/>
<rect x="698.7" y="320.4" width="16.7" height="16.7" fill="#13002c"/>
<rect x="1024.7" y="320.4" width="16.7" height="16.7" fill="#07000e"/>
<rect x="1041" y="320.4" width="16.7" height="16.7" fill="#140031"/>
<rect x="1057.3" y="320.4" width="7.7" height="16.7" fill="#180046"/>
<rect x="169.7" y="336.7" width="24.1" height="16.7" fill="#ffd400"/>
<rect x="193.4" y="336.7" width="16.7" height="16.7" fill="#ffaf00"/>
<rect x="209.7" y="336.7" width="16.7" height="16.7" fill="#ff7800"/>
<rect x="226" y="336.7" width="16.7" height="16.7" fill="#ff3c00"/>
<rect x="242.3" y="336.7" width="16.7" height="16.7" fill="#ff0000"/>
<rect x="258.6" y="336.7" width="16.7" height="16.7" fill="#ff005a"/>
<rect x="274.9" y="336.7" width="16.7" height="16.7" fill="#ff0093"/>
<rect x="291.2" y="336.7" width="16.7" height="16.7" fill="#ff00be"/>
<rect x="307.5" y="336.7" width="16.7" height="16.7" fill="#ff00e3"/>
<rect x="323.8" y="336.7" width="16.7" height="16.7" fill="#fd3cff"/>
<rect x="340.1" y="336.7" width="16.7" height="16.7" fill="#f560ff"/>
<rect x="356.4" y="336.7" width="16.7" height="16.7" fill="#f170ff"/>
<rect x="372.7" y="336.7" width="16.7" height="16.7" fill="#f074ff"/>
<rect x="389" y="336.7" width="16.7" height="16.7" fill="#f26eff"/>
<rect x="405.3" y="336.7" width="16.7" height="16.7" fill="#f55eff"/>
<rect x="421.6" y="336.7" width="16.7" height="16.7" fill="#ff25f9"/>
<rect x="437.9" y="336.7" width="16.7" height="16.7" fill="#ff00ae"/>
<rect x="454.2" y="336.7" width="16.7" height="16.7" fill="#ff0043"/>
<rect x="470.5" y="336.7" width="16.7" height="16.7" fill="#ff3a00"/>
<rect x="486.8" y="336.7" width="16.7" height="16.7" fill="#ffa700"/>
<rect x="503.1" y="336.7" width="16.7" height="16.7" fill="#faff00"/>
<rect x="519.4" y="336.7" width="16.7" height="16.7" fill="#a5ff00"/>
<rect x="535.7" y="336.7" width="16.7" height="16.7" fill="#5bff00"/>
<rect x="552" y="336.7" width="16.7" height="16.7" fill="#14ff00"/>
<rect x="568.3" y="336.7" width="16.7" height="16.7" fill="#00ff2e"/>
<rect x="584.6" y="336.7" width="16.7" height="16.7" fill="#00ff76"/>
<rect x="600.9" y="336.7" width="16.7" height="16.7" fill="#00ffc5"/>
<rect x="617.2" y="336.7" width="16.7" height="16.7" fill="#00f6ff"/>
<rect x="633.5" y="336.7" width="16.7" height="16.7" fill="#0099ff"/>
<rect x="649.8" y="336.7" width="16.7" height="16.7" fill="#005dff"/>
<rect x="666.1" y="336.7" width="16.7" height="16.7" fill="#0014f4"/>
<rect x="682.4" y="336.7" width="16.7" height="16.7" fill="#090099"/>
<rect x="698.7" y="336.7" width="16.7" height="16.7" fill="#13002c"/>
<rect x="1024.7" y="336.7" width="16.7" height="16.7" fill="#120025"/>
<rect x="1041" y="336.7" width="16.7" height="16.7" fill="#17003e"/>
<rect x="1057.3" y="336.7" width="7.7" height="16.7" fill="#1a0050"/>
<rect x="169.7" y="353" width="7.8" height="16.7" fill="#edff00"/>
<rect x="177.1" y="353" width="16.7" height="16.7" fill="#f4ff00"/>
<rect x="193.4" y="353" width="16.7" height="16.7" fill="#ffcc00"/>
<rect x="209.7" y="353" width="16.7" height="16.7" fill="#ff9800"/>
<rect x="226" y="353" width="16.7" height="16.7" fill="#ff6c00"/>
<rect x="242.3" y="353" width="16.7" height="16.7" fill="#ff3900"/>
<rect x="258.6" y="353" width="16.7" height="16.7" fill="#ff001b"/>
<rect x="274.9" y="353" width="16.7" height="16.7" fill="#ff0048"/>
<rect x="291.2" y="353" width="16.7" height="16.7" fill="#ff0070"/>
<rect x="307.5" y="353" width="16.7" height="16.7" fill="#ff0097"/>
<rect x="323.8" y="353" width="16.7" height="16.7" fill="#ff00be"/>
<rect x="340.1" y="353" width="16.7" height="16.7" fill="#ff00da"/>
<rect x="356.4" y="353" width="16.7" height="16.7" fill="#ff0aeb"/>
<rect x="372.7" y="353" width="16.7" height="16.7" fill="#ff12ef"/>
<rect x="389" y="353" width="16.7" height="16.7" fill="#ff01e7"/>
<rect x="405.3" y="353" width="16.7" height="16.7" fill="#ff00d4"/>
<rect x="421.6" y="353" width="16.7" height="16.7" fill="#ff00ad"/>
<rect x="437.9" y="353" width="16.7" height="16.7" fill="#ff0068"/>
<rect x="454.2" y="353" width="16.7" height="16.7" fill="#ff001b"/>
<rect x="470.5" y="353" width="16.7" height="16.7" fill="#ff5d00"/>
<rect x="486.8" y="353" width="16.7" height="16.7" fill="#ffb500"/>
<rect x="503.1" y="353" width="16.7" height="16.7" fill="#e7ff00"/>
<rect x="519.4" y="353" width="16.7" height="16.7" fill="#92ff00"/>
<rect x="535.7" y="353" width="16.7" height="16.7" fill="#45ff00"/>
<rect x="552" y="353" width="16.7" height="16.7" fill="#08ff00"/>
<rect x="568.3" y="353" width="16.7" height="16.7" fill="#00ff30"/>
<rect x="584.6" y="353" width="16.7" height="16.7" fill="#00ff77"/>
<rect x="600.9" y="353" width="16.7" height="16.7" fill="#00ffd0"/>
<rect x="617.2" y="353" width="16.7" height="16.7" fill="#00ecff"/>
<rect x="633.5" y="353" width="16.7" height="16.7" fill="#009aff"/>
<rect x="649.8" y="353" width="16.7" height="16.7" fill="#005dff"/>
<rect x="666.1" y="353" width="16.7" height="16.7" fill="#000cf1"/>
<rect x="682.4" y="353" width="16.7" height="16.7" fill="#0d008b"/>
<rect x="698.7" y="353" width="16.7" height="16.7" fill="#13002d"/>
<rect x="1024.7" y="353" width="16.7" height="16.7" fill="#120025"/>
<rect x="1041" y="353" width="16.7" height="16.7" fill="#17003e"/>
<rect x="1057.3" y="353" width="7.7" height="16.7" fill="#1a0050"/>
<rect x="169.7" y="369.3" width="7.8" height="16.7" fill="#d9ff00"/>
<rect x="177.1" y="369.3" width="16.7" height="16.7" fill="#ddff00"/>
<rect x="193.4" y="369.3" width="16.7" height="16.7" fill="#ffe600"/>
<rect x="209.7" y="369.3" width="16.7" height="16.7" fill="#ffb800"/>
<rect x="226" y="369.3" width="16.7" height="16.7" fill="#ff9200"/>
<rect x="242.3" y="369.3" width="16.7" height="16.7" fill="#ff6000"/>
<rect x="258.6" y="369.3" width="16.7" height="16.7" fill="#ff1300"/>
<rect x="274.9" y="369.3" width="16.7" height="16.7" fill="#ff0016"/>
<rect x="291.2" y="369.3" width="16.7" height="16.7" fill="#ff003f"/>
<rect x="307.5" y="369.3" width="16.7" height="16.7" fill="#ff0068"/>
<rect x="323.8" y="369.3" width="16.7" height="16.7" fill="#ff0091"/>
<rect x="340.1" y="369.3" width="16.7" height="16.7" fill="#ff00af"/>
<rect x="356.4" y="369.3" width="16.7" height="16.7" fill="#ff00c3"/>
<rect x="372.7" y="369.3" width="16.7" height="16.7" fill="#ff00c9"/>
<rect x="389" y="369.3" width="16.7" height="16.7" fill="#ff00bd"/>
<rect x="405.3" y="369.3" width="16.7" height="16.7" fill="#ff00a6"/>
<rect x="421.6" y="369.3" width="16.7" height="16.7" fill="#ff0077"/>
<rect x="437.9" y="369.3" width="16.7" height="16.7" fill="#ff002f"/>
<rect x="454.2" y="369.3" width="16.7" height="16.7" fill="#ff1600"/>
<rect x="470.5" y="369.3" width="16.7" height="16.7" fill="#ff8500"/>
<rect x="486.8" y="369.3" width="16.7" height="16.7" fill="#ffd200"/>
<rect x="503.1" y="369.3" width="16.7" height="16.7" fill="#c7ff00"/>
<rect x="519.4" y="369.3" width="16.7" height="16.7" fill="#79ff00"/>
<rect x="535.7" y="369.3" width="16.7" height="16.7" fill="#2fff00"/>
<rect x="552" y="369.3" width="16.7" height="16.7" fill="#00ff0f"/>
<rect x="568.3" y="369.3" width="16.7" height="16.7" fill="#00ff46"/>
<rect x="584.6" y="369.3" width="16.7" height="16.7" fill="#00ff8a"/>
<rect x="600.9" y="369.3" width="16.7" height="16.7" fill="#00ffdd"/>
<rect x="617.2" y="369.3" width="16.7" height="16.7" fill="#00e4ff"/>
<rect x="633.5" y="369.3" width="16.7" height="16.7" fill="#0096ff"/>
<rect x="649.8" y="369.3" width="16.7" height="16.7" fill="#0058ff"/>
<rect x="666.1" y="369.3" width="16.7" height="16.7" fill="#0009ea"/>
<rect x="682.4" y="369.3" width="16.7" height="16.7" fill="#100083"/>
<rect x="698.7" y="369.3" width="16.7" height="16.7" fill="#13002a"/>
<rect x="1008.4" y="369.3" width="16.7" height="16.7" fill="#010001"/>
<rect x="1024.7" y="369.3" width="16.7" height="16.7" fill="#13002d"/>
<rect x="1041" y="369.3" width="16.7" height="16.7" fill="#190049"/>
<rect x="1057.3" y="369.3" width="7.7" height="16.7" fill="#18005c"/>
<rect x="169.7" y="385.6" width="24.1" height="16.7" fill="#c9ff00"/>
<rect x="193.4" y="385.6" width="16.7" height="16.7" fill="#faff00"/>
<rect x="209.7" y="385.6" width="16.7" height="16.7" fill="#ffd900"/>
<rect x="226" y="385.6" width="16.7" height="16.7" fill="#ffaf00"/>
<rect x="242.3" y="385.6" width="16.7" height="16.7" fill="#ff8100"/>
<rect x="258.6" y="385.6" width="16.7" height="16.7" fill="#ff3b00"/>
<rect x="274.9" y="385.6" width="16.7" height="16.7" fill="#ff1000"/>
<rect x="291.2" y="385.6" width="16.7" height="16.7" fill="#ff0019"/>
<rect x="307.5" y="385.6" width="16.7" height="16.7" fill="#ff0043"/>
<rect x="323.8" y="385.6" width="16.7" height="16.7" fill="#ff006c"/>
<rect x="340.1" y="385.6" width="16.7" height="16.7" fill="#ff008a"/>
<rect x="356.4" y="385.6" width="16.7" height="16.7" fill="#ff009c"/>
<rect x="372.7" y="385.6" width="16.7" height="16.7" fill="#ff00a2"/>
<rect x="389" y="385.6" width="16.7" height="16.7" fill="#ff0097"/>
<rect x="405.3" y="385.6" width="16.7" height="16.7" fill="#ff007c"/>
<rect x="421.6" y="385.6" width="16.7" height="16.7" fill="#ff0046"/>
<rect x="437.9" y="385.6" width="16.7" height="16.7" fill="#ff0100"/>
<rect x="454.2" y="385.6" width="16.7" height="16.7" fill="#ff4c00"/>
<rect x="470.5" y="385.6" width="16.7" height="16.7" fill="#ffaa00"/>
<rect x="486.8" y="385.6" width="16.7" height="16.7" fill="#fffa00"/>
<rect x="503.1" y="385.6" width="16.7" height="16.7" fill="#a0ff00"/>
<rect x="519.4" y="385.6" width="16.7" height="16.7" fill="#56ff00"/>
<rect x="535.7" y="385.6" width="16.7" height="16.7" fill="#1aff00"/>
<rect x="552" y="385.6" width="16.7" height="16.7" fill="#00ff27"/>
<rect x="568.3" y="385.6" width="16.7" height="16.7" fill="#00ff63"/>
<rect x="584.6" y="385.6" width="16.7" height="16.7" fill="#00ffa4"/>
<rect x="600.9" y="385.6" width="16.7" height="16.7" fill="#00ffec"/>
<rect x="617.2" y="385.6" width="16.7" height="16.7" fill="#00daff"/>
<rect x="633.5" y="385.6" width="16.7" height="16.7" fill="#008eff"/>
<rect x="649.8" y="385.6" width="16.7" height="16.7" fill="#004fff"/>
<rect x="666.1" y="385.6" width="16.7" height="16.7" fill="#0008e1"/>
<rect x="682.4" y="385.6" width="16.7" height="16.7" fill="#11007d"/>
<rect x="698.7" y="385.6" width="16.7" height="16.7" fill="#120026"/>
<rect x="1008.4" y="385.6" width="16.7" height="16.7" fill="#0d001c"/>
<rect x="1024.7" y="385.6" width="16.7" height="16.7" fill="#150035"/>
<rect x="1041" y="385.6" width="16.7" height="16.7" fill="#190054"/>
<rect x="1057.3" y="385.6" width="7.7" height="16.7" fill="#150069"/>
<rect x="169.7" y="401.9" width="24.1" height="16.7" fill="#a4ff00"/>
<rect x="193.4" y="401.9" width="16.7" height="16.7" fill="#c4ff00"/>
<rect x="209.7" y="401.9" width="16.7" height="16.7" fill="#fffa00"/>
<rect x="226" y="401.9" width="16.7" height="16.7" fill="#ffc500"/>
<rect x="242.3" y="401.9" width="16.7" height="16.7" fill="#ff9d00"/>
<rect x="258.6" y="401.9" width="16.7" height="16.7" fill="#ff6100"/>
<rect x="274.9" y="401.9" width="16.7" height="16.7" fill="#ff2b00"/>
<rect x="291.2" y="401.9" width="16.7" height="16.7" fill="#ff0700"/>
<rect x="307.5" y="401.9" width="16.7" height="16.7" fill="#ff0022"/>
<rect x="323.8" y="401.9" width="16.7" height="16.7" fill="#ff0046"/>
<rect x="340.1" y="401.9" width="16.7" height="16.7" fill="#ff005d"/>
<rect x="356.4" y="401.9" width="16.7" height="16.7" fill="#ff006a"/>
<rect x="372.7" y="401.9" width="16.7" height="16.7" fill="#ff006d"/>
<rect x="389" y="401.9" width="16.7" height="16.7" fill="#ff0061"/>
<rect x="405.3" y="401.9" width="16.7" height="16.7" fill="#ff0043"/>
<rect x="421.6" y="401.9" width="16.7" height="16.7" fill="#ff0014"/>
<rect x="437.9" y="401.9" width="16.7" height="16.7" fill="#ff2900"/>
<rect x="454.2" y="401.9" width="16.7" height="16.7" fill="#ff8400"/>
<rect x="470.5" y="401.9" width="16.7" height="16.7" fill="#ffd500"/>
<rect x="486.8" y="401.9" width="16.7" height="16.7" fill="#d0ff00"/>
<rect x="503.1" y="401.9" width="16.7" height="16.7" fill="#7bff00"/>
<rect x="519.4" y="401.9" width="16.7" height="16.7" fill="#2bff00"/>
<rect x="535.7" y="401.9" width="16.7" height="16.7" fill="#03ff00"/>
<rect x="552" y="401.9" width="16.7" height="16.7" fill="#00ff37"/>
<rect x="568.3" y="401.9" width="16.7" height="16.7" fill="#00ff74"/>
<rect x="584.6" y="401.9" width="16.7" height="16.7" fill="#00ffb4"/>
<rect x="600.9" y="401.9" width="16.7" height="16.7" fill="#00fffc"/>
<rect x="617.2" y="401.9" width="16.7" height="16.7" fill="#00c6ff"/>
<rect x="633.5" y="401.9" width="16.7" height="16.7" fill="#0086ff"/>
<rect x="649.8" y="401.9" width="16.7" height="16.7" fill="#0046ff"/>
<rect x="666.1" y="401.9" width="16.7" height="16.7" fill="#0006d5"/>
<rect x="682.4" y="401.9" width="16.7" height="16.7" fill="#130073"/>
<rect x="698.7" y="401.9" width="16.7" height="16.7" fill="#100022"/>
<rect x="1008.4" y="401.9" width="16.7" height="16.7" fill="#0d001c"/>
<rect x="1024.7" y="401.9" width="16.7" height="16.7" fill="#150035"/>
<rect x="1041" y="401.9" width="16.7" height="16.7" fill="#190054"/>
<rect x="1057.3" y="401.9" width="7.7" height="16.7" fill="#150069"/>
<rect x="169.7" y="418.2" width="24.1" height="16.7" fill="#7fff00"/>
<rect x="193.4" y="418.2" width="16.7" height="16.7" fill="#9aff00"/>
<rect x="209.7" y="418.2" width="16.7" height="16.7" fill="#ccff00"/>
<rect x="226" y="418.2" width="16.7" height="16.7" fill="#ffff00"/>
<rect x="242.3" y="418.2" width="16.7" height="16.7" fill="#ffc900"/>
<rect x="258.6" y="418.2" width="16.7" height="16.7" fill="#ffa100"/>
<rect x="274.9" y="418.2" width="16.7" height="16.7" fill="#ff7700"/>
<rect x="291.2" y="418.2" width="16.7" height="16.7" fill="#ff4900"/>
<rect x="307.5" y="418.2" width="16.7" height="16.7" fill="#ff2a00"/>
<rect x="323.8" y="418.2" width="16.7" height="16.7" fill="#ff1500"/>
<rect x="340.1" y="418.2" width="16.7" height="16.7" fill="#ff0b00"/>
<rect x="356.4" y="418.2" width="16.7" height="16.7" fill="#ff0400"/>
<rect x="372.7" y="418.2" width="16.7" height="16.7" fill="#ff0300"/>
<rect x="389" y="418.2" width="16.7" height="16.7" fill="#ff0b00"/>
<rect x="405.3" y="418.2" width="16.7" height="16.7" fill="#ff2400"/>
<rect x="421.6" y="418.2" width="16.7" height="16.7" fill="#ff6200"/>
<rect x="437.9" y="418.2" width="16.7" height="16.7" fill="#ffa300"/>
<rect x="454.2" y="418.2" width="16.7" height="16.7" fill="#ffe600"/>
<rect x="470.5" y="418.2" width="16.7" height="16.7" fill="#c9ff00"/>
<rect x="486.8" y="418.2" width="16.7" height="16.7" fill="#74ff00"/>
<rect x="503.1" y="418.2" width="16.7" height="16.7" fill="#27ff00"/>
<rect x="519.4" y="418.2" width="16.7" height="16.7" fill="#00ff01"/>
<rect x="535.7" y="418.2" width="16.7" height="16.7" fill="#00ff2f"/>
<rect x="552" y="418.2" width="16.7" height="16.7" fill="#00ff68"/>
<rect x="568.3" y="418.2" width="16.7" height="16.7" fill="#00ffa5"/>
<rect x="584.6" y="418.2" width="16.7" height="16.7" fill="#00ffe1"/>
<rect x="600.9" y="418.2" width="16.7" height="16.7" fill="#00deff"/>
<rect x="617.2" y="418.2" width="16.7" height="16.7" fill="#00aaff"/>
<rect x="633.5" y="418.2" width="16.7" height="16.7" fill="#006fff"/>
<rect x="649.8" y="418.2" width="16.7" height="16.7" fill="#002ffe"/>
<rect x="666.1" y="418.2" width="16.7" height="16.7" fill="#0002c2"/>
<rect x="682.4" y="418.2" width="16.7" height="16.7" fill="#120076"/>
<rect x="698.7" y="418.2" width="16.7" height="16.7" fill="#140031"/>
<rect x="1008.4" y="418.2" width="16.7" height="16.7" fill="#0e001d"/>
<rect x="1024.7" y="418.2" width="16.7" height="16.7" fill="#16003a"/>
<rect x="1041" y="418.2" width="16.7" height="16.7" fill="#17005f"/>
<rect x="1057.3" y="418.2" width="7.7" height="16.7" fill="#130073"/>
<rect x="169.7" y="434.5" width="24.1" height="16.7" fill="#55ff00"/>
<rect x="193.4" y="434.5" width="16.7" height="16.7" fill="#5dff00"/>
<rect x="209.7" y="434.5" width="16.7" height="16.7" fill="#74ff00"/>
<rect x="226" y="434.5" width="16.7" height="16.7" fill="#9aff00"/>
<rect x="242.3" y="434.5" width="16.7" height="16.7" fill="#d3ff00"/>
<rect x="258.6" y="434.5" width="16.7" height="16.7" fill="#fbff00"/>
<rect x="274.9" y="434.5" width="16.7" height="16.7" fill="#ffd800"/>
<rect x="291.2" y="434.5" width="16.7" height="16.7" fill="#ffb200"/>
<rect x="307.5" y="434.5" width="16.7" height="16.7" fill="#ff9600"/>
<rect x="323.8" y="434.5" width="16.7" height="16.7" fill="#ff8100"/>
<rect x="340.1" y="434.5" width="16.7" height="16.7" fill="#ff6e00"/>
<rect x="356.4" y="434.5" width="16.7" height="16.7" fill="#ff6000"/>
<rect x="372.7" y="434.5" width="16.7" height="16.7" fill="#ff5d00"/>
<rect x="389" y="434.5" width="16.7" height="16.7" fill="#ff6900"/>
<rect x="405.3" y="434.5" width="16.7" height="16.7" fill="#ff8400"/>
<rect x="421.6" y="434.5" width="16.7" height="16.7" fill="#ffae00"/>
<rect x="437.9" y="434.5" width="16.7" height="16.7" fill="#ffe500"/>
<rect x="454.2" y="434.5" width="16.7" height="16.7" fill="#d9ff00"/>
<rect x="470.5" y="434.5" width="16.7" height="16.7" fill="#85ff00"/>
<rect x="486.8" y="434.5" width="16.7" height="16.7" fill="#38ff00"/>
<rect x="503.1" y="434.5" width="16.7" height="16.7" fill="#00ff03"/>
<rect x="519.4" y="434.5" width="16.7" height="16.7" fill="#00ff32"/>
<rect x="535.7" y="434.5" width="16.7" height="16.7" fill="#00ff6d"/>
<rect x="552" y="434.5" width="16.7" height="16.7" fill="#00ffa1"/>
<rect x="568.3" y="434.5" width="16.7" height="16.7" fill="#00ffd0"/>
<rect x="584.6" y="434.5" width="16.7" height="16.7" fill="#00feff"/>
<rect x="600.9" y="434.5" width="16.7" height="16.7" fill="#00b7ff"/>
<rect x="617.2" y="434.5" width="16.7" height="16.7" fill="#008bff"/>
<rect x="633.5" y="434.5" width="16.7" height="16.7" fill="#005aff"/>
<rect x="649.8" y="434.5" width="16.7" height="16.7" fill="#001cf7"/>
<rect x="666.1" y="434.5" width="16.7" height="16.7" fill="#0000b6"/>
<rect x="682.4" y="434.5" width="16.7" height="16.7" fill="#120079"/>
<rect x="698.7" y="434.5" width="16.7" height="16.7" fill="#19004c"/>
<rect x="715" y="434.5" width="16.7" height="16.7" fill="#110023"/>
<rect x="1008.4" y="434.5" width="16.7" height="16.7" fill="#0f0020"/>
<rect x="1024.7" y="434.5" width="16.7" height="16.7" fill="#17003f"/>
<rect x="1041" y="434.5" width="16.7" height="16.7" fill="#150068"/>
<rect x="1057.3" y="434.5" width="7.7" height="16.7" fill="#120078"/>
<rect x="169.7" y="450.8" width="40.4" height="16.7" fill="#16ff00"/>
<rect x="209.7" y="450.8" width="16.7" height="16.7" fill="#2fff00"/>
<rect x="226" y="450.8" width="16.7" height="16.7" fill="#53ff00"/>
<rect x="242.3" y="450.8" width="16.7" height="16.7" fill="#73ff00"/>
<rect x="258.6" y="450.8" width="16.7" height="16.7" fill="#90ff00"/>
<rect x="274.9" y="450.8" width="16.7" height="16.7" fill="#aaff00"/>
<rect x="291.2" y="450.8" width="16.7" height="16.7" fill="#cfff00"/>
<rect x="307.5" y="450.8" width="16.7" height="16.7" fill="#f5ff00"/>
<rect x="323.8" y="450.8" width="16.7" height="16.7" fill="#fff200"/>
<rect x="340.1" y="450.8" width="16.7" height="16.7" fill="#ffdb00"/>
<rect x="356.4" y="450.8" width="16.7" height="16.7" fill="#ffcc00"/>
<rect x="372.7" y="450.8" width="33" height="16.7" fill="#ffc600"/>
<rect x="405.3" y="450.8" width="16.7" height="16.7" fill="#ffe900"/>
<rect x="421.6" y="450.8" width="16.7" height="16.7" fill="#e8ff00"/>
<rect x="437.9" y="450.8" width="16.7" height="16.7" fill="#b5ff00"/>
<rect x="454.2" y="450.8" width="16.7" height="16.7" fill="#6dff00"/>
<rect x="470.5" y="450.8" width="16.7" height="16.7" fill="#2fff00"/>
<rect x="486.8" y="450.8" width="16.7" height="16.7" fill="#07ff00"/>
<rect x="503.1" y="450.8" width="16.7" height="16.7" fill="#00ff28"/>
<rect x="519.4" y="450.8" width="16.7" height="16.7" fill="#00ff59"/>
<rect x="535.7" y="450.8" width="16.7" height="16.7" fill="#00ff8a"/>
<rect x="552" y="450.8" width="16.7" height="16.7" fill="#00ffba"/>
<rect x="568.3" y="450.8" width="16.7" height="16.7" fill="#00ffdd"/>
<rect x="584.6" y="450.8" width="16.7" height="16.7" fill="#00ecff"/>
<rect x="600.9" y="450.8" width="16.7" height="16.7" fill="#00b1ff"/>
<rect x="617.2" y="450.8" width="16.7" height="16.7" fill="#0075ff"/>
<rect x="633.5" y="450.8" width="16.7" height="16.7" fill="#0045ff"/>
<rect x="649.8" y="450.8" width="16.7" height="16.7" fill="#0012f3"/>
<rect x="666.1" y="450.8" width="16.7" height="16.7" fill="#0000b4"/>
<rect x="682.4" y="450.8" width="16.7" height="16.7" fill="#0f0086"/>
<rect x="698.7" y="450.8" width="16.7" height="16.7" fill="#180058"/>
<rect x="715" y="450.8" width="16.7" height="16.7" fill="#13002b"/>
<rect x="1008.4" y="450.8" width="16.7" height="16.7" fill="#120027"/>
<rect x="1024.7" y="450.8" width="16.7" height="16.7" fill="#180043"/>
<rect x="1041" y="450.8" width="16.7" height="16.7" fill="#14006e"/>
<rect x="1057.3" y="450.8" width="7.7" height="16.7" fill="#100082"/>
<rect x="169.7" y="467.1" width="7.8" height="16.7" fill="#00ff31"/>
<rect x="177.1" y="467.1" width="16.7" height="16.7" fill="#00ff2e"/>
<rect x="193.4" y="467.1" width="16.7" height="16.7" fill="#00ff28"/>
<rect x="209.7" y="467.1" width="16.7" height="16.7" fill="#00ff1e"/>
<rect x="226" y="467.1" width="16.7" height="16.7" fill="#00ff0e"/>
<rect x="242.3" y="467.1" width="16.7" height="16.7" fill="#03ff00"/>
<rect x="258.6" y="467.1" width="16.7" height="16.7" fill="#1bff00"/>
<rect x="274.9" y="467.1" width="16.7" height="16.7" fill="#34ff00"/>
<rect x="291.2" y="467.1" width="16.7" height="16.7" fill="#4cff00"/>
<rect x="307.5" y="467.1" width="16.7" height="16.7" fill="#66ff00"/>
<rect x="323.8" y="467.1" width="16.7" height="16.7" fill="#7cff00"/>
<rect x="340.1" y="467.1" width="16.7" height="16.7" fill="#8fff00"/>
<rect x="356.4" y="467.1" width="16.7" height="16.7" fill="#9eff00"/>
<rect x="372.7" y="467.1" width="33" height="16.7" fill="#a2ff00"/>
<rect x="405.3" y="467.1" width="16.7" height="16.7" fill="#99ff00"/>
<rect x="421.6" y="467.1" width="16.7" height="16.7" fill="#7aff00"/>
<rect x="437.9" y="467.1" width="16.7" height="16.7" fill="#3dff00"/>
<rect x="454.2" y="467.1" width="16.7" height="16.7" fill="#15ff00"/>
<rect x="470.5" y="467.1" width="16.7" height="16.7" fill="#00ff1d"/>
<rect x="486.8" y="467.1" width="16.7" height="16.7" fill="#00ff45"/>
<rect x="503.1" y="467.1" width="16.7" height="16.7" fill="#00ff70"/>
<rect x="519.4" y="467.1" width="16.7" height="16.7" fill="#00ffa1"/>
<rect x="535.7" y="467.1" width="16.7" height="16.7" fill="#00ffd2"/>
<rect x="552" y="467.1" width="16.7" height="16.7" fill="#00fff4"/>
<rect x="568.3" y="467.1" width="16.7" height="16.7" fill="#00e1ff"/>
<rect x="584.6" y="467.1" width="16.7" height="16.7" fill="#00a7ff"/>
<rect x="600.9" y="467.1" width="16.7" height="16.7" fill="#0076ff"/>
<rect x="617.2" y="467.1" width="16.7" height="16.7" fill="#004cff"/>
<rect x="633.5" y="467.1" width="16.7" height="16.7" fill="#0027fb"/>
<rect x="649.8" y="467.1" width="16.7" height="16.7" fill="#000aee"/>
<rect x="666.1" y="467.1" width="16.7" height="16.7" fill="#0300aa"/>
<rect x="682.4" y="467.1" width="16.7" height="16.7" fill="#11007e"/>
<rect x="698.7" y="467.1" width="16.7" height="16.7" fill="#17005d"/>
<rect x="715" y="467.1" width="16.7" height="16.7" fill="#170042"/>
<rect x="731.3" y="467.1" width="16.7" height="16.7" fill="#14002f"/>
<rect x="747.6" y="467.1" width="16.7" height="16.7" fill="#0f0020"/>
<rect x="992.1" y="467.1" width="16.7" height="16.7" fill="#0d001b"/>
<rect x="1008.4" y="467.1" width="16.7" height="16.7" fill="#13002d"/>
<rect x="1024.7" y="467.1" width="16.7" height="16.7" fill="#19004d"/>
<rect x="1041" y="467.1" width="16.7" height="16.7" fill="#14006d"/>
<rect x="1057.3" y="467.1" width="7.7" height="16.7" fill="#100082"/>
<rect x="169.7" y="483.4" width="7.8" height="16.7" fill="#00ffa1"/>
<rect x="177.1" y="483.4" width="16.7" height="16.7" fill="#00ff9b"/>
<rect x="193.4" y="483.4" width="16.7" height="16.7" fill="#00ff93"/>
<rect x="209.7" y="483.4" width="16.7" height="16.7" fill="#00ff88"/>
<rect x="226" y="483.4" width="16.7" height="16.7" fill="#00ff7b"/>
<rect x="242.3" y="483.4" width="16.7" height="16.7" fill="#00ff6b"/>
<rect x="258.6" y="483.4" width="16.7" height="16.7" fill="#00ff5a"/>
<rect x="274.9" y="483.4" width="16.7" height="16.7" fill="#00ff48"/>
<rect x="291.2" y="483.4" width="16.7" height="16.7" fill="#00ff32"/>
<rect x="307.5" y="483.4" width="16.7" height="16.7" fill="#00ff17"/>
<rect x="323.8" y="483.4" width="16.7" height="16.7" fill="#00ff01"/>
<rect x="340.1" y="483.4" width="16.7" height="16.7" fill="#0fff00"/>
<rect x="356.4" y="483.4" width="16.7" height="16.7" fill="#1bff00"/>
<rect x="372.7" y="483.4" width="16.7" height="16.7" fill="#1eff00"/>
<rect x="389" y="483.4" width="16.7" height="16.7" fill="#1cff00"/>
<rect x="405.3" y="483.4" width="16.7" height="16.7" fill="#17ff00"/>
<rect x="421.6" y="483.4" width="16.7" height="16.7" fill="#08ff00"/>
<rect x="437.9" y="483.4" width="16.7" height="16.7" fill="#00ff1a"/>
<rect x="454.2" y="483.4" width="16.7" height="16.7" fill="#00ff41"/>
<rect x="470.5" y="483.4" width="16.7" height="16.7" fill="#00ff68"/>
<rect x="486.8" y="483.4" width="16.7" height="16.7" fill="#00ff94"/>
<rect x="503.1" y="483.4" width="16.7" height="16.7" fill="#00ffbf"/>
<rect x="519.4" y="483.4" width="16.7" height="16.7" fill="#00ffec"/>
<rect x="535.7" y="483.4" width="16.7" height="16.7" fill="#00edff"/>
<rect x="552" y="483.4" width="16.7" height="16.7" fill="#00ccff"/>
<rect x="568.3" y="483.4" width="16.7" height="16.7" fill="#00acff"/>
<rect x="584.6" y="483.4" width="16.7" height="16.7" fill="#008bff"/>
<rect x="600.9" y="483.4" width="16.7" height="16.7" fill="#0060ff"/>
<rect x="617.2" y="483.4" width="16.7" height="16.7" fill="#0035ff"/>
<rect x="633.5" y="483.4" width="16.7" height="16.7" fill="#0012f3"/>
<rect x="649.8" y="483.4" width="16.7" height="16.7" fill="#0004cd"/>
<rect x="666.1" y="483.4" width="16.7" height="16.7" fill="#0500a5"/>
<rect x="682.4" y="483.4" width="16.7" height="16.7" fill="#0f0084"/>
<rect x="698.7" y="483.4" width="16.7" height="16.7" fill="#160066"/>
<rect x="715" y="483.4" width="16.7" height="16.7" fill="#1a0050"/>
<rect x="731.3" y="483.4" width="16.7" height="16.7" fill="#180044"/>
<rect x="747.6" y="483.4" width="16.7" height="16.7" fill="#16003b"/>
<rect x="763.9" y="483.4" width="16.7" height="16.7" fill="#150038"/>
<rect x="780.2" y="483.4" width="33" height="16.7" fill="#150037"/>
<rect x="812.8" y="483.4" width="16.7" height="16.7" fill="#150036"/>
<rect x="829.1" y="483.4" width="16.7" height="16.7" fill="#150035"/>
<rect x="845.4" y="483.4" width="16.7" height="16.7" fill="#140033"/>
<rect x="861.7" y="483.4" width="16.7" height="16.7" fill="#14002f"/>
<rect x="992.1" y="483.4" width="16.7" height="16.7" fill="#0a0015"/>
<rect x="1008.4" y="483.4" width="16.7" height="16.7" fill="#140030"/>
<rect x="1024.7" y="483.4" width="16.7" height="16.7" fill="#180058"/>
<rect x="1041" y="483.4" width="16.7" height="16.7" fill="#120076"/>
<rect x="1057.3" y="483.4" width="7.7" height="16.7" fill="#100082"/>
<rect x="169.7" y="499.7" width="40.4" height="16.7" fill="#00ffbf"/>
<rect x="209.7" y="499.7" width="16.7" height="16.7" fill="#00ffb3"/>
<rect x="226" y="499.7" width="16.7" height="16.7" fill="#00ff96"/>
<rect x="242.3" y="499.7" width="16.7" height="16.7" fill="#00ff7a"/>
<rect x="258.6" y="499.7" width="16.7" height="16.7" fill="#00ff62"/>
<rect x="274.9" y="499.7" width="16.7" height="16.7" fill="#00ff4a"/>
<rect x="291.2" y="499.7" width="16.7" height="16.7" fill="#00ff31"/>
<rect x="307.5" y="499.7" width="16.7" height="16.7" fill="#00ff17"/>
<rect x="323.8" y="499.7" width="16.7" height="16.7" fill="#00ff01"/>
<rect x="340.1" y="499.7" width="16.7" height="16.7" fill="#15ff00"/>
<rect x="356.4" y="499.7" width="16.7" height="16.7" fill="#26ff00"/>
<rect x="372.7" y="499.7" width="16.7" height="16.7" fill="#2aff00"/>
<rect x="389" y="499.7" width="16.7" height="16.7" fill="#22ff00"/>
<rect x="405.3" y="499.7" width="16.7" height="16.7" fill="#12ff00"/>
<rect x="421.6" y="499.7" width="16.7" height="16.7" fill="#00ff10"/>
<rect x="437.9" y="499.7" width="16.7" height="16.7" fill="#00ff35"/>
<rect x="454.2" y="499.7" width="16.7" height="16.7" fill="#00ff5f"/>
<rect x="470.5" y="499.7" width="16.7" height="16.7" fill="#00ff86"/>
<rect x="486.8" y="499.7" width="16.7" height="16.7" fill="#00ffb0"/>
<rect x="503.1" y="499.7" width="16.7" height="16.7" fill="#00ffde"/>
<rect x="519.4" y="499.7" width="16.7" height="16.7" fill="#00f5ff"/>
<rect x="535.7" y="499.7" width="16.7" height="16.7" fill="#00d4ff"/>
<rect x="552" y="499.7" width="16.7" height="16.7" fill="#00b4ff"/>
<rect x="568.3" y="499.7" width="16.7" height="16.7" fill="#0096ff"/>
<rect x="584.6" y="499.7" width="16.7" height="16.7" fill="#0075ff"/>
<rect x="600.9" y="499.7" width="16.7" height="16.7" fill="#0053ff"/>
<rect x="617.2" y="499.7" width="16.7" height="16.7" fill="#0031ff"/>
<rect x="633.5" y="499.7" width="16.7" height="16.7" fill="#0012f3"/>
<rect x="649.8" y="499.7" width="16.7" height="16.7" fill="#0005d1"/>
<rect x="666.1" y="499.7" width="16.7" height="16.7" fill="#0001b9"/>
<rect x="682.4" y="499.7" width="16.7" height="16.7" fill="#0300a9"/>
<rect x="698.7" y="499.7" width="16.7" height="16.7" fill="#08009c"/>
<rect x="715" y="499.7" width="16.7" height="16.7" fill="#090097"/>
<rect x="731.3" y="499.7" width="16.7" height="16.7" fill="#090096"/>
<rect x="747.6" y="499.7" width="65.6" height="16.7" fill="#0a0096"/>
<rect x="812.8" y="499.7" width="16.7" height="16.7" fill="#0d008c"/>
<rect x="829.1" y="499.7" width="16.7" height="16.7" fill="#14006d"/>
<rect x="845.4" y="499.7" width="16.7" height="16.7" fill="#180044"/>
<rect x="861.7" y="499.7" width="16.7" height="16.7" fill="#100022"/>
<rect x="878" y="499.7" width="16.7" height="16.7" fill="#080011"/>
<rect x="992.1" y="499.7" width="16.7" height="16.7" fill="#0a0015"/>
<rect x="1008.4" y="499.7" width="16.7" height="16.7" fill="#140030"/>
<rect x="1024.7" y="499.7" width="16.7" height="16.7" fill="#180059"/>
<rect x="1041" y="499.7" width="16.7" height="16.7" fill="#12007a"/>
<rect x="1057.3" y="499.7" width="7.7" height="16.7" fill="#100082"/>
<rect x="169.7" y="516" width="7.8" height="16.7" fill="#00ffef"/>
<rect x="177.1" y="516" width="16.7" height="16.7" fill="#00ffed"/>
<rect x="193.4" y="516" width="16.7" height="16.7" fill="#00ffe7"/>
<rect x="209.7" y="516" width="16.7" height="16.7" fill="#00ffdd"/>
<rect x="226" y="516" width="16.7" height="16.7" fill="#00ffcd"/>
<rect x="242.3" y="516" width="16.7" height="16.7" fill="#00ffbb"/>
<rect x="258.6" y="516" width="16.7" height="16.7" fill="#00ffa3"/>
<rect x="274.9" y="516" width="16.7" height="16.7" fill="#00ff89"/>
<rect x="291.2" y="516" width="16.7" height="16.7" fill="#00ff74"/>
<rect x="307.5" y="516" width="16.7" height="16.7" fill="#00ff61"/>
<rect x="323.8" y="516" width="16.7" height="16.7" fill="#00ff51"/>
<rect x="340.1" y="516" width="16.7" height="16.7" fill="#00ff41"/>
<rect x="356.4" y="516" width="16.7" height="16.7" fill="#00ff34"/>
<rect x="372.7" y="516" width="16.7" height="16.7" fill="#00ff31"/>
<rect x="389" y="516" width="16.7" height="16.7" fill="#00ff3b"/>
<rect x="405.3" y="516" width="16.7" height="16.7" fill="#00ff4f"/>
<rect x="421.6" y="516" width="16.7" height="16.7" fill="#00ff71"/>
<rect x="437.9" y="516" width="16.7" height="16.7" fill="#00ff97"/>
<rect x="454.2" y="516" width="16.7" height="16.7" fill="#00ffbf"/>
<rect x="470.5" y="516" width="16.7" height="16.7" fill="#00ffde"/>
<rect x="486.8" y="516" width="16.7" height="16.7" fill="#00fffb"/>
<rect x="503.1" y="516" width="16.7" height="16.7" fill="#00ddff"/>
<rect x="519.4" y="516" width="16.7" height="16.7" fill="#00abff"/>
<rect x="535.7" y="516" width="16.7" height="16.7" fill="#0092ff"/>
<rect x="552" y="516" width="16.7" height="16.7" fill="#0080ff"/>
<rect x="568.3" y="516" width="16.7" height="16.7" fill="#0071ff"/>
<rect x="584.6" y="516" width="16.7" height="16.7" fill="#005eff"/>
<rect x="600.9" y="516" width="16.7" height="16.7" fill="#003dff"/>
<rect x="617.2" y="516" width="16.7" height="16.7" fill="#001df7"/>
<rect x="633.5" y="516" width="16.7" height="16.7" fill="#0007dd"/>
<rect x="649.8" y="516" width="16.7" height="16.7" fill="#0000b4"/>
<rect x="666.1" y="516" width="16.7" height="16.7" fill="#0300ac"/>
<rect x="682.4" y="516" width="16.7" height="16.7" fill="#0500a6"/>
<rect x="698.7" y="516" width="16.7" height="16.7" fill="#0600a1"/>
<rect x="715" y="516" width="16.7" height="16.7" fill="#0300ab"/>
<rect x="731.3" y="516" width="16.7" height="16.7" fill="#0005d2"/>
<rect x="747.6" y="516" width="16.7" height="16.7" fill="#0009e8"/>
<rect x="763.9" y="516" width="49.3" height="16.7" fill="#000aed"/>
<rect x="812.8" y="516" width="16.7" height="16.7" fill="#0007dd"/>
<rect x="829.1" y="516" width="16.7" height="16.7" fill="#0100b1"/>
<rect x="845.4" y="516" width="16.7" height="16.7" fill="#0f0084"/>
<rect x="861.7" y="516" width="16.7" height="16.7" fill="#17003f"/>
<rect x="878" y="516" width="16.7" height="16.7" fill="#0e001d"/>
<rect x="992.1" y="516" width="16.7" height="16.7" fill="#090012"/>
<rect x="1008.4" y="516" width="16.7" height="16.7" fill="#14002f"/>
<rect x="1024.7" y="516" width="16.7" height="16.7" fill="#1a004e"/>
<rect x="1041" y="516" width="16.7" height="16.7" fill="#15006b"/>
<rect x="1057.3" y="516" width="7.7" height="16.7" fill="#130073"/>
<rect x="169.7" y="532.3" width="7.8" height="16.7" fill="#00eeff"/>
<rect x="177.1" y="532.3" width="16.7" height="16.7" fill="#00f3ff"/>
<rect x="193.4" y="532.3" width="16.7" height="16.7" fill="#00feff"/>
<rect x="209.7" y="532.3" width="16.7" height="16.7" fill="#00ffee"/>
<rect x="226" y="532.3" width="16.7" height="16.7" fill="#00ffd4"/>
<rect x="242.3" y="532.3" width="16.7" height="16.7" fill="#00ffba"/>
<rect x="258.6" y="532.3" width="16.7" height="16.7" fill="#00ffa2"/>
<rect x="274.9" y="532.3" width="16.7" height="16.7" fill="#00ff8a"/>
<rect x="291.2" y="532.3" width="16.7" height="16.7" fill="#00ff70"/>
<rect x="307.5" y="532.3" width="16.7" height="16.7" fill="#00ff54"/>
<rect x="323.8" y="532.3" width="16.7" height="16.7" fill="#00ff41"/>
<rect x="340.1" y="532.3" width="16.7" height="16.7" fill="#00ff38"/>
<rect x="356.4" y="532.3" width="16.7" height="16.7" fill="#00ff32"/>
<rect x="372.7" y="532.3" width="16.7" height="16.7" fill="#00ff31"/>
<rect x="389" y="532.3" width="16.7" height="16.7" fill="#00ff3b"/>
<rect x="405.3" y="532.3" width="16.7" height="16.7" fill="#00ff56"/>
<rect x="421.6" y="532.3" width="16.7" height="16.7" fill="#00ff89"/>
<rect x="437.9" y="532.3" width="16.7" height="16.7" fill="#00ffbd"/>
<rect x="454.2" y="532.3" width="16.7" height="16.7" fill="#00ffee"/>
<rect x="470.5" y="532.3" width="16.7" height="16.7" fill="#00eeff"/>
<rect x="486.8" y="532.3" width="16.7" height="16.7" fill="#00d0ff"/>
<rect x="503.1" y="532.3" width="16.7" height="16.7" fill="#00b2ff"/>
<rect x="519.4" y="532.3" width="16.7" height="16.7" fill="#009bff"/>
<rect x="535.7" y="532.3" width="16.7" height="16.7" fill="#008aff"/>
<rect x="552" y="532.3" width="16.7" height="16.7" fill="#0075ff"/>
<rect x="568.3" y="532.3" width="16.7" height="16.7" fill="#0061ff"/>
<rect x="584.6" y="532.3" width="16.7" height="16.7" fill="#0048ff"/>
<rect x="600.9" y="532.3" width="16.7" height="16.7" fill="#0028fb"/>
<rect x="617.2" y="532.3" width="16.7" height="16.7" fill="#0009ec"/>
<rect x="633.5" y="532.3" width="16.7" height="16.7" fill="#0003c8"/>
<rect x="649.8" y="532.3" width="16.7" height="16.7" fill="#0000b4"/>
<rect x="666.1" y="532.3" width="16.7" height="16.7" fill="#0500a5"/>
<rect x="682.4" y="532.3" width="16.7" height="16.7" fill="#080099"/>
<rect x="698.7" y="532.3" width="16.7" height="16.7" fill="#08009b"/>
<rect x="715" y="532.3" width="16.7" height="16.7" fill="#0001b9"/>
<rect x="731.3" y="532.3" width="16.7" height="16.7" fill="#0009ed"/>
<rect x="747.6" y="532.3" width="16.7" height="16.7" fill="#001cf7"/>
<rect x="763.9" y="532.3" width="49.3" height="16.7" fill="#0021f9"/>
<rect x="812.8" y="532.3" width="16.7" height="16.7" fill="#0013f3"/>
<rect x="829.1" y="532.3" width="16.7" height="16.7" fill="#0004cb"/>
<rect x="845.4" y="532.3" width="16.7" height="16.7" fill="#08009a"/>
<rect x="861.7" y="532.3" width="16.7" height="16.7" fill="#180046"/>
<rect x="878" y="532.3" width="16.7" height="16.7" fill="#100022"/>
<rect x="1008.4" y="532.3" width="16.7" height="16.7" fill="#0e001e"/>
<rect x="1024.7" y="532.3" width="16.7" height="16.7" fill="#17003f"/>
<rect x="1041" y="532.3" width="16.7" height="16.7" fill="#18005b"/>
<rect x="1057.3" y="532.3" width="7.7" height="16.7" fill="#17005f"/>
<rect x="169.7" y="548.6" width="7.8" height="16.7" fill="#00b5ff"/>
<rect x="177.1" y="548.6" width="16.7" height="16.7" fill="#00c4ff"/>
<rect x="193.4" y="548.6" width="16.7" height="16.7" fill="#00daff"/>
<rect x="209.7" y="548.6" width="16.7" height="16.7" fill="#00f4ff"/>
<rect x="226" y="548.6" width="16.7" height="16.7" fill="#00fff3"/>
<rect x="242.3" y="548.6" width="16.7" height="16.7" fill="#00ffe1"/>
<rect x="258.6" y="548.6" width="16.7" height="16.7" fill="#00ffd0"/>
<rect x="274.9" y="548.6" width="16.7" height="16.7" fill="#00ffbd"/>
<rect x="291.2" y="548.6" width="16.7" height="16.7" fill="#00ffab"/>
<rect x="307.5" y="548.6" width="16.7" height="16.7" fill="#00ff9b"/>
<rect x="323.8" y="548.6" width="16.7" height="16.7" fill="#00ff8b"/>
<rect x="340.1" y="548.6" width="16.7" height="16.7" fill="#00ff80"/>
<rect x="356.4" y="548.6" width="33" height="16.7" fill="#00ff7f"/>
<rect x="389" y="548.6" width="16.7" height="16.7" fill="#00ff88"/>
<rect x="405.3" y="548.6" width="16.7" height="16.7" fill="#00ffa3"/>
<rect x="421.6" y="548.6" width="16.7" height="16.7" fill="#00ffc4"/>
<rect x="437.9" y="548.6" width="16.7" height="16.7" fill="#00ffe8"/>
<rect x="454.2" y="548.6" width="16.7" height="16.7" fill="#00f6ff"/>
<rect x="470.5" y="548.6" width="16.7" height="16.7" fill="#00ccff"/>
<rect x="486.8" y="548.6" width="16.7" height="16.7" fill="#00afff"/>
<rect x="503.1" y="548.6" width="16.7" height="16.7" fill="#009bff"/>
<rect x="519.4" y="548.6" width="16.7" height="16.7" fill="#008cff"/>
<rect x="535.7" y="548.6" width="16.7" height="16.7" fill="#007cff"/>
<rect x="552" y="548.6" width="16.7" height="16.7" fill="#0069ff"/>
<rect x="568.3" y="548.6" width="16.7" height="16.7" fill="#0055ff"/>
<rect x="584.6" y="548.6" width="16.7" height="16.7" fill="#003bff"/>
<rect x="600.9" y="548.6" width="16.7" height="16.7" fill="#0015f4"/>
<rect x="617.2" y="548.6" width="16.7" height="16.7" fill="#0006d6"/>
<rect x="633.5" y="548.6" width="16.7" height="16.7" fill="#0000b4"/>
<rect x="649.8" y="548.6" width="16.7" height="16.7" fill="#08009b"/>
<rect x="666.1" y="548.6" width="16.7" height="16.7" fill="#0d008d"/>
<rect x="682.4" y="548.6" width="16.7" height="16.7" fill="#100083"/>
<rect x="698.7" y="548.6" width="16.7" height="16.7" fill="#0e0088"/>
<rect x="715" y="548.6" width="16.7" height="16.7" fill="#0001ba"/>
<rect x="731.3" y="548.6" width="16.7" height="16.7" fill="#0009ed"/>
<rect x="747.6" y="548.6" width="16.7" height="16.7" fill="#0029fc"/>
<rect x="763.9" y="548.6" width="16.7" height="16.7" fill="#003eff"/>
<rect x="780.2" y="548.6" width="16.7" height="16.7" fill="#0048ff"/>
<rect x="796.5" y="548.6" width="16.7" height="16.7" fill="#0042ff"/>
<rect x="812.8" y="548.6" width="16.7" height="16.7" fill="#002dfd"/>
<rect x="829.1" y="548.6" width="16.7" height="16.7" fill="#000bf1"/>
<rect x="845.4" y="548.6" width="16.7" height="16.7" fill="#0100b0"/>
<rect x="861.7" y="548.6" width="16.7" height="16.7" fill="#18005a"/>
<rect x="878" y="548.6" width="16.7" height="16.7" fill="#0e001d"/>
<rect x="1008.4" y="548.6" width="16.7" height="16.7" fill="#0d001b"/>
<rect x="1024.7" y="548.6" width="16.7" height="16.7" fill="#150036"/>
<rect x="1041" y="548.6" width="24" height="16.7" fill="#1a0050"/>
<rect x="169.7" y="564.9" width="7.8" height="16.7" fill="#008cff"/>
<rect x="177.1" y="564.9" width="16.7" height="16.7" fill="#0094ff"/>
<rect x="193.4" y="564.9" width="16.7" height="16.7" fill="#009fff"/>
<rect x="209.7" y="564.9" width="16.7" height="16.7" fill="#00abff"/>
<rect x="226" y="564.9" width="16.7" height="16.7" fill="#00baff"/>
<rect x="242.3" y="564.9" width="16.7" height="16.7" fill="#00cdff"/>
<rect x="258.6" y="564.9" width="16.7" height="16.7" fill="#00e8ff"/>
<rect x="274.9" y="564.9" width="16.7" height="16.7" fill="#00fffd"/>
<rect x="291.2" y="564.9" width="16.7" height="16.7" fill="#00ffea"/>
<rect x="307.5" y="564.9" width="16.7" height="16.7" fill="#00ffdd"/>
<rect x="323.8" y="564.9" width="16.7" height="16.7" fill="#00ffd5"/>
<rect x="340.1" y="564.9" width="16.7" height="16.7" fill="#00ffd0"/>
<rect x="356.4" y="564.9" width="16.7" height="16.7" fill="#00ffd1"/>
<rect x="372.7" y="564.9" width="16.7" height="16.7" fill="#00ffd7"/>
<rect x="389" y="564.9" width="16.7" height="16.7" fill="#00ffdf"/>
<rect x="405.3" y="564.9" width="16.7" height="16.7" fill="#00ffed"/>
<rect x="421.6" y="564.9" width="16.7" height="16.7" fill="#00fcff"/>
<rect x="437.9" y="564.9" width="16.7" height="16.7" fill="#00daff"/>
<rect x="454.2" y="564.9" width="16.7" height="16.7" fill="#00b9ff"/>
<rect x="470.5" y="564.9" width="16.7" height="16.7" fill="#00a2ff"/>
<rect x="486.8" y="564.9" width="16.7" height="16.7" fill="#008fff"/>
<rect x="503.1" y="564.9" width="16.7" height="16.7" fill="#007dff"/>
<rect x="519.4" y="564.9" width="16.7" height="16.7" fill="#006dff"/>
<rect x="535.7" y="564.9" width="16.7" height="16.7" fill="#005cff"/>
<rect x="552" y="564.9" width="16.7" height="16.7" fill="#0049ff"/>
<rect x="568.3" y="564.9" width="16.7" height="16.7" fill="#0035ff"/>
<rect x="584.6" y="564.9" width="16.7" height="16.7" fill="#001df7"/>
<rect x="600.9" y="564.9" width="16.7" height="16.7" fill="#0005d1"/>
<rect x="617.2" y="564.9" width="16.7" height="16.7" fill="#0500a4"/>
<rect x="633.5" y="564.9" width="16.7" height="16.7" fill="#0e0088"/>
<rect x="649.8" y="564.9" width="16.7" height="16.7" fill="#120078"/>
<rect x="666.1" y="564.9" width="16.7" height="16.7" fill="#140070"/>
<rect x="682.4" y="564.9" width="16.7" height="16.7" fill="#15006b"/>
<rect x="698.7" y="564.9" width="16.7" height="16.7" fill="#130071"/>
<rect x="715" y="564.9" width="16.7" height="16.7" fill="#0600a2"/>
<rect x="731.3" y="564.9" width="16.7" height="16.7" fill="#0005d1"/>
<rect x="747.6" y="564.9" width="16.7" height="16.7" fill="#001af6"/>
<rect x="763.9" y="564.9" width="16.7" height="16.7" fill="#0037ff"/>
<rect x="780.2" y="564.9" width="16.7" height="16.7" fill="#0048ff"/>
<rect x="796.5" y="564.9" width="16.7" height="16.7" fill="#0042ff"/>
<rect x="812.8" y="564.9" width="16.7" height="16.7" fill="#002dfd"/>
<rect x="829.1" y="564.9" width="16.7" height="16.7" fill="#000bf1"/>
<rect x="845.4" y="564.9" width="16.7" height="16.7" fill="#0100b0"/>
<rect x="861.7" y="564.9" width="16.7" height="16.7" fill="#18005a"/>
<rect x="878" y="564.9" width="16.7" height="16.7" fill="#0e001d"/>
<rect x="1024.7" y="564.9" width="16.7" height="16.7" fill="#120026"/>
<rect x="1041" y="564.9" width="24" height="16.7" fill="#16003b"/>
<rect x="169.7" y="581.2" width="7.8" height="16.7" fill="#005fff"/>
<rect x="177.1" y="581.2" width="16.7" height="16.7" fill="#0064ff"/>
<rect x="193.4" y="581.2" width="16.7" height="16.7" fill="#006dff"/>
<rect x="209.7" y="581.2" width="16.7" height="16.7" fill="#0077ff"/>
<rect x="226" y="581.2" width="16.7" height="16.7" fill="#0082ff"/>
<rect x="242.3" y="581.2" width="16.7" height="16.7" fill="#008eff"/>
<rect x="258.6" y="581.2" width="16.7" height="16.7" fill="#009cff"/>
<rect x="274.9" y="581.2" width="16.7" height="16.7" fill="#00acff"/>
<rect x="291.2" y="581.2" width="16.7" height="16.7" fill="#00bcff"/>
<rect x="307.5" y="581.2" width="16.7" height="16.7" fill="#00ccff"/>
<rect x="323.8" y="581.2" width="16.7" height="16.7" fill="#00daff"/>
<rect x="340.1" y="581.2" width="16.7" height="16.7" fill="#00e3ff"/>
<rect x="356.4" y="581.2" width="16.7" height="16.7" fill="#00eaff"/>
<rect x="372.7" y="581.2" width="16.7" height="16.7" fill="#00ecff"/>
<rect x="389" y="581.2" width="16.7" height="16.7" fill="#00e1ff"/>
<rect x="405.3" y="581.2" width="16.7" height="16.7" fill="#00ceff"/>
<rect x="421.6" y="581.2" width="16.7" height="16.7" fill="#00bbff"/>
<rect x="437.9" y="581.2" width="16.7" height="16.7" fill="#00a5ff"/>
<rect x="454.2" y="581.2" width="16.7" height="16.7" fill="#008cff"/>
<rect x="470.5" y="581.2" width="16.7" height="16.7" fill="#006aff"/>
<rect x="486.8" y="581.2" width="16.7" height="16.7" fill="#0044ff"/>
<rect x="503.1" y="581.2" width="16.7" height="16.7" fill="#0027fb"/>
<rect x="519.4" y="581.2" width="16.7" height="16.7" fill="#0014f4"/>
<rect x="535.7" y="581.2" width="16.7" height="16.7" fill="#0008e4"/>
<rect x="552" y="581.2" width="16.7" height="16.7" fill="#0003c7"/>
<rect x="568.3" y="581.2" width="16.7" height="16.7" fill="#0200ac"/>
<rect x="584.6" y="581.2" width="16.7" height="16.7" fill="#0a0095"/>
<rect x="600.9" y="581.2" width="16.7" height="16.7" fill="#12007a"/>
<rect x="617.2" y="581.2" width="16.7" height="16.7" fill="#170061"/>
<rect x="633.5" y="581.2" width="16.7" height="16.7" fill="#1a0052"/>
<rect x="649.8" y="581.2" width="16.7" height="16.7" fill="#190048"/>
<rect x="666.1" y="581.2" width="16.7" height="16.7" fill="#180043"/>
<rect x="682.4" y="581.2" width="16.7" height="16.7" fill="#19004c"/>
<rect x="698.7" y="581.2" width="16.7" height="16.7" fill="#150067"/>
<rect x="715" y="581.2" width="16.7" height="16.7" fill="#0d008b"/>
<rect x="731.3" y="581.2" width="16.7" height="16.7" fill="#0000b6"/>
<rect x="747.6" y="581.2" width="16.7" height="16.7" fill="#0009ec"/>
<rect x="763.9" y="581.2" width="16.7" height="16.7" fill="#0025fa"/>
<rect x="780.2" y="581.2" width="16.7" height="16.7" fill="#0037ff"/>
<rect x="796.5" y="581.2" width="16.7" height="16.7" fill="#002ffe"/>
<rect x="812.8" y="581.2" width="16.7" height="16.7" fill="#001af6"/>
<rect x="829.1" y="581.2" width="16.7" height="16.7" fill="#0006d9"/>
<rect x="845.4" y="581.2" width="16.7" height="16.7" fill="#0600a3"/>
<rect x="861.7" y="581.2" width="16.7" height="16.7" fill="#19004d"/>
<rect x="878" y="581.2" width="16.7" height="16.7" fill="#0e001d"/>
<rect x="1024.7" y="581.2" width="16.7" height="16.7" fill="#030005"/>
<rect x="1041" y="581.2" width="16.7" height="16.7" fill="#0e001e"/>
<rect x="1057.3" y="581.2" width="7.7" height="16.7" fill="#120026"/>
<rect x="169.7" y="597.5" width="7.8" height="16.7" fill="#0056ff"/>
<rect x="177.1" y="597.5" width="16.7" height="16.7" fill="#0057ff"/>
<rect x="193.4" y="597.5" width="16.7" height="16.7" fill="#005aff"/>
<rect x="209.7" y="597.5" width="16.7" height="16.7" fill="#005fff"/>
<rect x="226" y="597.5" width="16.7" height="16.7" fill="#0064ff"/>
<rect x="242.3" y="597.5" width="16.7" height="16.7" fill="#006aff"/>
<rect x="258.6" y="597.5" width="16.7" height="16.7" fill="#0074ff"/>
<rect x="274.9" y="597.5" width="16.7" height="16.7" fill="#007fff"/>
<rect x="291.2" y="597.5" width="16.7" height="16.7" fill="#008bff"/>
<rect x="307.5" y="597.5" width="16.7" height="16.7" fill="#0096ff"/>
<rect x="323.8" y="597.5" width="16.7" height="16.7" fill="#00a0ff"/>
<rect x="340.1" y="597.5" width="16.7" height="16.7" fill="#00aaff"/>
<rect x="356.4" y="597.5" width="16.7" height="16.7" fill="#00b3ff"/>
<rect x="372.7" y="597.5" width="16.7" height="16.7" fill="#00b5ff"/>
<rect x="389" y="597.5" width="16.7" height="16.7" fill="#00afff"/>
<rect x="405.3" y="597.5" width="16.7" height="16.7" fill="#00a5ff"/>
<rect x="421.6" y="597.5" width="16.7" height="16.7" fill="#0098ff"/>
<rect x="437.9" y="597.5" width="16.7" height="16.7" fill="#0082ff"/>
<rect x="454.2" y="597.5" width="16.7" height="16.7" fill="#006aff"/>
<rect x="470.5" y="597.5" width="16.7" height="16.7" fill="#004cff"/>
<rect x="486.8" y="597.5" width="16.7" height="16.7" fill="#0025fa"/>
<rect x="503.1" y="597.5" width="16.7" height="16.7" fill="#0000b6"/>
<rect x="519.4" y="597.5" width="16.7" height="16.7" fill="#0600a1"/>
<rect x="535.7" y="597.5" width="16.7" height="16.7" fill="#08009a"/>
<rect x="552" y="597.5" width="16.7" height="16.7" fill="#0c0090"/>
<rect x="568.3" y="597.5" width="16.7" height="16.7" fill="#0f0085"/>
<rect x="584.6" y="597.5" width="16.7" height="16.7" fill="#120079"/>
<rect x="600.9" y="597.5" width="16.7" height="16.7" fill="#160066"/>
<rect x="617.2" y="597.5" width="16.7" height="16.7" fill="#190053"/>
<rect x="633.5" y="597.5" width="16.7" height="16.7" fill="#180048"/>
<rect x="649.8" y="597.5" width="16.7" height="16.7" fill="#170041"/>
<rect x="666.1" y="597.5" width="16.7" height="16.7" fill="#16003d"/>
<rect x="682.4" y="597.5" width="16.7" height="16.7" fill="#17003f"/>
<rect x="698.7" y="597.5" width="16.7" height="16.7" fill="#190049"/>
<rect x="715" y="597.5" width="16.7" height="16.7" fill="#150068"/>
<rect x="731.3" y="597.5" width="16.7" height="16.7" fill="#0c008e"/>
<rect x="747.6" y="597.5" width="16.7" height="16.7" fill="#0400a9"/>
<rect x="763.9" y="597.5" width="16.7" height="16.7" fill="#0003c9"/>
<rect x="780.2" y="597.5" width="33" height="16.7" fill="#0009e9"/>
<rect x="812.8" y="597.5" width="16.7" height="16.7" fill="#0005d3"/>
<rect x="829.1" y="597.5" width="16.7" height="16.7" fill="#0300a9"/>
<rect x="845.4" y="597.5" width="16.7" height="16.7" fill="#100081"/>
<rect x="861.7" y="597.5" width="16.7" height="16.7" fill="#17003e"/>
<rect x="878" y="597.5" width="16.7" height="16.7" fill="#090014"/>
<rect x="1057.3" y="597.5" width="7.7" height="16.7" fill="#090013"/>
<rect x="169.7" y="613.8" width="7.8" height="16.7" fill="#003bff"/>
<rect x="177.1" y="613.8" width="16.7" height="16.7" fill="#003cff"/>
<rect x="193.4" y="613.8" width="16.7" height="16.7" fill="#003dff"/>
<rect x="209.7" y="613.8" width="16.7" height="16.7" fill="#0040ff"/>
<rect x="226" y="613.8" width="16.7" height="16.7" fill="#0044ff"/>
<rect x="242.3" y="613.8" width="16.7" height="16.7" fill="#0049ff"/>
<rect x="258.6" y="613.8" width="16.7" height="16.7" fill="#004eff"/>
<rect x="274.9" y="613.8" width="16.7" height="16.7" fill="#0054ff"/>
<rect x="291.2" y="613.8" width="16.7" height="16.7" fill="#005bff"/>
<rect x="307.5" y="613.8" width="16.7" height="16.7" fill="#0068ff"/>
<rect x="323.8" y="613.8" width="16.7" height="16.7" fill="#0075ff"/>
<rect x="340.1" y="613.8" width="16.7" height="16.7" fill="#0080ff"/>
<rect x="356.4" y="613.8" width="16.7" height="16.7" fill="#0089ff"/>
<rect x="372.7" y="613.8" width="16.7" height="16.7" fill="#008cff"/>
<rect x="389" y="613.8" width="16.7" height="16.7" fill="#008aff"/>
<rect x="405.3" y="613.8" width="16.7" height="16.7" fill="#0085ff"/>
<rect x="421.6" y="613.8" width="16.7" height="16.7" fill="#007bff"/>
<rect x="437.9" y="613.8" width="16.7" height="16.7" fill="#0064ff"/>
<rect x="454.2" y="613.8" width="16.7" height="16.7" fill="#0046ff"/>
<rect x="470.5" y="613.8" width="16.7" height="16.7" fill="#0021f9"/>
<rect x="486.8" y="613.8" width="16.7" height="16.7" fill="#0006db"/>
<rect x="503.1" y="613.8" width="16.7" height="16.7" fill="#07009d"/>
<rect x="519.4" y="613.8" width="16.7" height="16.7" fill="#0e0088"/>
<rect x="535.7" y="613.8" width="16.7" height="16.7" fill="#11007c"/>
<rect x="552" y="613.8" width="16.7" height="16.7" fill="#140070"/>
<rect x="568.3" y="613.8" width="16.7" height="16.7" fill="#160063"/>
<rect x="584.6" y="613.8" width="16.7" height="16.7" fill="#190056"/>
<rect x="600.9" y="613.8" width="16.7" height="16.7" fill="#190049"/>
<rect x="617.2" y="613.8" width="16.7" height="16.7" fill="#16003d"/>
<rect x="633.5" y="613.8" width="16.7" height="16.7" fill="#150037"/>
<rect x="649.8" y="613.8" width="16.7" height="16.7" fill="#150034"/>
<rect x="666.1" y="613.8" width="16.7" height="16.7" fill="#140032"/>
<rect x="682.4" y="613.8" width="16.7" height="16.7" fill="#150035"/>
<rect x="698.7" y="613.8" width="16.7" height="16.7" fill="#170042"/>
<rect x="715" y="613.8" width="16.7" height="16.7" fill="#17005f"/>
<rect x="731.3" y="613.8" width="16.7" height="16.7" fill="#11007e"/>
<rect x="747.6" y="613.8" width="16.7" height="16.7" fill="#090097"/>
<rect x="763.9" y="613.8" width="16.7" height="16.7" fill="#0300aa"/>
<rect x="780.2" y="613.8" width="33" height="16.7" fill="#0001b7"/>
<rect x="812.8" y="613.8" width="16.7" height="16.7" fill="#0200ae"/>
<rect x="829.1" y="613.8" width="16.7" height="16.7" fill="#090098"/>
<rect x="845.4" y="613.8" width="16.7" height="16.7" fill="#120076"/>
<rect x="861.7" y="613.8" width="16.7" height="16.7" fill="#17003f"/>
<rect x="878" y="613.8" width="16.7" height="16.7" fill="#090014"/>
<rect x="169.7" y="630.1" width="7.8" height="16.7" fill="#001ef8"/>
<rect x="177.1" y="630.1" width="16.7" height="16.7" fill="#0020f8"/>
<rect x="193.4" y="630.1" width="16.7" height="16.7" fill="#0022f9"/>
<rect x="209.7" y="630.1" width="16.7" height="16.7" fill="#0025fa"/>
<rect x="226" y="630.1" width="16.7" height="16.7" fill="#0028fb"/>
<rect x="242.3" y="630.1" width="16.7" height="16.7" fill="#002cfd"/>
<rect x="258.6" y="630.1" width="16.7" height="16.7" fill="#0031ff"/>
<rect x="274.9" y="630.1" width="16.7" height="16.7" fill="#0036ff"/>
<rect x="291.2" y="630.1" width="16.7" height="16.7" fill="#003cff"/>
<rect x="307.5" y="630.1" width="16.7" height="16.7" fill="#0042ff"/>
<rect x="323.8" y="630.1" width="16.7" height="16.7" fill="#0048ff"/>
<rect x="340.1" y="630.1" width="16.7" height="16.7" fill="#0051ff"/>
<rect x="356.4" y="630.1" width="16.7" height="16.7" fill="#005bff"/>
<rect x="372.7" y="630.1" width="16.7" height="16.7" fill="#005eff"/>
<rect x="389" y="630.1" width="16.7" height="16.7" fill="#005cff"/>
<rect x="405.3" y="630.1" width="16.7" height="16.7" fill="#0058ff"/>
<rect x="421.6" y="630.1" width="16.7" height="16.7" fill="#004eff"/>
<rect x="437.9" y="630.1" width="16.7" height="16.7" fill="#0036ff"/>
<rect x="454.2" y="630.1" width="16.7" height="16.7" fill="#001cf7"/>
<rect x="470.5" y="630.1" width="16.7" height="16.7" fill="#0006d6"/>
<rect x="486.8" y="630.1" width="16.7" height="16.7" fill="#08009c"/>
<rect x="503.1" y="630.1" width="16.7" height="16.7" fill="#11007b"/>
<rect x="519.4" y="630.1" width="16.7" height="16.7" fill="#14006f"/>
<rect x="535.7" y="630.1" width="16.7" height="16.7" fill="#150067"/>
<rect x="552" y="630.1" width="16.7" height="16.7" fill="#18005a"/>
<rect x="568.3" y="630.1" width="16.7" height="16.7" fill="#19004d"/>
<rect x="584.6" y="630.1" width="16.7" height="16.7" fill="#180043"/>
<rect x="600.9" y="630.1" width="16.7" height="16.7" fill="#16003b"/>
<rect x="617.2" y="630.1" width="16.7" height="16.7" fill="#150035"/>
<rect x="633.5" y="630.1" width="16.7" height="16.7" fill="#140030"/>
<rect x="649.8" y="630.1" width="16.7" height="16.7" fill="#13002d"/>
<rect x="666.1" y="630.1" width="16.7" height="16.7" fill="#13002b"/>
<rect x="682.4" y="630.1" width="16.7" height="16.7" fill="#14002e"/>
<rect x="698.7" y="630.1" width="16.7" height="16.7" fill="#16003b"/>
<rect x="715" y="630.1" width="16.7" height="16.7" fill="#17005f"/>
<rect x="731.3" y="630.1" width="16.7" height="16.7" fill="#11007e"/>
<rect x="747.6" y="630.1" width="16.7" height="16.7" fill="#090098"/>
<rect x="763.9" y="630.1" width="16.7" height="16.7" fill="#0100b2"/>
<rect x="780.2" y="630.1" width="16.7" height="16.7" fill="#0004cb"/>
<rect x="796.5" y="630.1" width="16.7" height="16.7" fill="#0003c4"/>
<rect x="812.8" y="630.1" width="16.7" height="16.7" fill="#0100b1"/>
<rect x="829.1" y="630.1" width="16.7" height="16.7" fill="#090097"/>
<rect x="845.4" y="630.1" width="16.7" height="16.7" fill="#120076"/>
<rect x="861.7" y="630.1" width="16.7" height="16.7" fill="#17003f"/>
<rect x="878" y="630.1" width="16.7" height="16.7" fill="#090014"/>
<rect x="169.7" y="646.4" width="7.8" height="16.7" fill="#001ef7"/>
<rect x="177.1" y="646.4" width="16.7" height="16.7" fill="#0020f8"/>
<rect x="193.4" y="646.4" width="16.7" height="16.7" fill="#0023f9"/>
<rect x="209.7" y="646.4" width="16.7" height="16.7" fill="#0025fa"/>
<rect x="226" y="646.4" width="16.7" height="16.7" fill="#0028fb"/>
<rect x="242.3" y="646.4" width="16.7" height="16.7" fill="#002bfc"/>
<rect x="258.6" y="646.4" width="16.7" height="16.7" fill="#002dfd"/>
<rect x="274.9" y="646.4" width="16.7" height="16.7" fill="#0030fe"/>
<rect x="291.2" y="646.4" width="16.7" height="16.7" fill="#0033ff"/>
<rect x="307.5" y="646.4" width="16.7" height="16.7" fill="#0037ff"/>
<rect x="323.8" y="646.4" width="16.7" height="16.7" fill="#003bff"/>
<rect x="340.1" y="646.4" width="16.7" height="16.7" fill="#0040ff"/>
<rect x="356.4" y="646.4" width="16.7" height="16.7" fill="#0047ff"/>
<rect x="372.7" y="646.4" width="16.7" height="16.7" fill="#0048ff"/>
<rect x="389" y="646.4" width="16.7" height="16.7" fill="#0046ff"/>
<rect x="405.3" y="646.4" width="16.7" height="16.7" fill="#0042ff"/>
<rect x="421.6" y="646.4" width="16.7" height="16.7" fill="#0039ff"/>
<rect x="437.9" y="646.4" width="16.7" height="16.7" fill="#0028fb"/>
<rect x="454.2" y="646.4" width="16.7" height="16.7" fill="#0010f2"/>
<rect x="470.5" y="646.4" width="16.7" height="16.7" fill="#0004cc"/>
<rect x="486.8" y="646.4" width="16.7" height="16.7" fill="#0200ae"/>
<rect x="503.1" y="646.4" width="16.7" height="16.7" fill="#0d008a"/>
<rect x="519.4" y="646.4" width="16.7" height="16.7" fill="#14006c"/>
<rect x="535.7" y="646.4" width="16.7" height="16.7" fill="#160062"/>
<rect x="552" y="646.4" width="16.7" height="16.7" fill="#18005b"/>
<rect x="568.3" y="646.4" width="16.7" height="16.7" fill="#190053"/>
<rect x="584.6" y="646.4" width="16.7" height="16.7" fill="#190049"/>
<rect x="600.9" y="646.4" width="16.7" height="16.7" fill="#17003f"/>
<rect x="617.2" y="646.4" width="16.7" height="16.7" fill="#150036"/>
<rect x="633.5" y="646.4" width="16.7" height="16.7" fill="#14002e"/>
<rect x="649.8" y="646.4" width="49.3" height="16.7" fill="#13002a"/>
<rect x="698.7" y="646.4" width="16.7" height="16.7" fill="#16003c"/>
<rect x="715" y="646.4" width="16.7" height="16.7" fill="#17005d"/>
<rect x="731.3" y="646.4" width="16.7" height="16.7" fill="#0f0085"/>
<rect x="747.6" y="646.4" width="16.7" height="16.7" fill="#0400a7"/>
<rect x="763.9" y="646.4" width="16.7" height="16.7" fill="#0004cd"/>
<rect x="780.2" y="646.4" width="16.7" height="16.7" fill="#000df1"/>
<rect x="796.5" y="646.4" width="16.7" height="16.7" fill="#0011f3"/>
<rect x="812.8" y="646.4" width="16.7" height="16.7" fill="#0008e6"/>
<rect x="829.1" y="646.4" width="16.7" height="16.7" fill="#0100b0"/>
<rect x="845.4" y="646.4" width="16.7" height="16.7" fill="#0f0084"/>
<rect x="861.7" y="646.4" width="16.7" height="16.7" fill="#17003e"/>
<rect x="878" y="646.4" width="16.7" height="16.7" fill="#090012"/>
<rect x="169.7" y="662.7" width="7.8" height="16.7" fill="#0008e4"/>
<rect x="177.1" y="662.7" width="16.7" height="16.7" fill="#0008e6"/>
<rect x="193.4" y="662.7" width="16.7" height="16.7" fill="#0009e8"/>
<rect x="209.7" y="662.7" width="16.7" height="16.7" fill="#0009eb"/>
<rect x="226" y="662.7" width="16.7" height="16.7" fill="#000aee"/>
<rect x="242.3" y="662.7" width="16.7" height="16.7" fill="#000bf0"/>
<rect x="258.6" y="662.7" width="16.7" height="16.7" fill="#000ef1"/>
<rect x="274.9" y="662.7" width="16.7" height="16.7" fill="#0011f3"/>
<rect x="291.2" y="662.7" width="16.7" height="16.7" fill="#0015f4"/>
<rect x="307.5" y="662.7" width="16.7" height="16.7" fill="#0019f6"/>
<rect x="323.8" y="662.7" width="16.7" height="16.7" fill="#001ef7"/>
<rect x="340.1" y="662.7" width="16.7" height="16.7" fill="#0026fb"/>
<rect x="356.4" y="662.7" width="16.7" height="16.7" fill="#002ffe"/>
<rect x="372.7" y="662.7" width="16.7" height="16.7" fill="#0032ff"/>
<rect x="389" y="662.7" width="16.7" height="16.7" fill="#0030fe"/>
<rect x="405.3" y="662.7" width="16.7" height="16.7" fill="#002cfd"/>
<rect x="421.6" y="662.7" width="16.7" height="16.7" fill="#0021f9"/>
<rect x="437.9" y="662.7" width="16.7" height="16.7" fill="#000aef"/>
<rect x="454.2" y="662.7" width="16.7" height="16.7" fill="#0005d0"/>
<rect x="470.5" y="662.7" width="16.7" height="16.7" fill="#0200af"/>
<rect x="486.8" y="662.7" width="16.7" height="16.7" fill="#0c0090"/>
<rect x="503.1" y="662.7" width="16.7" height="16.7" fill="#12007a"/>
<rect x="519.4" y="662.7" width="16.7" height="16.7" fill="#150069"/>
<rect x="535.7" y="662.7" width="16.7" height="16.7" fill="#17005e"/>
<rect x="552" y="662.7" width="16.7" height="16.7" fill="#190056"/>
<rect x="568.3" y="662.7" width="16.7" height="16.7" fill="#19004d"/>
<rect x="584.6" y="662.7" width="16.7" height="16.7" fill="#180045"/>
<rect x="600.9" y="662.7" width="16.7" height="16.7" fill="#16003d"/>
<rect x="617.2" y="662.7" width="16.7" height="16.7" fill="#150037"/>
<rect x="633.5" y="662.7" width="16.7" height="16.7" fill="#140031"/>
<rect x="649.8" y="662.7" width="49.3" height="16.7" fill="#14002e"/>
<rect x="698.7" y="662.7" width="16.7" height="16.7" fill="#16003d"/>
<rect x="715" y="662.7" width="16.7" height="16.7" fill="#170061"/>
<rect x="731.3" y="662.7" width="16.7" height="16.7" fill="#0a0095"/>
<rect x="747.6" y="662.7" width="16.7" height="16.7" fill="#0003c3"/>
<rect x="763.9" y="662.7" width="16.7" height="16.7" fill="#000ff2"/>
<rect x="780.2" y="662.7" width="16.7" height="16.7" fill="#002afc"/>
<rect x="796.5" y="662.7" width="16.7" height="16.7" fill="#002cfd"/>
<rect x="812.8" y="662.7" width="16.7" height="16.7" fill="#001bf7"/>
<rect x="829.1" y="662.7" width="16.7" height="16.7" fill="#0003c9"/>
<rect x="845.4" y="662.7" width="16.7" height="16.7" fill="#0b0091"/>
<rect x="861.7" y="662.7" width="16.7" height="16.7" fill="#17003e"/>
<rect x="878" y="662.7" width="16.7" height="16.7" fill="#090012"/>
<rect x="169.7" y="679" width="105.6" height="16.7" fill="#0002c0"/>
<rect x="274.9" y="679" width="16.7" height="16.7" fill="#0002bf"/>
<rect x="291.2" y="679" width="16.7" height="16.7" fill="#0002c1"/>
<rect x="307.5" y="679" width="16.7" height="16.7" fill="#0003c8"/>
<rect x="323.8" y="679" width="16.7" height="16.7" fill="#0005d1"/>
<rect x="340.1" y="679" width="16.7" height="16.7" fill="#0007dd"/>
<rect x="356.4" y="679" width="16.7" height="16.7" fill="#0009eb"/>
<rect x="372.7" y="679" width="49.3" height="16.7" fill="#000aef"/>
<rect x="421.6" y="679" width="16.7" height="16.7" fill="#0008e3"/>
<rect x="437.9" y="679" width="16.7" height="16.7" fill="#0002be"/>
<rect x="454.2" y="679" width="16.7" height="16.7" fill="#0300aa"/>
<rect x="470.5" y="679" width="16.7" height="16.7" fill="#090096"/>
<rect x="486.8" y="679" width="16.7" height="16.7" fill="#12007a"/>
<rect x="503.1" y="679" width="16.7" height="16.7" fill="#160063"/>
<rect x="519.4" y="679" width="16.7" height="16.7" fill="#1a0052"/>
<rect x="535.7" y="679" width="16.7" height="16.7" fill="#180046"/>
<rect x="552" y="679" width="16.7" height="16.7" fill="#17003e"/>
<rect x="568.3" y="679" width="16.7" height="16.7" fill="#150037"/>
<rect x="584.6" y="679" width="16.7" height="16.7" fill="#140032"/>
<rect x="600.9" y="679" width="16.7" height="16.7" fill="#14002f"/>
<rect x="617.2" y="679" width="16.7" height="16.7" fill="#13002c"/>
<rect x="633.5" y="679" width="16.7" height="16.7" fill="#130029"/>
<rect x="649.8" y="679" width="16.7" height="16.7" fill="#120027"/>
<rect x="666.1" y="679" width="16.7" height="16.7" fill="#120026"/>
<rect x="682.4" y="679" width="16.7" height="16.7" fill="#13002a"/>
<rect x="698.7" y="679" width="16.7" height="16.7" fill="#16003b"/>
<rect x="715" y="679" width="16.7" height="16.7" fill="#170061"/>
<rect x="731.3" y="679" width="16.7" height="16.7" fill="#090099"/>
<rect x="747.6" y="679" width="16.7" height="16.7" fill="#0008e4"/>
<rect x="763.9" y="679" width="16.7" height="16.7" fill="#0025fa"/>
<rect x="780.2" y="679" width="16.7" height="16.7" fill="#003cff"/>
<rect x="796.5" y="679" width="16.7" height="16.7" fill="#003eff"/>
<rect x="812.8" y="679" width="16.7" height="16.7" fill="#0030fe"/>
<rect x="829.1" y="679" width="16.7" height="16.7" fill="#0003c8"/>
<rect x="845.4" y="679" width="16.7" height="16.7" fill="#0b0091"/>
<rect x="861.7" y="679" width="16.7" height="16.7" fill="#17003e"/>
<rect x="878" y="679" width="16.7" height="16.7" fill="#090012"/>
<rect x="1057.3" y="679" width="7.7" height="16.7" fill="#090013"/>
<rect x="169.7" y="695.3" width="138.2" height="16.7" fill="#0b0090"/>
<rect x="307.5" y="695.3" width="16.7" height="16.7" fill="#0b0092"/>
<rect x="323.8" y="695.3" width="16.7" height="16.7" fill="#0a0094"/>
<rect x="340.1" y="695.3" width="16.7" height="16.7" fill="#090096"/>
<rect x="356.4" y="695.3" width="33" height="16.7" fill="#090098"/>
<rect x="389" y="695.3" width="16.7" height="16.7" fill="#0a0096"/>
<rect x="405.3" y="695.3" width="16.7" height="16.7" fill="#0b0092"/>
<rect x="421.6" y="695.3" width="16.7" height="16.7" fill="#0f0086"/>
<rect x="437.9" y="695.3" width="16.7" height="16.7" fill="#130073"/>
<rect x="454.2" y="695.3" width="16.7" height="16.7" fill="#14006e"/>
<rect x="470.5" y="695.3" width="16.7" height="16.7" fill="#150067"/>
<rect x="486.8" y="695.3" width="16.7" height="16.7" fill="#190053"/>
<rect x="503.1" y="695.3" width="16.7" height="16.7" fill="#180044"/>
<rect x="519.4" y="695.3" width="16.7" height="16.7" fill="#16003b"/>
<rect x="535.7" y="695.3" width="16.7" height="16.7" fill="#150034"/>
<rect x="552" y="695.3" width="16.7" height="16.7" fill="#140031"/>
<rect x="568.3" y="695.3" width="16.7" height="16.7" fill="#140030"/>
<rect x="584.6" y="695.3" width="16.7" height="16.7" fill="#14002e"/>
<rect x="600.9" y="695.3" width="16.7" height="16.7" fill="#13002c"/>
<rect x="617.2" y="695.3" width="16.7" height="16.7" fill="#130029"/>
<rect x="633.5" y="695.3" width="16.7" height="16.7" fill="#120027"/>
<rect x="649.8" y="695.3" width="16.7" height="16.7" fill="#120026"/>
<rect x="666.1" y="695.3" width="16.7" height="16.7" fill="#120028"/>
<rect x="682.4" y="695.3" width="16.7" height="16.7" fill="#13002e"/>
<rect x="698.7" y="695.3" width="16.7" height="16.7" fill="#170042"/>
<rect x="715" y="695.3" width="16.7" height="16.7" fill="#15006b"/>
<rect x="731.3" y="695.3" width="16.7" height="16.7" fill="#0500a6"/>
<rect x="747.6" y="695.3" width="16.7" height="16.7" fill="#0009e8"/>
<rect x="763.9" y="695.3" width="16.7" height="16.7" fill="#0033ff"/>
<rect x="780.2" y="695.3" width="16.7" height="16.7" fill="#004fff"/>
<rect x="796.5" y="695.3" width="16.7" height="16.7" fill="#0050ff"/>
<rect x="812.8" y="695.3" width="16.7" height="16.7" fill="#0038ff"/>
<rect x="829.1" y="695.3" width="16.7" height="16.7" fill="#0008e1"/>
<rect x="845.4" y="695.3" width="16.7" height="16.7" fill="#090099"/>
<rect x="861.7" y="695.3" width="16.7" height="16.7" fill="#17003e"/>
<rect x="878" y="695.3" width="16.7" height="16.7" fill="#090012"/>
<rect x="1057.3" y="695.3" width="7.7" height="16.7" fill="#120026"/>
<rect x="169.7" y="711.6" width="138.2" height="16.7" fill="#150068"/>
<rect x="307.5" y="711.6" width="16.7" height="16.7" fill="#150069"/>
<rect x="323.8" y="711.6" width="16.7" height="16.7" fill="#14006c"/>
<rect x="340.1" y="711.6" width="16.7" height="16.7" fill="#14006e"/>
<rect x="356.4" y="711.6" width="16.7" height="16.7" fill="#14006f"/>
<rect x="372.7" y="711.6" width="16.7" height="16.7" fill="#140070"/>
<rect x="389" y="711.6" width="16.7" height="16.7" fill="#14006e"/>
<rect x="405.3" y="711.6" width="16.7" height="16.7" fill="#15006a"/>
<rect x="421.6" y="711.6" width="16.7" height="16.7" fill="#170061"/>
<rect x="437.9" y="711.6" width="16.7" height="16.7" fill="#190053"/>
<rect x="454.2" y="711.6" width="16.7" height="16.7" fill="#19004d"/>
<rect x="470.5" y="711.6" width="16.7" height="16.7" fill="#180046"/>
<rect x="486.8" y="711.6" width="16.7" height="16.7" fill="#150038"/>
<rect x="503.1" y="711.6" width="16.7" height="16.7" fill="#13002c"/>
<rect x="519.4" y="711.6" width="16.7" height="16.7" fill="#110024"/>
<rect x="535.7" y="711.6" width="33" height="16.7" fill="#0f001f"/>
<rect x="568.3" y="711.6" width="65.6" height="16.7" fill="#0e001f"/>
<rect x="633.5" y="711.6" width="33" height="16.7" fill="#0e001e"/>
<rect x="666.1" y="711.6" width="16.7" height="16.7" fill="#100023"/>
<rect x="682.4" y="711.6" width="16.7" height="16.7" fill="#13002d"/>
<rect x="698.7" y="711.6" width="16.7" height="16.7" fill="#19004a"/>
<rect x="715" y="711.6" width="16.7" height="16.7" fill="#120078"/>
<rect x="731.3" y="711.6" width="16.7" height="16.7" fill="#0200af"/>
<rect x="747.6" y="711.6" width="16.7" height="16.7" fill="#0010f2"/>
<rect x="763.9" y="711.6" width="16.7" height="16.7" fill="#003bff"/>
<rect x="780.2" y="711.6" width="16.7" height="16.7" fill="#005aff"/>
<rect x="796.5" y="711.6" width="16.7" height="16.7" fill="#005bff"/>
<rect x="812.8" y="711.6" width="16.7" height="16.7" fill="#0040ff"/>
<rect x="829.1" y="711.6" width="16.7" height="16.7" fill="#000bf0"/>
<rect x="845.4" y="711.6" width="16.7" height="16.7" fill="#0600a1"/>
<rect x="861.7" y="711.6" width="16.7" height="16.7" fill="#17003e"/>
<rect x="878" y="711.6" width="16.7" height="16.7" fill="#090012"/>
<rect x="1041" y="711.6" width="16.7" height="16.7" fill="#13002b"/>
<rect x="1057.3" y="711.6" width="7.7" height="16.7" fill="#16003b"/>
<rect x="169.7" y="727.9" width="7.8" height="16.7" fill="#170041"/>
<rect x="177.1" y="727.9" width="16.7" height="16.7" fill="#17003f"/>
<rect x="193.4" y="727.9" width="16.7" height="16.7" fill="#16003d"/>
<rect x="209.7" y="727.9" width="16.7" height="16.7" fill="#16003c"/>
<rect x="226" y="727.9" width="16.7" height="16.7" fill="#16003b"/>
<rect x="242.3" y="727.9" width="65.6" height="16.7" fill="#16003a"/>
<rect x="307.5" y="727.9" width="16.7" height="16.7" fill="#16003b"/>
<rect x="323.8" y="727.9" width="16.7" height="16.7" fill="#16003d"/>
<rect x="340.1" y="727.9" width="16.7" height="16.7" fill="#17003f"/>
<rect x="356.4" y="727.9" width="16.7" height="16.7" fill="#170040"/>
<rect x="372.7" y="727.9" width="16.7" height="16.7" fill="#170041"/>
<rect x="389" y="727.9" width="16.7" height="16.7" fill="#170040"/>
<rect x="405.3" y="727.9" width="16.7" height="16.7" fill="#17003e"/>
<rect x="421.6" y="727.9" width="16.7" height="16.7" fill="#16003c"/>
<rect x="437.9" y="727.9" width="16.7" height="16.7" fill="#160039"/>
<rect x="454.2" y="727.9" width="16.7" height="16.7" fill="#140032"/>
<rect x="470.5" y="727.9" width="16.7" height="16.7" fill="#130029"/>
<rect x="486.8" y="727.9" width="16.7" height="16.7" fill="#0f0021"/>
<rect x="503.1" y="727.9" width="16.7" height="16.7" fill="#0b0017"/>
<rect x="519.4" y="727.9" width="81.9" height="16.7" fill="#090013"/>
<rect x="600.9" y="727.9" width="16.7" height="16.7" fill="#090014"/>
<rect x="617.2" y="727.9" width="16.7" height="16.7" fill="#0b0016"/>
<rect x="633.5" y="727.9" width="16.7" height="16.7" fill="#0c001a"/>
<rect x="649.8" y="727.9" width="16.7" height="16.7" fill="#0e001f"/>
<rect x="666.1" y="727.9" width="16.7" height="16.7" fill="#120025"/>
<rect x="682.4" y="727.9" width="16.7" height="16.7" fill="#140031"/>
<rect x="698.7" y="727.9" width="16.7" height="16.7" fill="#19004c"/>
<rect x="715" y="727.9" width="16.7" height="16.7" fill="#120078"/>
<rect x="731.3" y="727.9" width="16.7" height="16.7" fill="#0200af"/>
<rect x="747.6" y="727.9" width="16.7" height="16.7" fill="#0010f2"/>
<rect x="763.9" y="727.9" width="16.7" height="16.7" fill="#003bff"/>
<rect x="780.2" y="727.9" width="16.7" height="16.7" fill="#005aff"/>
<rect x="796.5" y="727.9" width="16.7" height="16.7" fill="#005bff"/>
<rect x="812.8" y="727.9" width="16.7" height="16.7" fill="#0040ff"/>
<rect x="829.1" y="727.9" width="16.7" height="16.7" fill="#000bf0"/>
<rect x="845.4" y="727.9" width="16.7" height="16.7" fill="#0600a1"/>
<rect x="861.7" y="727.9" width="16.7" height="16.7" fill="#17003e"/>
<rect x="878" y="727.9" width="16.7" height="16.7" fill="#090012"/>
<rect x="1024.7" y="727.9" width="16.7" height="16.7" fill="#0d001b"/>
<rect x="1041" y="727.9" width="16.7" height="16.7" fill="#150035"/>
<rect x="1057.3" y="727.9" width="7.7" height="16.7" fill="#16003b"/>
<rect x="169.7" y="744.2" width="7.8" height="16.7" fill="#14002f"/>
<rect x="177.1" y="744.2" width="16.7" height="16.7" fill="#14002e"/>
<rect x="193.4" y="744.2" width="33" height="16.7" fill="#13002d"/>
<rect x="226" y="744.2" width="81.9" height="16.7" fill="#13002c"/>
<rect x="307.5" y="744.2" width="16.7" height="16.7" fill="#13002d"/>
<rect x="323.8" y="744.2" width="16.7" height="16.7" fill="#13002e"/>
<rect x="340.1" y="744.2" width="49.3" height="16.7" fill="#14002f"/>
<rect x="389" y="744.2" width="16.7" height="16.7" fill="#14002e"/>
<rect x="405.3" y="744.2" width="16.7" height="16.7" fill="#13002d"/>
<rect x="421.6" y="744.2" width="16.7" height="16.7" fill="#13002a"/>
<rect x="437.9" y="744.2" width="16.7" height="16.7" fill="#120027"/>
<rect x="454.2" y="744.2" width="16.7" height="16.7" fill="#100023"/>
<rect x="470.5" y="744.2" width="16.7" height="16.7" fill="#0d001c"/>
<rect x="486.8" y="744.2" width="16.7" height="16.7" fill="#0a0015"/>
<rect x="503.1" y="744.2" width="16.7" height="16.7" fill="#06000c"/>
<rect x="519.4" y="744.2" width="81.9" height="16.7" fill="#030007"/>
<rect x="600.9" y="744.2" width="16.7" height="16.7" fill="#040008"/>
<rect x="617.2" y="744.2" width="16.7" height="16.7" fill="#05000b"/>
<rect x="633.5" y="744.2" width="16.7" height="16.7" fill="#07000e"/>
<rect x="649.8" y="744.2" width="16.7" height="16.7" fill="#090013"/>
<rect x="666.1" y="744.2" width="16.7" height="16.7" fill="#0d001c"/>
<rect x="682.4" y="744.2" width="16.7" height="16.7" fill="#13002d"/>
<rect x="698.7" y="744.2" width="16.7" height="16.7" fill="#19004a"/>
<rect x="715" y="744.2" width="16.7" height="16.7" fill="#11007c"/>
<rect x="731.3" y="744.2" width="16.7" height="16.7" fill="#0001b8"/>
<rect x="747.6" y="744.2" width="16.7" height="16.7" fill="#0010f2"/>
<rect x="763.9" y="744.2" width="16.7" height="16.7" fill="#003bff"/>
<rect x="780.2" y="744.2" width="16.7" height="16.7" fill="#005aff"/>
<rect x="796.5" y="744.2" width="16.7" height="16.7" fill="#005bff"/>
<rect x="812.8" y="744.2" width="16.7" height="16.7" fill="#0040ff"/>
<rect x="829.1" y="744.2" width="16.7" height="16.7" fill="#000af0"/>
<rect x="845.4" y="744.2" width="16.7" height="16.7" fill="#090098"/>
<rect x="861.7" y="744.2" width="16.7" height="16.7" fill="#17003e"/>
<rect x="878" y="744.2" width="16.7" height="16.7" fill="#0a0016"/>
<rect x="1024.7" y="744.2" width="16.7" height="16.7" fill="#120026"/>
<rect x="1041" y="744.2" width="24" height="16.7" fill="#16003b"/>
<rect x="169.7" y="760.5" width="7.8" height="16.7" fill="#090013"/>
<rect x="177.1" y="760.5" width="16.7" height="16.7" fill="#0b0017"/>
<rect x="193.4" y="760.5" width="16.7" height="16.7" fill="#0c001a"/>
<rect x="209.7" y="760.5" width="33" height="16.7" fill="#0d001c"/>
<rect x="242.3" y="760.5" width="33" height="16.7" fill="#0e001d"/>
<rect x="274.9" y="760.5" width="16.7" height="16.7" fill="#0e001e"/>
<rect x="291.2" y="760.5" width="16.7" height="16.7" fill="#0f001f"/>
<rect x="307.5" y="760.5" width="16.7" height="16.7" fill="#100021"/>
<rect x="323.8" y="760.5" width="16.7" height="16.7" fill="#100023"/>
<rect x="340.1" y="760.5" width="16.7" height="16.7" fill="#110024"/>
<rect x="356.4" y="760.5" width="33" height="16.7" fill="#120026"/>
<rect x="389" y="760.5" width="16.7" height="16.7" fill="#110024"/>
<rect x="405.3" y="760.5" width="16.7" height="16.7" fill="#100021"/>
<rect x="421.6" y="760.5" width="16.7" height="16.7" fill="#0e001d"/>
<rect x="437.9" y="760.5" width="16.7" height="16.7" fill="#0c0019"/>
<rect x="454.2" y="760.5" width="16.7" height="16.7" fill="#090012"/>
<rect x="470.5" y="760.5" width="16.7" height="16.7" fill="#05000a"/>
<rect x="486.8" y="760.5" width="16.7" height="16.7" fill="#010002"/>
<rect x="666.1" y="760.5" width="16.7" height="16.7" fill="#06000e"/>
<rect x="682.4" y="760.5" width="16.7" height="16.7" fill="#13002b"/>
<rect x="698.7" y="760.5" width="16.7" height="16.7" fill="#19004c"/>
<rect x="715" y="760.5" width="16.7" height="16.7" fill="#11007c"/>
<rect x="731.3" y="760.5" width="16.7" height="16.7" fill="#0001ba"/>
<rect x="747.6" y="760.5" width="16.7" height="16.7" fill="#0017f5"/>
<rect x="763.9" y="760.5" width="16.7" height="16.7" fill="#0043ff"/>
<rect x="780.2" y="760.5" width="16.7" height="16.7" fill="#0062ff"/>
<rect x="796.5" y="760.5" width="16.7" height="16.7" fill="#0063ff"/>
<rect x="812.8" y="760.5" width="16.7" height="16.7" fill="#0047ff"/>
<rect x="829.1" y="760.5" width="16.7" height="16.7" fill="#000af0"/>
<rect x="845.4" y="760.5" width="16.7" height="16.7" fill="#090098"/>
<rect x="861.7" y="760.5" width="16.7" height="16.7" fill="#17003e"/>
<rect x="878" y="760.5" width="16.7" height="16.7" fill="#0a0016"/>
<rect x="1024.7" y="760.5" width="16.7" height="16.7" fill="#120026"/>
<rect x="1041" y="760.5" width="24" height="16.7" fill="#16003b"/>
<rect x="226" y="776.8" width="16.7" height="16.7" fill="#010003"/>
<rect x="242.3" y="776.8" width="16.7" height="16.7" fill="#030006"/>
<rect x="258.6" y="776.8" width="16.7" height="16.7" fill="#040008"/>
<rect x="274.9" y="776.8" width="16.7" height="16.7" fill="#05000b"/>
<rect x="291.2" y="776.8" width="16.7" height="16.7" fill="#06000d"/>
<rect x="307.5" y="776.8" width="16.7" height="16.7" fill="#07000f"/>
<rect x="323.8" y="776.8" width="16.7" height="16.7" fill="#080010"/>
<rect x="340.1" y="776.8" width="16.7" height="16.7" fill="#080012"/>
<rect x="356.4" y="776.8" width="49.3" height="16.7" fill="#090013"/>
<rect x="405.3" y="776.8" width="16.7" height="16.7" fill="#080012"/>
<rect x="421.6" y="776.8" width="16.7" height="16.7" fill="#080010"/>
<rect x="437.9" y="776.8" width="16.7" height="16.7" fill="#030007"/>
<rect x="666.1" y="776.8" width="16.7" height="16.7" fill="#010003"/>
<rect x="682.4" y="776.8" width="16.7" height="16.7" fill="#090013"/>
<rect x="698.7" y="776.8" width="16.7" height="16.7" fill="#14002f"/>
<rect x="715" y="776.8" width="16.7" height="16.7" fill="#160065"/>
<rect x="731.3" y="776.8" width="16.7" height="16.7" fill="#0100b2"/>
<rect x="747.6" y="776.8" width="16.7" height="16.7" fill="#0016f5"/>
<rect x="763.9" y="776.8" width="16.7" height="16.7" fill="#004bff"/>
<rect x="780.2" y="776.8" width="16.7" height="16.7" fill="#006bff"/>
<rect x="796.5" y="776.8" width="16.7" height="16.7" fill="#006aff"/>
<rect x="812.8" y="776.8" width="16.7" height="16.7" fill="#004aff"/>
<rect x="829.1" y="776.8" width="16.7" height="16.7" fill="#000af0"/>
<rect x="845.4" y="776.8" width="16.7" height="16.7" fill="#090098"/>
<rect x="861.7" y="776.8" width="16.7" height="16.7" fill="#17003e"/>
<rect x="878" y="776.8" width="16.7" height="16.7" fill="#07000f"/>
<rect x="1024.7" y="776.8" width="16.7" height="16.7" fill="#0e001e"/>
<rect x="1041" y="776.8" width="16.7" height="16.7" fill="#150036"/>
<rect x="1057.3" y="776.8" width="7.7" height="16.7" fill="#180048"/>
<rect x="323.8" y="793.1" width="16.7" height="16.7" fill="#090012"/>
<rect x="340.1" y="793.1" width="16.7" height="16.7" fill="#0b0016"/>
<rect x="356.4" y="793.1" width="16.7" height="16.7" fill="#0c0019"/>
<rect x="372.7" y="793.1" width="16.7" height="16.7" fill="#0c001a"/>
<rect x="389" y="793.1" width="16.7" height="16.7" fill="#0c0019"/>
<rect x="405.3" y="793.1" width="16.7" height="16.7" fill="#0b0018"/>
<rect x="421.6" y="793.1" width="16.7" height="16.7" fill="#0a0015"/>
<rect x="437.9" y="793.1" width="16.7" height="16.7" fill="#030007"/>
<rect x="682.4" y="793.1" width="16.7" height="16.7" fill="#000001"/>
<rect x="698.7" y="793.1" width="16.7" height="16.7" fill="#13002c"/>
<rect x="715" y="793.1" width="16.7" height="16.7" fill="#18005c"/>
<rect x="731.3" y="793.1" width="16.7" height="16.7" fill="#08009c"/>
<rect x="747.6" y="793.1" width="16.7" height="16.7" fill="#0006d5"/>
<rect x="763.9" y="793.1" width="16.7" height="16.7" fill="#002cfd"/>
<rect x="780.2" y="793.1" width="16.7" height="16.7" fill="#0051ff"/>
<rect x="796.5" y="793.1" width="16.7" height="16.7" fill="#0052ff"/>
<rect x="812.8" y="793.1" width="16.7" height="16.7" fill="#0031ff"/>
<rect x="829.1" y="793.1" width="16.7" height="16.7" fill="#0004cd"/>
<rect x="845.4" y="793.1" width="16.7" height="16.7" fill="#0e0087"/>
<rect x="861.7" y="793.1" width="16.7" height="16.7" fill="#150036"/>
<rect x="878" y="793.1" width="16.7" height="16.7" fill="#05000a"/>
<rect x="1024.7" y="793.1" width="16.7" height="16.7" fill="#0d001b"/>
<rect x="1041" y="793.1" width="16.7" height="16.7" fill="#150034"/>
<rect x="1057.3" y="793.1" width="7.7" height="16.7" fill="#1a0050"/>
<rect x="323.8" y="809.4" width="16.7" height="16.7" fill="#090013"/>
<rect x="340.1" y="809.4" width="16.7" height="16.7" fill="#0b0016"/>
<rect x="356.4" y="809.4" width="16.7" height="16.7" fill="#0c0019"/>
<rect x="372.7" y="809.4" width="16.7" height="16.7" fill="#0c001a"/>
<rect x="389" y="809.4" width="16.7" height="16.7" fill="#0c0019"/>
<rect x="405.3" y="809.4" width="16.7" height="16.7" fill="#0b0018"/>
<rect x="421.6" y="809.4" width="16.7" height="16.7" fill="#090014"/>
<rect x="437.9" y="809.4" width="16.7" height="16.7" fill="#020005"/>
<rect x="698.7" y="809.4" width="16.7" height="16.7" fill="#0e001e"/>
<rect x="715" y="809.4" width="16.7" height="16.7" fill="#1a004f"/>
<rect x="731.3" y="809.4" width="16.7" height="16.7" fill="#0d008c"/>
<rect x="747.6" y="809.4" width="16.7" height="16.7" fill="#0002c1"/>
<rect x="763.9" y="809.4" width="16.7" height="16.7" fill="#001ff8"/>
<rect x="780.2" y="809.4" width="16.7" height="16.7" fill="#0046ff"/>
<rect x="796.5" y="809.4" width="16.7" height="16.7" fill="#0048ff"/>
<rect x="812.8" y="809.4" width="16.7" height="16.7" fill="#0029fc"/>
<rect x="829.1" y="809.4" width="16.7" height="16.7" fill="#0001b9"/>
<rect x="845.4" y="809.4" width="16.7" height="16.7" fill="#130073"/>
<rect x="861.7" y="809.4" width="16.7" height="16.7" fill="#13002a"/>
<rect x="1024.7" y="809.4" width="16.7" height="16.7" fill="#040007"/>
<rect x="1041" y="809.4" width="16.7" height="16.7" fill="#110023"/>
<rect x="1057.3" y="809.4" width="7.7" height="16.7" fill="#19004a"/>
<rect x="323.8" y="825.7" width="16.7" height="16.7" fill="#090013"/>
<rect x="340.1" y="825.7" width="16.7" height="16.7" fill="#0a0015"/>
<rect x="356.4" y="825.7" width="16.7" height="16.7" fill="#0b0017"/>
<rect x="372.7" y="825.7" width="16.7" height="16.7" fill="#0b0018"/>
<rect x="389" y="825.7" width="16.7" height="16.7" fill="#0b0017"/>
<rect x="405.3" y="825.7" width="16.7" height="16.7" fill="#0a0015"/>
<rect x="421.6" y="825.7" width="16.7" height="16.7" fill="#080012"/>
<rect x="437.9" y="825.7" width="16.7" height="16.7" fill="#000001"/>
<rect x="698.7" y="825.7" width="16.7" height="16.7" fill="#030007"/>
<rect x="715" y="825.7" width="16.7" height="16.7" fill="#170041"/>
<rect x="731.3" y="825.7" width="16.7" height="16.7" fill="#11007f"/>
<rect x="747.6" y="825.7" width="16.7" height="16.7" fill="#0000b7"/>
<rect x="763.9" y="825.7" width="16.7" height="16.7" fill="#0018f5"/>
<rect x="780.2" y="825.7" width="16.7" height="16.7" fill="#0041ff"/>
<rect x="796.5" y="825.7" width="16.7" height="16.7" fill="#0044ff"/>
<rect x="812.8" y="825.7" width="16.7" height="16.7" fill="#0024fa"/>
<rect x="829.1" y="825.7" width="16.7" height="16.7" fill="#0200ae"/>
<rect x="845.4" y="825.7" width="16.7" height="16.7" fill="#17005d"/>
<rect x="861.7" y="825.7" width="16.7" height="16.7" fill="#0e001e"/>
<rect x="1041" y="825.7" width="16.7" height="16.7" fill="#020004"/>
<rect x="1057.3" y="825.7" width="7.7" height="16.7" fill="#150037"/>
<rect x="307.5" y="842" width="16.7" height="16.7" fill="#010001"/>
<rect x="323.8" y="842" width="16.7" height="16.7" fill="#090013"/>
<rect x="340.1" y="842" width="16.7" height="16.7" fill="#0a0014"/>
<rect x="356.4" y="842" width="49.3" height="16.7" fill="#0a0015"/>
<rect x="405.3" y="842" width="16.7" height="16.7" fill="#090013"/>
<rect x="421.6" y="842" width="16.7" height="16.7" fill="#080011"/>
<rect x="437.9" y="842" width="16.7" height="16.7" fill="#000001"/>
<rect x="715" y="842" width="16.7" height="16.7" fill="#150034"/>
<rect x="731.3" y="842" width="16.7" height="16.7" fill="#14006c"/>
<rect x="747.6" y="842" width="16.7" height="16.7" fill="#0300a9"/>
<rect x="763.9" y="842" width="16.7" height="16.7" fill="#000df1"/>
<rect x="780.2" y="842" width="16.7" height="16.7" fill="#003bff"/>
<rect x="796.5" y="842" width="16.7" height="16.7" fill="#003fff"/>
<rect x="812.8" y="842" width="16.7" height="16.7" fill="#001ef8"/>
<rect x="829.1" y="842" width="16.7" height="16.7" fill="#0700a0"/>
<rect x="845.4" y="842" width="16.7" height="16.7" fill="#190049"/>
<rect x="861.7" y="842" width="16.7" height="16.7" fill="#090013"/>
<rect x="1057.3" y="842" width="7.7" height="16.7" fill="#0c001a"/>
<rect x="307.5" y="858.3" width="16.7" height="16.7" fill="#030006"/>
<rect x="323.8" y="858.3" width="81.9" height="16.7" fill="#090013"/>
<rect x="405.3" y="858.3" width="16.7" height="16.7" fill="#090012"/>
<rect x="421.6" y="858.3" width="16.7" height="16.7" fill="#080010"/>
<rect x="437.9" y="858.3" width="16.7" height="16.7" fill="#000001"/>
<rect x="715" y="858.3" width="16.7" height="16.7" fill="#130029"/>
<rect x="731.3" y="858.3" width="16.7" height="16.7" fill="#190057"/>
<rect x="747.6" y="858.3" width="16.7" height="16.7" fill="#08009c"/>
<rect x="763.9" y="858.3" width="16.7" height="16.7" fill="#0008e5"/>
<rect x="780.2" y="858.3" width="16.7" height="16.7" fill="#0035ff"/>
<rect x="796.5" y="858.3" width="16.7" height="16.7" fill="#003aff"/>
<rect x="812.8" y="858.3" width="16.7" height="16.7" fill="#0018f5"/>
<rect x="829.1" y="858.3" width="16.7" height="16.7" fill="#0b0092"/>
<rect x="845.4" y="858.3" width="16.7" height="16.7" fill="#16003b"/>
<rect x="861.7" y="858.3" width="16.7" height="16.7" fill="#040009"/>
<rect x="307.5" y="874.6" width="16.7" height="16.7" fill="#030006"/>
<rect x="323.8" y="874.6" width="81.9" height="16.7" fill="#090013"/>
<rect x="405.3" y="874.6" width="16.7" height="16.7" fill="#090012"/>
<rect x="421.6" y="874.6" width="16.7" height="16.7" fill="#080010"/>
<rect x="437.9" y="874.6" width="16.7" height="16.7" fill="#000001"/>
<rect x="715" y="874.6" width="16.7" height="16.7" fill="#120029"/>
<rect x="731.3" y="874.6" width="16.7" height="16.7" fill="#190056"/>
<rect x="747.6" y="874.6" width="16.7" height="16.7" fill="#08009b"/>
<rect x="763.9" y="874.6" width="16.7" height="16.7" fill="#0008e4"/>
<rect x="780.2" y="874.6" width="16.7" height="16.7" fill="#0031ff"/>
<rect x="796.5" y="874.6" width="16.7" height="16.7" fill="#0035ff"/>
<rect x="812.8" y="874.6" width="16.7" height="16.7" fill="#0013f3"/>
<rect x="829.1" y="874.6" width="16.7" height="16.7" fill="#0b0091"/>
<rect x="845.4" y="874.6" width="16.7" height="16.7" fill="#16003a"/>
<rect x="861.7" y="874.6" width="16.7" height="16.7" fill="#040009"/>
<rect x="307.5" y="890.9" width="16.7" height="9.5" fill="#030006"/>
<rect x="323.8" y="890.9" width="81.9" height="9.5" fill="#090013"/>
<rect x="405.3" y="890.9" width="16.7" height="9.5" fill="#090012"/>
<rect x="421.6" y="890.9" width="16.7" height="9.5" fill="#080010"/>
<rect x="437.9" y="890.9" width="16.7" height="9.5" fill="#000001"/>
<rect x="715" y="890.9" width="16.7" height="9.5" fill="#120029"/>
<rect x="731.3" y="890.9" width="16.7" height="9.5" fill="#190056"/>
<rect x="747.6" y="890.9" width="16.7" height="9.5" fill="#08009b"/>
<rect x="763.9" y="890.9" width="16.7" height="9.5" fill="#0008e4"/>
<rect x="780.2" y="890.9" width="16.7" height="9.5" fill="#002efe"/>
<rect x="796.5" y="890.9" width="16.7" height="9.5" fill="#0031ff"/>
<rect x="812.8" y="890.9" width="16.7" height="9.5" fill="#0010f2"/>
<rect x="829.1" y="890.9" width="16.7" height="9.5" fill="#0b0092"/>
<rect x="845.4" y="890.9" width="16.7" height="9.5" fill="#16003a"/>
<rect x="861.7" y="890.9" width="16.7" height="9.5" fill="#040009"/>
</g>
<rect x="169.7" y="2.85" width="895.3" height="897.55" fill="none" stroke="#222" stroke-width="1"/>
<path d="M169.7 8h8M1065 8h-8M169.7 72h16M1065 72h-16M169.7 136h8M1065 136h-8M169.7 200h8M1065 200h-8M169.7 264h8M1065 264h-8M169.7 328h16M1065 328h-16M169.7 392h8M1065 392h-8M169.7 456h8M1065 456h-8M169.7 520h8M1065 520h-8M169.7 584h16M1065 584h-16M169.7 648h8M1065 648h-8M169.7 712h8M1065 712h-8M169.7 776h8M1065 776h-8M169.7 840h16M1065 840h-16M176.44 2.85v8M176.44 900.4v-8M436.6 2.85v16M436.6 900.4v-16M696.76 2.85v8M696.76 900.4v-8M956.92 2.85v16M956.92 900.4v-16" stroke="#000" stroke-width="1.2" fill="none"/>
<text class="thin" x="154.3" y="81.5" font-size="28" text-anchor="end">35°54'00''</text>
<text class="thin" x="154.3" y="337.5" font-size="28" text-anchor="end">35°52'00''</text>
<text class="thin" x="154.3" y="593.5" font-size="28" text-anchor="end">35°50'00''</text>
<text class="thin" x="154.3" y="849.5" font-size="28" text-anchor="end">35°48'00''</text>
<text class="thin" x="436.7" y="942" font-size="28" text-anchor="middle">5<tspan dy="-17" font-size="18.5">h</tspan><tspan dy="17">41</tspan><tspan dy="-17" font-size="18.5">m</tspan><tspan dy="17">20</tspan><tspan dy="-17" font-size="18.5">s</tspan></text>
<text class="thin" x="957" y="942" font-size="28" text-anchor="middle">41<tspan dy="-17" font-size="18.5">m</tspan><tspan dy="17">00</tspan><tspan dy="-17" font-size="18.5">s</tspan></text>
<text class="bold" x="618.5" y="973.5" font-size="31.3" stroke-width="1.9" word-spacing="5" letter-spacing="-0.4" text-anchor="middle">R.A. (J2000)</text>
<text class="bold" transform="translate(27 452) rotate(-90)" font-size="31.3" stroke-width="1.9" word-spacing="2" text-anchor="middle">DEC. (J2000)</text>
<defs><linearGradient id="cb" x1="0" y1="1" x2="0" y2="0">
<stop offset="0" stop-color="#000000"/>
<stop offset="0.02" stop-color="#0e001e"/>
<stop offset="0.04" stop-color="#17003f"/>
<stop offset="0.05" stop-color="#160064"/>
<stop offset="0.07" stop-color="#0d008c"/>
<stop offset="0.09" stop-color="#0000b4"/>
<stop offset="0.11" stop-color="#0008e4"/>
<stop offset="0.12" stop-color="#0022f9"/>
<stop offset="0.14" stop-color="#0044ff"/>
<stop offset="0.16" stop-color="#0068ff"/>
<stop offset="0.18" stop-color="#008cff"/>
<stop offset="0.2" stop-color="#00acff"/>
<stop offset="0.21" stop-color="#00ccff"/>
<stop offset="0.23" stop-color="#00eaff"/>
<stop offset="0.25" stop-color="#00fff9"/>
<stop offset="0.27" stop-color="#00ffdf"/>
<stop offset="0.29" stop-color="#00ffc6"/>
<stop offset="0.3" stop-color="#00ffad"/>
<stop offset="0.32" stop-color="#00ff93"/>
<stop offset="0.34" stop-color="#00ff7a"/>
<stop offset="0.36" stop-color="#00ff60"/>
<stop offset="0.38" stop-color="#00ff47"/>
<stop offset="0.39" stop-color="#00ff2d"/>
<stop offset="0.41" stop-color="#00ff13"/>
<stop offset="0.43" stop-color="#08ff00"/>
<stop offset="0.45" stop-color="#2aff00"/>
<stop offset="0.46" stop-color="#4dff00"/>
<stop offset="0.48" stop-color="#6fff00"/>
<stop offset="0.5" stop-color="#8eff00"/>
<stop offset="0.52" stop-color="#abff00"/>
<stop offset="0.54" stop-color="#c8ff00"/>
<stop offset="0.55" stop-color="#e5ff00"/>
<stop offset="0.57" stop-color="#fffc00"/>
<stop offset="0.59" stop-color="#ffe600"/>
<stop offset="0.61" stop-color="#ffcf00"/>
<stop offset="0.63" stop-color="#ffb900"/>
<stop offset="0.64" stop-color="#ffa200"/>
<stop offset="0.66" stop-color="#ff8b00"/>
<stop offset="0.68" stop-color="#ff7200"/>
<stop offset="0.7" stop-color="#ff5400"/>
<stop offset="0.71" stop-color="#ff3700"/>
<stop offset="0.73" stop-color="#ff1a00"/>
<stop offset="0.75" stop-color="#ff0003"/>
<stop offset="0.77" stop-color="#ff0021"/>
<stop offset="0.79" stop-color="#ff003e"/>
<stop offset="0.8" stop-color="#ff005b"/>
<stop offset="0.82" stop-color="#ff0078"/>
<stop offset="0.84" stop-color="#ff0094"/>
<stop offset="0.86" stop-color="#ff00af"/>
<stop offset="0.88" stop-color="#ff00cb"/>
<stop offset="0.89" stop-color="#ff00e6"/>
<stop offset="0.91" stop-color="#ff28fa"/>
<stop offset="0.93" stop-color="#f755ff"/>
<stop offset="0.95" stop-color="#ec85ff"/>
<stop offset="0.96" stop-color="#edafff"/>
<stop offset="0.98" stop-color="#f0d7ff"/>
<stop offset="1" stop-color="#f9efff"/>
</linearGradient></defs>
<rect x="1071" y="5.7" width="25.5" height="895.8" fill="url(#cb)"/>
<rect x="1068" y="2.9" width="31.3" height="898.6" rx="2" fill="none" stroke="#000" stroke-width="6.4" stroke-linejoin="round"/>
<path d="M1097 861.5h-6.5M1097 821.5h-6.5M1097 781.5h-6.5M1097 741.5h-6.5M1097 701.5h-15M1097 661.5h-6.5M1097 621.5h-6.5M1097 581.5h-6.5M1097 541.5h-6.5M1097 501.5h-15M1097 461.5h-6.5M1097 421.5h-6.5M1097 381.5h-6.5M1097 341.5h-6.5M1097 301.5h-15M1097 261.5h-6.5M1097 221.5h-6.5M1097 181.5h-6.5M1097 141.5h-6.5M1097 101.5h-15M1097 61.5h-6.5M1097 21.5h-6.5" stroke="#000" stroke-width="6" stroke-linecap="round" fill="none"/>
<text class="bold" x="1124.8" y="911.9" font-size="33" stroke-width="1.8" text-anchor="middle">0</text>
<text class="bold" x="1124.8" y="711.9" font-size="33" stroke-width="1.8" text-anchor="middle">1</text>
<text class="bold" x="1124.8" y="511.9" font-size="33" stroke-width="1.8" text-anchor="middle">2</text>
<text class="bold" x="1124.8" y="311.9" font-size="33" stroke-width="1.8" text-anchor="middle">3</text>
<text class="bold" x="1124.8" y="111.9" font-size="33" stroke-width="1.8" text-anchor="middle">4</text>
<line x1="384.5" y1="268.3" x2="1288" y2="492" stroke="#000" stroke-width="7.6"/>
<circle cx="329.7" cy="223.6" r="5.8" fill="none" stroke="#000" stroke-width="6.2"/>
<path d="M352.5 258h16M360.5 250v16" stroke="#000" stroke-width="6.4" stroke-linecap="round" fill="none"/>
<circle cx="815.8" cy="326.3" r="6.2" fill="none" stroke="#e8e8e8" stroke-width="1.1"/>
<rect x="1360.2" y="343.8" width="726.8" height="381.4" fill="none" stroke="#000" stroke-width="2.7"/>
<path d="M1389.27 725.2v-5.4M1389.27 343.8v5.4M1418.34 725.2v-5.4M1418.34 343.8v5.4M1447.42 725.2v-5.4M1447.42 343.8v5.4M1476.49 725.2v-5.4M1476.49 343.8v5.4M1505.56 725.2v-9.8M1505.56 343.8v9.8M1534.63 725.2v-5.4M1534.63 343.8v5.4M1563.7 725.2v-5.4M1563.7 343.8v5.4M1592.78 725.2v-5.4M1592.78 343.8v5.4M1621.85 725.2v-5.4M1621.85 343.8v5.4M1650.92 725.2v-9.8M1650.92 343.8v9.8M1679.99 725.2v-5.4M1679.99 343.8v5.4M1709.06 725.2v-5.4M1709.06 343.8v5.4M1738.14 725.2v-5.4M1738.14 343.8v5.4M1767.21 725.2v-5.4M1767.21 343.8v5.4M1796.28 725.2v-9.8M1796.28 343.8v9.8M1825.35 725.2v-5.4M1825.35 343.8v5.4M1854.42 725.2v-5.4M1854.42 343.8v5.4M1883.5 725.2v-5.4M1883.5 343.8v5.4M1912.57 725.2v-5.4M1912.57 343.8v5.4M1941.64 725.2v-9.8M1941.64 343.8v9.8M1970.71 725.2v-5.4M1970.71 343.8v5.4M1999.78 725.2v-5.4M1999.78 343.8v5.4M2028.86 725.2v-5.4M2028.86 343.8v5.4M2057.93 725.2v-5.4M2057.93 343.8v5.4M1360.2 723.88h5.4M2087 723.88h-5.4M1360.2 690.8h9.8M2087 690.8h-9.8M1360.2 657.72h5.4M2087 657.72h-5.4M1360.2 624.65h5.4M2087 624.65h-5.4M1360.2 591.57h5.4M2087 591.57h-5.4M1360.2 558.5h9.8M2087 558.5h-9.8M1360.2 525.42h5.4M2087 525.42h-5.4M1360.2 492.35h5.4M2087 492.35h-5.4M1360.2 459.27h5.4M2087 459.27h-5.4M1360.2 426.2h9.8M2087 426.2h-9.8M1360.2 393.12h5.4M2087 393.12h-5.4M1360.2 360.05h5.4M2087 360.05h-5.4" stroke="#000" stroke-width="2.1" fill="none"/>
<text class="pl" x="1360.5" y="749" font-size="17.5" text-anchor="middle" letter-spacing="1.3">−35</text>
<text class="pl" x="1505.86" y="749" font-size="17.5" text-anchor="middle" letter-spacing="1.3">−30</text>
<text class="pl" x="1651.22" y="749" font-size="17.5" text-anchor="middle" letter-spacing="1.3">−25</text>
<text class="pl" x="1796.58" y="749" font-size="17.5" text-anchor="middle" letter-spacing="1.3">−20</text>
<text class="pl" x="1941.94" y="749" font-size="17.5" text-anchor="middle" letter-spacing="1.3">−15</text>
<text class="pl" x="2087.3" y="749" font-size="17.5" text-anchor="middle" letter-spacing="1.3">−10</text>
<text class="pl" x="1350.5" y="697.1" font-size="17.5" text-anchor="end">0</text>
<text class="pl" x="1350.5" y="564.8" font-size="17.5" text-anchor="end">2</text>
<text class="pl" x="1350.5" y="432.5" font-size="17.5" text-anchor="end">4</text>
<text class="pl" x="1723.3" y="767" font-size="16.6" text-anchor="middle" letter-spacing="1.1" word-spacing="3">Velocity (km/s)</text>
<text class="pl" transform="translate(1313 491) rotate(-90)" font-size="16.6" text-anchor="middle" letter-spacing="0.85" word-spacing="2">Flux density (Jy)</text>
<text class="pl" x="1874.8" y="401.3" font-size="17.3" letter-spacing="0.65">G173.617+2.883</text>
<path d="M1360.2 702.71H1362.02V692.71H1363.83V690.67H1365.65V689.13H1367.47V694.04H1369.29V690.79H1371.1V690.8H1372.92V698H1374.74V686.63H1376.55V688.34H1378.37V693.37H1380.19V691.5H1382V688.73H1383.82V691.87H1385.64V691.8H1387.46V696.76H1389.27V688.53H1391.09V690.29H1392.91V689.67H1394.72V697.06H1396.54V681.54H1398.36V690.17H1400.17V692.39H1401.99V682.48H1403.81V690.99H1405.62V696.75H1407.44V692.46H1409.26V700.19H1411.08V686.5H1412.89V692.51H1414.71V693.85H1416.53V686.4H1418.34V697.57H1420.16V688.6H1421.98V700.06H1423.8V693.52H1425.61V695.74H1427.43V684.8H1429.25V683.56H1431.06V692.15H1432.88V687.35H1434.7V691.54H1436.51V688.47H1438.33V693.89H1440.15V697.81H1441.97V698.2H1443.78V689.23H1445.6V681.58H1447.42V689.7H1449.23V692.95H1451.05V682.96H1452.87V689.83H1454.68V690.38H1456.5V689.76H1458.32V691.34H1460.13V692.07H1461.95V696.69H1463.77V688.74H1465.59V691.19H1467.4V685.91H1469.22V692.31H1471.04V698.62H1472.85V691.21H1474.67V683.83H1476.49V692.37H1478.31V694.45H1480.12V695.7H1481.94V695.11H1483.76V692.03H1485.57V695.64H1487.39V684.66H1489.21V691.96H1491.02V690.35H1492.84V684.9H1494.66V684.63H1496.48V691.67H1498.29V689.44H1500.11V687.79H1501.93V691.59H1503.74V698.09H1505.56V688.11H1507.38V687.13H1509.19V689.1H1511.01V694.59H1512.83V691.6H1514.64V693.22H1516.46V692.03H1518.28V685.48H1520.1V684.53H1521.91V688.05H1523.73V688.55H1525.55V688.02H1527.36V690.85H1529.18V691.11H1531V693.56H1532.82V691.03H1534.63V681.53H1536.45V687.24H1538.27V705.35H1540.08V692.74H1541.9V694.35H1543.72V689.26H1545.53V689.19H1547.35V696.72H1549.17V688.81H1550.99V693.14H1552.8V684.95H1554.62V690.16H1556.44V683.76H1558.25V692.68H1560.07V691.98H1561.89V689.57H1563.7V686.47H1565.52V688.48H1567.34V695.86H1569.15V690.05H1570.97V690.71H1572.79V692.56H1574.61V693.46H1576.42V683.63H1578.24V692.4H1580.06V694.27H1581.87V688.19H1583.69V690.26H1585.51V691.11H1587.33V687.6H1589.14V688.8H1590.96V689.31H1592.78V686.85H1594.59V689.64H1596.41V693.33H1598.23V708.66H1600.04V692.94H1601.86V689.94H1603.68V695.22H1605.5V705.35H1607.31V690.44H1609.13V696.28H1610.95V698.81H1612.76V689.27H1614.58V693.72H1616.4V688.77H1618.21V692.98H1620.03V695.4H1621.85V695.9H1623.66V692.91H1625.48V691.92H1627.3V694.18H1629.12V691.95H1630.93V697.1H1632.75V690.74H1634.57V698.16H1636.38V691.6H1638.2V687.94H1640.02V686.32H1641.84V683.77H1643.65V697.18H1645.47V687.69H1647.29V685.85H1649.1V686.78H1650.92V700.72H1652.74V689.11H1654.55V683.17H1656.37V696.94H1658.19V684.81H1660.01V676.95H1661.82V661.35H1663.64V596.88H1665.46V539.95H1667.27V409.66H1669.09V360.05H1670.91V389.82H1672.72V411.77H1674.54V451H1676.36V488.45H1678.17V510.59H1679.99V506.53H1681.81V498.97H1683.63V507.05H1685.44V543.6H1687.26V592.72H1689.08V638.34H1690.89V678.27H1692.71V685.8H1694.53V690.32H1696.35V698.4H1698.16V696.42H1699.98V687.8H1701.8V691.86H1703.61V686.13H1705.43V689.68H1707.25V693.87H1709.06V686.36H1710.88V694.11H1712.7V699.22H1714.52V682.34H1716.33V702.71H1718.15V688.19H1719.97V686.95H1721.78V690.2H1723.6V697.7H1725.42V686.64H1727.23V696.71H1729.05V696.31H1730.87V692.28H1732.68V687.57H1734.5V689.57H1736.32V687.47H1738.14V692.62H1739.95V691.51H1741.77V695.46H1743.59V692.1H1745.4V688.37H1747.22V692.03H1749.04V688.85H1750.86V693.15H1752.67V693.23H1754.49V690.64H1756.31V691.6H1758.12V688.37H1759.94V690.07H1761.76V699.4H1763.57V691.7H1765.39V691.73H1767.21V676.25H1769.03V690.71H1770.84V688H1772.66V693.84H1774.48V702.71H1776.29V687.85H1778.11V687.16H1779.93V685.32H1781.74V677.86H1783.56V679.34H1785.38V670.38H1787.2V657.69H1789.01V647.03H1790.83V651.1H1792.65V662.12H1794.46V672.01H1796.28V680.18H1798.1V687.67H1799.91V676.43H1801.73V679.32H1803.55V674.92H1805.37V679.04H1807.18V667.8H1809V671.42H1810.82V667.09H1812.63V667.84H1814.45V660.38H1816.27V656.9H1818.08V653.11H1819.9V647.58H1821.72V643.36H1823.54V625.75H1825.35V606.41H1827.17V589.4H1828.99V580.27H1830.8V592.21H1832.62V613.68H1834.44V631.55H1836.25V651.11H1838.07V655.74H1839.89V661.49H1841.7V681.05H1843.52V690.45H1845.34V689.53H1847.16V692.86H1848.97V688.18H1850.79V690.85H1852.61V685.09H1854.42V700.72H1856.24V693.77H1858.06V688.32H1859.88V686.96H1861.69V693.13H1863.51V692.55H1865.33V700.25H1867.14V687.09H1868.96V693.21H1870.78V699.5H1872.59V698.05H1874.41V691.71H1876.23V687.68H1878.05V691.17H1879.86V688.87H1881.68V695.32H1883.5V696.3H1885.31V687.17H1887.13V688.78H1888.95V690.93H1890.76V685.54H1892.58V694.7H1894.4V692.52H1896.22V686.59H1898.03V683.26H1899.85V690.77H1901.67V683.91H1903.48V693.27H1905.3V689.45H1907.12V691.51H1908.93V697.31H1910.75V689.74H1912.57V686.97H1914.38V691.41H1916.2V691.09H1918.02V685.09H1919.84V695.93H1921.65V696.94H1923.47V693.48H1925.29V695.71H1927.1V685.28H1928.92V689.53H1930.74V694.34H1932.56V693.32H1934.37V679.07H1936.19V693.3H1938.01V693.93H1939.82V689.55H1941.64V688.18H1943.46V689.89H1945.27V694.53H1947.09V702.71H1948.91V688.36H1950.72V691.02H1952.54V697.53H1954.36V686H1956.18V687.62H1957.99V691.79H1959.81V691.87H1961.63V689.85H1963.44V693.62H1965.26V696.33H1967.08V689.48H1968.89V696.7H1970.71V689.2H1972.53V696.71H1974.35V691.21H1976.16V691.36H1977.98V683.49H1979.8V695.17H1981.61V696.6H1983.43V693.45H1985.25V695.41H1987.07V693.22H1988.88V689.07H1990.7V687.63H1992.52V683.99H1994.33V693.82H1996.15V679.98H1997.97V682.67H1999.78V691.63H2001.6V700.2H2003.42V691.14H2005.24V690.5H2007.05V700.23H2008.87V700.72H2010.69V674.26H2012.5V694.02H2014.32V688.23H2016.14V686.68H2017.95V692.79H2019.77V689.86H2021.59V693.49H2023.41V694.03H2025.22V690.47H2027.04V688.65H2028.86V693.11H2030.67V699.88H2032.49V688.4H2034.31V697.35H2036.12V690.3H2037.94V683.5H2039.76V690.87H2041.58V695.68H2043.39V696.79H2045.21V686H2047.03V690.87H2048.84V688.59H2050.66V687H2052.48V691H2054.29V698.74H2056.11V694.69H2057.93V703.44H2059.74V697.03H2061.56V691.09H2063.38V691.52H2065.2V689.14H2067.01V691.32H2068.83V690.15H2070.65V687.57H2072.46V694.43H2074.28V691.98H2076.1V697.39H2077.91V686.81H2079.73V690.64H2081.55V688.79H2083.37V684.47H2085.18V686.37H2087" stroke="#000" stroke-width="2.3" fill="none" stroke-linejoin="miter"/>
</svg></body></html>
